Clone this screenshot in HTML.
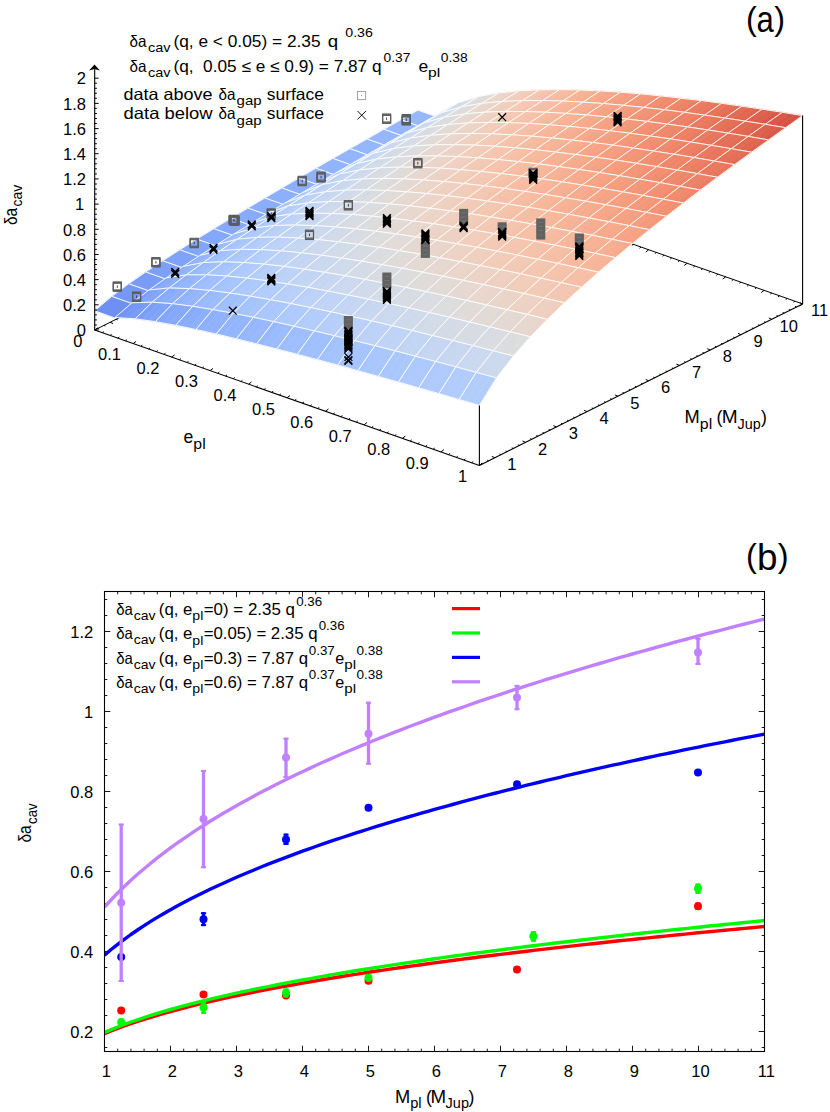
<!DOCTYPE html>
<html><head><meta charset="utf-8"><title>fig</title>
<style>
html,body{margin:0;padding:0;background:#fff;}
body{width:830px;height:1112px;overflow:hidden;font-family:"Liberation Sans",sans-serif;}
svg{display:block;}
text{font-family:"Liberation Sans",sans-serif;fill:#000;}
</style></head><body>
<svg width="830" height="1112" viewBox="0 0 830 1112">
<g stroke="#000" stroke-width="1.0" fill="none"><line x1="94.7" y1="330.0" x2="417.9" y2="168.5"/><line x1="802.6" y1="303.9" x2="417.9" y2="168.5"/><line x1="417.9" y1="168.5" x2="414.9" y2="170.7"/><line x1="425.6" y1="171.2" x2="424.1" y2="172.3"/><line x1="433.3" y1="173.9" x2="431.8" y2="175.1"/><line x1="441.0" y1="176.6" x2="439.5" y2="177.8"/><line x1="448.7" y1="179.3" x2="447.2" y2="180.5"/><line x1="456.4" y1="182.0" x2="453.4" y2="184.3"/><line x1="464.1" y1="184.7" x2="462.5" y2="185.9"/><line x1="471.8" y1="187.5" x2="470.2" y2="188.6"/><line x1="479.5" y1="190.2" x2="477.9" y2="191.3"/><line x1="487.1" y1="192.9" x2="485.6" y2="194.0"/><line x1="494.8" y1="195.6" x2="491.9" y2="197.8"/><line x1="502.5" y1="198.3" x2="501.0" y2="199.4"/><line x1="510.2" y1="201.0" x2="508.7" y2="202.1"/><line x1="517.9" y1="203.7" x2="516.4" y2="204.8"/><line x1="525.6" y1="206.4" x2="524.1" y2="207.6"/><line x1="533.3" y1="209.1" x2="530.3" y2="211.3"/><line x1="541.0" y1="211.8" x2="539.5" y2="213.0"/><line x1="548.7" y1="214.5" x2="547.2" y2="215.7"/><line x1="556.4" y1="217.2" x2="554.9" y2="218.4"/><line x1="564.1" y1="220.0" x2="562.6" y2="221.1"/><line x1="571.8" y1="222.7" x2="568.8" y2="224.9"/><line x1="579.5" y1="225.4" x2="578.0" y2="226.5"/><line x1="587.2" y1="228.1" x2="585.6" y2="229.2"/><line x1="594.9" y1="230.8" x2="593.3" y2="231.9"/><line x1="602.6" y1="233.5" x2="601.0" y2="234.6"/><line x1="610.2" y1="236.2" x2="607.3" y2="238.4"/><line x1="617.9" y1="238.9" x2="616.4" y2="240.0"/><line x1="625.6" y1="241.6" x2="624.1" y2="242.8"/><line x1="633.3" y1="244.3" x2="631.8" y2="245.5"/><line x1="641.0" y1="247.0" x2="639.5" y2="248.2"/><line x1="648.7" y1="249.7" x2="645.8" y2="252.0"/><line x1="656.4" y1="252.4" x2="654.9" y2="253.6"/><line x1="664.1" y1="255.2" x2="662.6" y2="256.3"/><line x1="671.8" y1="257.9" x2="670.3" y2="259.0"/><line x1="679.5" y1="260.6" x2="678.0" y2="261.7"/><line x1="687.2" y1="263.3" x2="684.2" y2="265.5"/><line x1="694.9" y1="266.0" x2="693.4" y2="267.1"/><line x1="702.6" y1="268.7" x2="701.1" y2="269.8"/><line x1="710.3" y1="271.4" x2="708.8" y2="272.5"/><line x1="718.0" y1="274.1" x2="716.4" y2="275.3"/><line x1="725.7" y1="276.8" x2="722.7" y2="279.0"/><line x1="733.4" y1="279.5" x2="731.8" y2="280.7"/><line x1="741.0" y1="282.2" x2="739.5" y2="283.4"/><line x1="748.7" y1="284.9" x2="747.2" y2="286.1"/><line x1="756.4" y1="287.7" x2="754.9" y2="288.8"/><line x1="764.1" y1="290.4" x2="761.2" y2="292.6"/><line x1="771.8" y1="293.1" x2="770.3" y2="294.2"/><line x1="779.5" y1="295.8" x2="778.0" y2="296.9"/><line x1="787.2" y1="298.5" x2="785.7" y2="299.6"/><line x1="794.9" y1="301.2" x2="793.4" y2="302.3"/><line x1="802.6" y1="303.9" x2="799.6" y2="306.1"/><line x1="97.8" y1="328.5" x2="99.2" y2="329.1"/><line x1="103.9" y1="325.4" x2="105.4" y2="326.0"/><line x1="110.1" y1="322.3" x2="113.1" y2="323.6"/><line x1="116.2" y1="319.2" x2="117.7" y2="319.9"/><line x1="122.4" y1="316.2" x2="123.9" y2="316.8"/><line x1="128.6" y1="313.1" x2="130.0" y2="313.7"/><line x1="134.7" y1="310.0" x2="136.2" y2="310.6"/><line x1="140.9" y1="306.9" x2="143.9" y2="308.2"/><line x1="147.0" y1="303.9" x2="148.5" y2="304.5"/><line x1="153.2" y1="300.8" x2="154.7" y2="301.4"/><line x1="159.3" y1="297.7" x2="160.8" y2="298.3"/><line x1="165.5" y1="294.6" x2="167.0" y2="295.3"/><line x1="171.7" y1="291.5" x2="174.7" y2="292.9"/><line x1="177.8" y1="288.5" x2="179.3" y2="289.1"/><line x1="184.0" y1="285.4" x2="185.4" y2="286.0"/><line x1="190.1" y1="282.3" x2="191.6" y2="283.0"/><line x1="196.3" y1="279.2" x2="197.7" y2="279.9"/><line x1="202.4" y1="276.2" x2="205.5" y2="277.5"/><line x1="208.6" y1="273.1" x2="210.1" y2="273.7"/><line x1="214.7" y1="270.0" x2="216.2" y2="270.6"/><line x1="220.9" y1="266.9" x2="222.4" y2="267.6"/><line x1="227.1" y1="263.9" x2="228.5" y2="264.5"/><line x1="233.2" y1="260.8" x2="236.2" y2="262.1"/><line x1="239.4" y1="257.7" x2="240.8" y2="258.3"/><line x1="245.5" y1="254.6" x2="247.0" y2="255.3"/><line x1="251.7" y1="251.6" x2="253.2" y2="252.2"/><line x1="257.8" y1="248.5" x2="259.3" y2="249.1"/><line x1="264.0" y1="245.4" x2="267.0" y2="246.7"/><line x1="270.2" y1="242.3" x2="271.6" y2="243.0"/><line x1="276.3" y1="239.3" x2="277.8" y2="239.9"/><line x1="282.5" y1="236.2" x2="283.9" y2="236.8"/><line x1="288.6" y1="233.1" x2="290.1" y2="233.7"/><line x1="294.8" y1="230.0" x2="297.8" y2="231.3"/><line x1="300.9" y1="226.9" x2="302.4" y2="227.6"/><line x1="307.1" y1="223.9" x2="308.6" y2="224.5"/><line x1="313.2" y1="220.8" x2="314.7" y2="221.4"/><line x1="319.4" y1="217.7" x2="320.9" y2="218.4"/><line x1="325.6" y1="214.6" x2="328.6" y2="216.0"/><line x1="331.7" y1="211.6" x2="333.2" y2="212.2"/><line x1="337.9" y1="208.5" x2="339.3" y2="209.1"/><line x1="344.0" y1="205.4" x2="345.5" y2="206.0"/><line x1="350.2" y1="202.3" x2="351.7" y2="203.0"/><line x1="356.3" y1="199.3" x2="359.4" y2="200.6"/><line x1="362.5" y1="196.2" x2="364.0" y2="196.8"/><line x1="368.7" y1="193.1" x2="370.1" y2="193.7"/><line x1="374.8" y1="190.0" x2="376.3" y2="190.7"/><line x1="381.0" y1="187.0" x2="382.4" y2="187.6"/><line x1="387.1" y1="183.9" x2="390.1" y2="185.2"/><line x1="393.3" y1="180.8" x2="394.7" y2="181.4"/><line x1="399.4" y1="177.7" x2="400.9" y2="178.4"/><line x1="405.6" y1="174.7" x2="407.1" y2="175.3"/><line x1="411.7" y1="171.6" x2="413.2" y2="172.2"/><line x1="417.9" y1="168.5" x2="420.9" y2="169.8"/></g>
<g id="surf" stroke-linejoin="round">
<polygon points="400.9,119.7 421.1,126.9 438.1,117.3 417.9,110.2" fill="#97b8ff" stroke="#97b8ff" stroke-width="0.6"/>
<polygon points="400.9,119.7 421.1,126.9 438.1,117.3 417.9,110.2" fill="none" stroke="#fff" stroke-width="0.9"/>
<polygon points="421.1,123.8 427.9,120.1 444.9,110.3 438.1,114.1" fill="#b3cdfb" stroke="#b3cdfb" stroke-width="0.6"/>
<polygon points="427.9,120.1 434.6,116.4 451.6,106.5 444.9,110.3" fill="#bed2f6" stroke="#bed2f6" stroke-width="0.6"/>
<polygon points="434.6,116.4 441.4,112.7 458.4,102.7 451.6,106.5" fill="#c5d6f2" stroke="#c5d6f2" stroke-width="0.6"/>
<polygon points="421.1,123.8 441.4,112.7 458.4,102.7 438.1,114.1" fill="none" stroke="#fff" stroke-width="0.9"/>
<polygon points="441.4,112.7 448.1,110.8 465.1,100.7 458.4,102.7" fill="#ccd9ed" stroke="#ccd9ed" stroke-width="0.6"/>
<polygon points="448.1,110.8 454.9,108.8 471.9,98.6 465.1,100.7" fill="#d2dbe8" stroke="#d2dbe8" stroke-width="0.6"/>
<polygon points="454.9,108.8 461.6,106.8 478.6,96.5 471.9,98.6" fill="#d7dce3" stroke="#d7dce3" stroke-width="0.6"/>
<polygon points="441.4,112.7 461.6,106.8 478.6,96.5 458.4,102.7" fill="none" stroke="#fff" stroke-width="0.9"/>
<polygon points="461.6,106.8 468.4,105.6 485.4,95.3 478.6,96.5" fill="#dbdcde" stroke="#dbdcde" stroke-width="0.6"/>
<polygon points="468.4,105.6 475.1,104.5 492.1,94.1 485.4,95.3" fill="#dfdbd9" stroke="#dfdbd9" stroke-width="0.6"/>
<polygon points="475.1,104.5 481.9,103.3 498.9,92.9 492.1,94.1" fill="#e3d9d3" stroke="#e3d9d3" stroke-width="0.6"/>
<polygon points="461.6,106.8 481.9,103.3 498.9,92.9 478.6,96.5" fill="none" stroke="#fff" stroke-width="0.9"/>
<polygon points="481.9,103.3 488.6,102.7 505.6,92.2 498.9,92.9" fill="#e7d7ce" stroke="#e7d7ce" stroke-width="0.6"/>
<polygon points="488.6,102.7 495.4,102.1 512.4,91.5 505.6,92.2" fill="#ead5c9" stroke="#ead5c9" stroke-width="0.6"/>
<polygon points="495.4,102.1 502.1,101.4 519.1,90.8 512.4,91.5" fill="#edd2c3" stroke="#edd2c3" stroke-width="0.6"/>
<polygon points="481.9,103.3 502.1,101.4 519.1,90.8 498.9,92.9" fill="none" stroke="#fff" stroke-width="0.9"/>
<polygon points="502.1,101.4 508.9,101.1 525.9,90.4 519.1,90.8" fill="#efcfbf" stroke="#efcfbf" stroke-width="0.6"/>
<polygon points="508.9,101.1 515.6,100.8 532.6,90.1 525.9,90.4" fill="#f1cdba" stroke="#f1cdba" stroke-width="0.6"/>
<polygon points="515.6,100.8 522.4,100.6 539.4,89.8 532.6,90.1" fill="#f2cab5" stroke="#f2cab5" stroke-width="0.6"/>
<polygon points="502.1,101.4 522.4,100.6 539.4,89.8 519.1,90.8" fill="none" stroke="#fff" stroke-width="0.9"/>
<polygon points="522.4,100.6 529.1,100.5 546.1,89.7 539.4,89.8" fill="#f3c7b1" stroke="#f3c7b1" stroke-width="0.6"/>
<polygon points="529.1,100.5 535.9,100.5 552.9,89.6 546.1,89.7" fill="#f5c4ac" stroke="#f5c4ac" stroke-width="0.6"/>
<polygon points="535.9,100.5 542.6,100.5 559.6,89.6 552.9,89.6" fill="#f5c0a7" stroke="#f5c0a7" stroke-width="0.6"/>
<polygon points="522.4,100.6 542.6,100.5 559.6,89.6 539.4,89.8" fill="none" stroke="#fff" stroke-width="0.9"/>
<polygon points="542.6,100.5 549.4,100.7 566.4,89.7 559.6,89.6" fill="#f6bea4" stroke="#f6bea4" stroke-width="0.6"/>
<polygon points="549.4,100.7 556.1,100.9 573.1,89.8 566.4,89.7" fill="#f7ba9f" stroke="#f7ba9f" stroke-width="0.6"/>
<polygon points="556.1,100.9 562.9,101.0 579.9,90.0 573.1,89.8" fill="#f7b89c" stroke="#f7b89c" stroke-width="0.6"/>
<polygon points="542.6,100.5 562.9,101.0 579.9,90.0 559.6,89.6" fill="none" stroke="#fff" stroke-width="0.9"/>
<polygon points="562.9,101.0 569.6,101.4 586.6,90.3 579.9,90.0" fill="#f7b497" stroke="#f7b497" stroke-width="0.6"/>
<polygon points="569.6,101.4 576.4,101.7 593.4,90.6 586.6,90.3" fill="#f7b194" stroke="#f7b194" stroke-width="0.6"/>
<polygon points="576.4,101.7 583.1,102.1 600.1,90.9 593.4,90.6" fill="#f7af91" stroke="#f7af91" stroke-width="0.6"/>
<polygon points="562.9,101.0 583.1,102.1 600.1,90.9 579.9,90.0" fill="none" stroke="#fff" stroke-width="0.9"/>
<polygon points="583.1,102.1 589.9,102.6 606.9,91.4 600.1,90.9" fill="#f7ac8e" stroke="#f7ac8e" stroke-width="0.6"/>
<polygon points="589.9,102.6 596.6,103.0 613.6,91.8 606.9,91.4" fill="#f7a889" stroke="#f7a889" stroke-width="0.6"/>
<polygon points="596.6,103.0 603.4,103.5 620.4,92.2 613.6,91.8" fill="#f6a586" stroke="#f6a586" stroke-width="0.6"/>
<polygon points="583.1,102.1 603.4,103.5 620.4,92.2 600.1,90.9" fill="none" stroke="#fff" stroke-width="0.9"/>
<polygon points="603.4,103.5 610.1,104.1 627.1,92.8 620.4,92.2" fill="#f6a283" stroke="#f6a283" stroke-width="0.6"/>
<polygon points="610.1,104.1 616.9,104.7 633.9,93.4 627.1,92.8" fill="#f59f80" stroke="#f59f80" stroke-width="0.6"/>
<polygon points="616.9,104.7 623.6,105.3 640.6,93.9 633.9,93.4" fill="#f59c7d" stroke="#f59c7d" stroke-width="0.6"/>
<polygon points="603.4,103.5 623.6,105.3 640.6,93.9 620.4,92.2" fill="none" stroke="#fff" stroke-width="0.9"/>
<polygon points="623.6,105.3 630.4,106.0 647.4,94.6 640.6,93.9" fill="#f4987a" stroke="#f4987a" stroke-width="0.6"/>
<polygon points="630.4,106.0 637.1,106.7 654.1,95.3 647.4,94.6" fill="#f39577" stroke="#f39577" stroke-width="0.6"/>
<polygon points="637.1,106.7 643.9,107.4 660.9,95.9 654.1,95.3" fill="#f29274" stroke="#f29274" stroke-width="0.6"/>
<polygon points="623.6,105.3 643.9,107.4 660.9,95.9 640.6,93.9" fill="none" stroke="#fff" stroke-width="0.9"/>
<polygon points="643.9,107.4 650.6,108.2 667.6,96.7 660.9,95.9" fill="#f18f71" stroke="#f18f71" stroke-width="0.6"/>
<polygon points="650.6,108.2 657.4,109.0 674.4,97.4 667.6,96.7" fill="#f08b6e" stroke="#f08b6e" stroke-width="0.6"/>
<polygon points="657.4,109.0 664.1,109.7 681.1,98.2 674.4,97.4" fill="#f08a6c" stroke="#f08a6c" stroke-width="0.6"/>
<polygon points="643.9,107.4 664.1,109.7 681.1,98.2 660.9,95.9" fill="none" stroke="#fff" stroke-width="0.9"/>
<polygon points="664.1,109.7 670.9,110.6 687.9,99.0 681.1,98.2" fill="#ee8669" stroke="#ee8669" stroke-width="0.6"/>
<polygon points="670.9,110.6 677.6,111.4 694.6,99.8 687.9,99.0" fill="#ed8366" stroke="#ed8366" stroke-width="0.6"/>
<polygon points="677.6,111.4 684.4,112.3 701.4,100.6 694.6,99.8" fill="#ec7f63" stroke="#ec7f63" stroke-width="0.6"/>
<polygon points="664.1,109.7 684.4,112.3 701.4,100.6 681.1,98.2" fill="none" stroke="#fff" stroke-width="0.9"/>
<polygon points="684.4,112.3 691.1,113.2 708.1,101.5 701.4,100.6" fill="#eb7d62" stroke="#eb7d62" stroke-width="0.6"/>
<polygon points="691.1,113.2 697.9,114.1 714.9,102.4 708.1,101.5" fill="#e97a5f" stroke="#e97a5f" stroke-width="0.6"/>
<polygon points="697.9,114.1 704.6,115.1 721.6,103.3 714.9,102.4" fill="#e8765c" stroke="#e8765c" stroke-width="0.6"/>
<polygon points="684.4,112.3 704.6,115.1 721.6,103.3 701.4,100.6" fill="none" stroke="#fff" stroke-width="0.9"/>
<polygon points="704.6,115.1 711.3,116.0 728.4,104.3 721.6,103.3" fill="#e7745b" stroke="#e7745b" stroke-width="0.6"/>
<polygon points="711.3,116.0 718.1,117.0 735.1,105.2 728.4,104.3" fill="#e57058" stroke="#e57058" stroke-width="0.6"/>
<polygon points="718.1,117.0 724.8,118.0 741.9,106.2 735.1,105.2" fill="#e36c55" stroke="#e36c55" stroke-width="0.6"/>
<polygon points="704.6,115.1 724.8,118.0 741.9,106.2 721.6,103.3" fill="none" stroke="#fff" stroke-width="0.9"/>
<polygon points="724.8,118.0 731.6,119.0 748.6,107.2 741.9,106.2" fill="#e36b54" stroke="#e36b54" stroke-width="0.6"/>
<polygon points="731.6,119.0 738.3,120.0 755.4,108.2 748.6,107.2" fill="#e16751" stroke="#e16751" stroke-width="0.6"/>
<polygon points="738.3,120.0 745.1,121.1 762.1,109.2 755.4,108.2" fill="#e0654f" stroke="#e0654f" stroke-width="0.6"/>
<polygon points="724.8,118.0 745.1,121.1 762.1,109.2 741.9,106.2" fill="none" stroke="#fff" stroke-width="0.9"/>
<polygon points="745.1,121.1 751.8,122.2 768.9,110.2 762.1,109.2" fill="#de614d" stroke="#de614d" stroke-width="0.6"/>
<polygon points="751.8,122.2 758.6,123.2 775.6,111.3 768.9,110.2" fill="#dd5f4b" stroke="#dd5f4b" stroke-width="0.6"/>
<polygon points="758.6,123.2 765.3,124.3 782.4,112.3 775.6,111.3" fill="#da5a49" stroke="#da5a49" stroke-width="0.6"/>
<polygon points="745.1,121.1 765.3,124.3 782.4,112.3 762.1,109.2" fill="none" stroke="#fff" stroke-width="0.9"/>
<polygon points="765.3,124.3 772.1,125.4 789.1,113.4 782.4,112.3" fill="#d95847" stroke="#d95847" stroke-width="0.6"/>
<polygon points="772.1,125.4 778.8,126.6 795.9,114.5 789.1,113.4" fill="#d75445" stroke="#d75445" stroke-width="0.6"/>
<polygon points="778.8,126.6 785.6,127.7 802.6,115.6 795.9,114.5" fill="#d65244" stroke="#d65244" stroke-width="0.6"/>
<polygon points="765.3,124.3 785.6,127.7 802.6,115.6 782.4,112.3" fill="none" stroke="#fff" stroke-width="0.9"/>
<polygon points="383.9,129.3 404.1,136.5 421.1,126.9 400.9,119.7" fill="#96b7ff" stroke="#96b7ff" stroke-width="0.6"/>
<polygon points="383.9,129.3 404.1,136.5 421.1,126.9 400.9,119.7" fill="none" stroke="#fff" stroke-width="0.9"/>
<polygon points="404.1,133.5 410.9,129.9 427.9,120.1 421.1,123.8" fill="#b2ccfb" stroke="#b2ccfb" stroke-width="0.6"/>
<polygon points="410.9,129.9 417.6,126.4 434.6,116.4 427.9,120.1" fill="#bbd1f8" stroke="#bbd1f8" stroke-width="0.6"/>
<polygon points="417.6,126.4 424.4,122.8 441.4,112.7 434.6,116.4" fill="#c3d5f4" stroke="#c3d5f4" stroke-width="0.6"/>
<polygon points="404.1,133.5 424.4,122.8 441.4,112.7 421.1,123.8" fill="none" stroke="#fff" stroke-width="0.9"/>
<polygon points="424.4,122.8 431.1,120.9 448.1,110.8 441.4,112.7" fill="#cad8ef" stroke="#cad8ef" stroke-width="0.6"/>
<polygon points="431.1,120.9 437.9,119.0 454.9,108.8 448.1,110.8" fill="#cfdaea" stroke="#cfdaea" stroke-width="0.6"/>
<polygon points="437.9,119.0 444.6,117.1 461.6,106.8 454.9,108.8" fill="#d5dbe5" stroke="#d5dbe5" stroke-width="0.6"/>
<polygon points="424.4,122.8 444.6,117.1 461.6,106.8 441.4,112.7" fill="none" stroke="#fff" stroke-width="0.9"/>
<polygon points="444.6,117.1 451.4,116.0 468.4,105.6 461.6,106.8" fill="#d9dce1" stroke="#d9dce1" stroke-width="0.6"/>
<polygon points="451.4,116.0 458.1,114.9 475.1,104.5 468.4,105.6" fill="#dddcdc" stroke="#dddcdc" stroke-width="0.6"/>
<polygon points="458.1,114.9 464.9,113.9 481.9,103.3 475.1,104.5" fill="#e1dad6" stroke="#e1dad6" stroke-width="0.6"/>
<polygon points="444.6,117.1 464.9,113.9 481.9,103.3 461.6,106.8" fill="none" stroke="#fff" stroke-width="0.9"/>
<polygon points="464.9,113.9 471.6,113.3 488.6,102.7 481.9,103.3" fill="#e5d8d1" stroke="#e5d8d1" stroke-width="0.6"/>
<polygon points="471.6,113.3 478.4,112.7 495.4,102.1 488.6,102.7" fill="#e8d6cc" stroke="#e8d6cc" stroke-width="0.6"/>
<polygon points="478.4,112.7 485.1,112.1 502.1,101.4 495.4,102.1" fill="#ead4c8" stroke="#ead4c8" stroke-width="0.6"/>
<polygon points="464.9,113.9 485.1,112.1 502.1,101.4 481.9,103.3" fill="none" stroke="#fff" stroke-width="0.9"/>
<polygon points="485.1,112.1 491.9,111.9 508.9,101.1 502.1,101.4" fill="#edd2c3" stroke="#edd2c3" stroke-width="0.6"/>
<polygon points="491.9,111.9 498.6,111.7 515.6,100.8 508.9,101.1" fill="#efcebd" stroke="#efcebd" stroke-width="0.6"/>
<polygon points="498.6,111.7 505.4,111.4 522.4,100.6 515.6,100.8" fill="#f1cdba" stroke="#f1cdba" stroke-width="0.6"/>
<polygon points="485.1,112.1 505.4,111.4 522.4,100.6 502.1,101.4" fill="none" stroke="#fff" stroke-width="0.9"/>
<polygon points="505.4,111.4 512.1,111.5 529.1,100.5 522.4,100.6" fill="#f2cab5" stroke="#f2cab5" stroke-width="0.6"/>
<polygon points="512.1,111.5 518.9,111.5 535.9,100.5 529.1,100.5" fill="#f3c7b1" stroke="#f3c7b1" stroke-width="0.6"/>
<polygon points="518.9,111.5 525.6,111.5 542.6,100.5 535.9,100.5" fill="#f5c4ac" stroke="#f5c4ac" stroke-width="0.6"/>
<polygon points="505.4,111.4 525.6,111.5 542.6,100.5 522.4,100.6" fill="none" stroke="#fff" stroke-width="0.9"/>
<polygon points="525.6,111.5 532.4,111.7 549.4,100.7 542.6,100.5" fill="#f5c1a9" stroke="#f5c1a9" stroke-width="0.6"/>
<polygon points="532.4,111.7 539.1,112.0 556.1,100.9 549.4,100.7" fill="#f6bea4" stroke="#f6bea4" stroke-width="0.6"/>
<polygon points="539.1,112.0 545.9,112.2 562.9,101.0 556.1,100.9" fill="#f7bca1" stroke="#f7bca1" stroke-width="0.6"/>
<polygon points="525.6,111.5 545.9,112.2 562.9,101.0 542.6,100.5" fill="none" stroke="#fff" stroke-width="0.9"/>
<polygon points="545.9,112.2 552.6,112.6 569.6,101.4 562.9,101.0" fill="#f7b89c" stroke="#f7b89c" stroke-width="0.6"/>
<polygon points="552.6,112.6 559.4,113.0 576.4,101.7 569.6,101.4" fill="#f7b599" stroke="#f7b599" stroke-width="0.6"/>
<polygon points="559.4,113.0 566.1,113.4 583.1,102.1 576.4,101.7" fill="#f7b396" stroke="#f7b396" stroke-width="0.6"/>
<polygon points="545.9,112.2 566.1,113.4 583.1,102.1 562.9,101.0" fill="none" stroke="#fff" stroke-width="0.9"/>
<polygon points="566.1,113.4 572.9,113.9 589.9,102.6 583.1,102.1" fill="#f7b093" stroke="#f7b093" stroke-width="0.6"/>
<polygon points="572.9,113.9 579.6,114.4 596.6,103.0 589.9,102.6" fill="#f7ad90" stroke="#f7ad90" stroke-width="0.6"/>
<polygon points="579.6,114.4 586.4,114.9 603.4,103.5 596.6,103.0" fill="#f7a98b" stroke="#f7a98b" stroke-width="0.6"/>
<polygon points="566.1,113.4 586.4,114.9 603.4,103.5 583.1,102.1" fill="none" stroke="#fff" stroke-width="0.9"/>
<polygon points="586.4,114.9 593.1,115.5 610.1,104.1 603.4,103.5" fill="#f7a688" stroke="#f7a688" stroke-width="0.6"/>
<polygon points="593.1,115.5 599.9,116.2 616.9,104.7 610.1,104.1" fill="#f6a385" stroke="#f6a385" stroke-width="0.6"/>
<polygon points="599.9,116.2 606.6,116.8 623.6,105.3 616.9,104.7" fill="#f5a081" stroke="#f5a081" stroke-width="0.6"/>
<polygon points="586.4,114.9 606.6,116.8 623.6,105.3 603.4,103.5" fill="none" stroke="#fff" stroke-width="0.9"/>
<polygon points="606.6,116.8 613.3,117.5 630.4,106.0 623.6,105.3" fill="#f59d7e" stroke="#f59d7e" stroke-width="0.6"/>
<polygon points="613.3,117.5 620.1,118.3 637.1,106.7 630.4,106.0" fill="#f49a7b" stroke="#f49a7b" stroke-width="0.6"/>
<polygon points="620.1,118.3 626.8,119.0 643.9,107.4 637.1,106.7" fill="#f4987a" stroke="#f4987a" stroke-width="0.6"/>
<polygon points="606.6,116.8 626.8,119.0 643.9,107.4 623.6,105.3" fill="none" stroke="#fff" stroke-width="0.9"/>
<polygon points="626.8,119.0 633.6,119.8 650.6,108.2 643.9,107.4" fill="#f39577" stroke="#f39577" stroke-width="0.6"/>
<polygon points="633.6,119.8 640.3,120.6 657.4,109.0 650.6,108.2" fill="#f29274" stroke="#f29274" stroke-width="0.6"/>
<polygon points="640.3,120.6 647.1,121.4 664.1,109.7 657.4,109.0" fill="#f18f71" stroke="#f18f71" stroke-width="0.6"/>
<polygon points="626.8,119.0 647.1,121.4 664.1,109.7 643.9,107.4" fill="none" stroke="#fff" stroke-width="0.9"/>
<polygon points="647.1,121.4 653.8,122.3 670.9,110.6 664.1,109.7" fill="#f08b6e" stroke="#f08b6e" stroke-width="0.6"/>
<polygon points="653.8,122.3 660.6,123.2 677.6,111.4 670.9,110.6" fill="#f08a6c" stroke="#f08a6c" stroke-width="0.6"/>
<polygon points="660.6,123.2 667.3,124.1 684.4,112.3 677.6,111.4" fill="#ee8669" stroke="#ee8669" stroke-width="0.6"/>
<polygon points="647.1,121.4 667.3,124.1 684.4,112.3 664.1,109.7" fill="none" stroke="#fff" stroke-width="0.9"/>
<polygon points="667.3,124.1 674.1,125.0 691.1,113.2 684.4,112.3" fill="#ed8366" stroke="#ed8366" stroke-width="0.6"/>
<polygon points="674.1,125.0 680.8,126.0 697.9,114.1 691.1,113.2" fill="#ec8165" stroke="#ec8165" stroke-width="0.6"/>
<polygon points="680.8,126.0 687.6,126.9 704.6,115.1 697.9,114.1" fill="#eb7d62" stroke="#eb7d62" stroke-width="0.6"/>
<polygon points="667.3,124.1 687.6,126.9 704.6,115.1 684.4,112.3" fill="none" stroke="#fff" stroke-width="0.9"/>
<polygon points="687.6,126.9 694.3,127.9 711.3,116.0 704.6,115.1" fill="#e97a5f" stroke="#e97a5f" stroke-width="0.6"/>
<polygon points="694.3,127.9 701.1,128.9 718.1,117.0 711.3,116.0" fill="#e9785d" stroke="#e9785d" stroke-width="0.6"/>
<polygon points="701.1,128.9 707.8,129.9 724.8,118.0 718.1,117.0" fill="#e7745b" stroke="#e7745b" stroke-width="0.6"/>
<polygon points="687.6,126.9 707.8,129.9 724.8,118.0 704.6,115.1" fill="none" stroke="#fff" stroke-width="0.9"/>
<polygon points="707.8,129.9 714.6,131.0 731.6,119.0 724.8,118.0" fill="#e67259" stroke="#e67259" stroke-width="0.6"/>
<polygon points="714.6,131.0 721.3,132.0 738.3,120.0 731.6,119.0" fill="#e46e56" stroke="#e46e56" stroke-width="0.6"/>
<polygon points="721.3,132.0 728.1,133.1 745.1,121.1 738.3,120.0" fill="#e36c55" stroke="#e36c55" stroke-width="0.6"/>
<polygon points="707.8,129.9 728.1,133.1 745.1,121.1 724.8,118.0" fill="none" stroke="#fff" stroke-width="0.9"/>
<polygon points="728.1,133.1 734.8,134.2 751.8,122.2 745.1,121.1" fill="#e26952" stroke="#e26952" stroke-width="0.6"/>
<polygon points="734.8,134.2 741.6,135.3 758.6,123.2 751.8,122.2" fill="#e16751" stroke="#e16751" stroke-width="0.6"/>
<polygon points="741.6,135.3 748.3,136.4 765.3,124.3 758.6,123.2" fill="#df634e" stroke="#df634e" stroke-width="0.6"/>
<polygon points="728.1,133.1 748.3,136.4 765.3,124.3 745.1,121.1" fill="none" stroke="#fff" stroke-width="0.9"/>
<polygon points="748.3,136.4 755.1,137.6 772.1,125.4 765.3,124.3" fill="#de614d" stroke="#de614d" stroke-width="0.6"/>
<polygon points="755.1,137.6 761.8,138.7 778.8,126.6 772.1,125.4" fill="#dc5d4a" stroke="#dc5d4a" stroke-width="0.6"/>
<polygon points="761.8,138.7 768.6,139.9 785.6,127.7 778.8,126.6" fill="#da5a49" stroke="#da5a49" stroke-width="0.6"/>
<polygon points="748.3,136.4 768.6,139.9 785.6,127.7 765.3,124.3" fill="none" stroke="#fff" stroke-width="0.9"/>
<polygon points="366.9,139.0 387.1,146.1 404.1,136.5 383.9,129.3" fill="#96b7ff" stroke="#96b7ff" stroke-width="0.6"/>
<polygon points="366.9,139.0 387.1,146.1 404.1,136.5 383.9,129.3" fill="none" stroke="#fff" stroke-width="0.9"/>
<polygon points="387.1,143.2 393.9,139.8 410.9,129.9 404.1,133.5" fill="#afcafc" stroke="#afcafc" stroke-width="0.6"/>
<polygon points="393.9,139.8 400.6,136.4 417.6,126.4 410.9,129.9" fill="#b9d0f9" stroke="#b9d0f9" stroke-width="0.6"/>
<polygon points="400.6,136.4 407.4,132.9 424.4,122.8 417.6,126.4" fill="#c0d4f5" stroke="#c0d4f5" stroke-width="0.6"/>
<polygon points="387.1,143.2 407.4,132.9 424.4,122.8 404.1,133.5" fill="none" stroke="#fff" stroke-width="0.9"/>
<polygon points="407.4,132.9 414.1,131.1 431.1,120.9 424.4,122.8" fill="#c7d7f0" stroke="#c7d7f0" stroke-width="0.6"/>
<polygon points="414.1,131.1 420.9,129.3 437.9,119.0 431.1,120.9" fill="#cdd9ec" stroke="#cdd9ec" stroke-width="0.6"/>
<polygon points="420.9,129.3 427.6,127.5 444.6,117.1 437.9,119.0" fill="#d2dbe8" stroke="#d2dbe8" stroke-width="0.6"/>
<polygon points="407.4,132.9 427.6,127.5 444.6,117.1 424.4,122.8" fill="none" stroke="#fff" stroke-width="0.9"/>
<polygon points="427.6,127.5 434.4,126.5 451.4,116.0 444.6,117.1" fill="#d7dce3" stroke="#d7dce3" stroke-width="0.6"/>
<polygon points="434.4,126.5 441.1,125.5 458.1,114.9 451.4,116.0" fill="#dbdcde" stroke="#dbdcde" stroke-width="0.6"/>
<polygon points="441.1,125.5 447.9,124.5 464.9,113.9 458.1,114.9" fill="#dfdbd9" stroke="#dfdbd9" stroke-width="0.6"/>
<polygon points="427.6,127.5 447.9,124.5 464.9,113.9 444.6,117.1" fill="none" stroke="#fff" stroke-width="0.9"/>
<polygon points="447.9,124.5 454.6,124.0 471.6,113.3 464.9,113.9" fill="#e2dad5" stroke="#e2dad5" stroke-width="0.6"/>
<polygon points="454.6,124.0 461.4,123.4 478.4,112.7 471.6,113.3" fill="#e5d8d1" stroke="#e5d8d1" stroke-width="0.6"/>
<polygon points="461.4,123.4 468.1,122.9 485.1,112.1 478.4,112.7" fill="#e9d5cb" stroke="#e9d5cb" stroke-width="0.6"/>
<polygon points="447.9,124.5 468.1,122.9 485.1,112.1 464.9,113.9" fill="none" stroke="#fff" stroke-width="0.9"/>
<polygon points="468.1,122.9 474.9,122.7 491.9,111.9 485.1,112.1" fill="#ebd3c6" stroke="#ebd3c6" stroke-width="0.6"/>
<polygon points="474.9,122.7 481.6,122.6 498.6,111.7 491.9,111.9" fill="#edd1c2" stroke="#edd1c2" stroke-width="0.6"/>
<polygon points="481.6,122.6 488.4,122.4 505.4,111.4 498.6,111.7" fill="#efcebd" stroke="#efcebd" stroke-width="0.6"/>
<polygon points="468.1,122.9 488.4,122.4 505.4,111.4 485.1,112.1" fill="none" stroke="#fff" stroke-width="0.9"/>
<polygon points="488.4,122.4 495.1,122.5 512.1,111.5 505.4,111.4" fill="#f1cdba" stroke="#f1cdba" stroke-width="0.6"/>
<polygon points="495.1,122.5 501.9,122.5 518.9,111.5 512.1,111.5" fill="#f2cab5" stroke="#f2cab5" stroke-width="0.6"/>
<polygon points="501.9,122.5 508.6,122.6 525.6,111.5 518.9,111.5" fill="#f3c7b1" stroke="#f3c7b1" stroke-width="0.6"/>
<polygon points="488.4,122.4 508.6,122.6 525.6,111.5 505.4,111.4" fill="none" stroke="#fff" stroke-width="0.9"/>
<polygon points="508.6,122.6 515.3,122.9 532.4,111.7 525.6,111.5" fill="#f4c5ad" stroke="#f4c5ad" stroke-width="0.6"/>
<polygon points="515.3,122.9 522.1,123.2 539.1,112.0 532.4,111.7" fill="#f5c1a9" stroke="#f5c1a9" stroke-width="0.6"/>
<polygon points="522.1,123.2 528.8,123.4 545.9,112.2 539.1,112.0" fill="#f6bfa6" stroke="#f6bfa6" stroke-width="0.6"/>
<polygon points="508.6,122.6 528.8,123.4 545.9,112.2 525.6,111.5" fill="none" stroke="#fff" stroke-width="0.9"/>
<polygon points="528.8,123.4 535.6,123.9 552.6,112.6 545.9,112.2" fill="#f6bda2" stroke="#f6bda2" stroke-width="0.6"/>
<polygon points="535.6,123.9 542.3,124.3 559.4,113.0 552.6,112.6" fill="#f7b99e" stroke="#f7b99e" stroke-width="0.6"/>
<polygon points="542.3,124.3 549.1,124.7 566.1,113.4 559.4,113.0" fill="#f7b79b" stroke="#f7b79b" stroke-width="0.6"/>
<polygon points="528.8,123.4 549.1,124.7 566.1,113.4 545.9,112.2" fill="none" stroke="#fff" stroke-width="0.9"/>
<polygon points="549.1,124.7 555.8,125.3 572.9,113.9 566.1,113.4" fill="#f7b497" stroke="#f7b497" stroke-width="0.6"/>
<polygon points="555.8,125.3 562.6,125.8 579.6,114.4 572.9,113.9" fill="#f7b194" stroke="#f7b194" stroke-width="0.6"/>
<polygon points="562.6,125.8 569.3,126.4 586.4,114.9 579.6,114.4" fill="#f7af91" stroke="#f7af91" stroke-width="0.6"/>
<polygon points="549.1,124.7 569.3,126.4 586.4,114.9 566.1,113.4" fill="none" stroke="#fff" stroke-width="0.9"/>
<polygon points="569.3,126.4 576.1,127.1 593.1,115.5 586.4,114.9" fill="#f7ac8e" stroke="#f7ac8e" stroke-width="0.6"/>
<polygon points="576.1,127.1 582.8,127.7 599.9,116.2 593.1,115.5" fill="#f7a98b" stroke="#f7a98b" stroke-width="0.6"/>
<polygon points="582.8,127.7 589.6,128.4 606.6,116.8 599.9,116.2" fill="#f7a688" stroke="#f7a688" stroke-width="0.6"/>
<polygon points="569.3,126.4 589.6,128.4 606.6,116.8 586.4,114.9" fill="none" stroke="#fff" stroke-width="0.9"/>
<polygon points="589.6,128.4 596.3,129.2 613.3,117.5 606.6,116.8" fill="#f6a385" stroke="#f6a385" stroke-width="0.6"/>
<polygon points="596.3,129.2 603.1,129.9 620.1,118.3 613.3,117.5" fill="#f5a081" stroke="#f5a081" stroke-width="0.6"/>
<polygon points="603.1,129.9 609.8,130.7 626.8,119.0 620.1,118.3" fill="#f59d7e" stroke="#f59d7e" stroke-width="0.6"/>
<polygon points="589.6,128.4 609.8,130.7 626.8,119.0 606.6,116.8" fill="none" stroke="#fff" stroke-width="0.9"/>
<polygon points="609.8,130.7 616.6,131.5 633.6,119.8 626.8,119.0" fill="#f49a7b" stroke="#f49a7b" stroke-width="0.6"/>
<polygon points="616.6,131.5 623.3,132.4 640.3,120.6 633.6,119.8" fill="#f4987a" stroke="#f4987a" stroke-width="0.6"/>
<polygon points="623.3,132.4 630.1,133.2 647.1,121.4 640.3,120.6" fill="#f39577" stroke="#f39577" stroke-width="0.6"/>
<polygon points="609.8,130.7 630.1,133.2 647.1,121.4 626.8,119.0" fill="none" stroke="#fff" stroke-width="0.9"/>
<polygon points="630.1,133.2 636.8,134.1 653.8,122.3 647.1,121.4" fill="#f29274" stroke="#f29274" stroke-width="0.6"/>
<polygon points="636.8,134.1 643.6,135.0 660.6,123.2 653.8,122.3" fill="#f18f71" stroke="#f18f71" stroke-width="0.6"/>
<polygon points="643.6,135.0 650.3,136.0 667.3,124.1 660.6,123.2" fill="#f18d6f" stroke="#f18d6f" stroke-width="0.6"/>
<polygon points="630.1,133.2 650.3,136.0 667.3,124.1 647.1,121.4" fill="none" stroke="#fff" stroke-width="0.9"/>
<polygon points="650.3,136.0 657.1,136.9 674.1,125.0 667.3,124.1" fill="#f08a6c" stroke="#f08a6c" stroke-width="0.6"/>
<polygon points="657.1,136.9 663.8,137.9 680.8,126.0 674.1,125.0" fill="#ef886b" stroke="#ef886b" stroke-width="0.6"/>
<polygon points="663.8,137.9 670.6,138.9 687.6,126.9 680.8,126.0" fill="#ee8468" stroke="#ee8468" stroke-width="0.6"/>
<polygon points="650.3,136.0 670.6,138.9 687.6,126.9 667.3,124.1" fill="none" stroke="#fff" stroke-width="0.9"/>
<polygon points="670.6,138.9 677.3,139.9 694.3,127.9 687.6,126.9" fill="#ec8165" stroke="#ec8165" stroke-width="0.6"/>
<polygon points="677.3,139.9 684.1,141.0 701.1,128.9 694.3,127.9" fill="#ec7f63" stroke="#ec7f63" stroke-width="0.6"/>
<polygon points="684.1,141.0 690.8,142.0 707.8,129.9 701.1,128.9" fill="#ea7b60" stroke="#ea7b60" stroke-width="0.6"/>
<polygon points="670.6,138.9 690.8,142.0 707.8,129.9 687.6,126.9" fill="none" stroke="#fff" stroke-width="0.9"/>
<polygon points="690.8,142.0 697.6,143.1 714.6,131.0 707.8,129.9" fill="#e97a5f" stroke="#e97a5f" stroke-width="0.6"/>
<polygon points="697.6,143.1 704.3,144.2 721.3,132.0 714.6,131.0" fill="#e8765c" stroke="#e8765c" stroke-width="0.6"/>
<polygon points="704.3,144.2 711.1,145.3 728.1,133.1 721.3,132.0" fill="#e7745b" stroke="#e7745b" stroke-width="0.6"/>
<polygon points="690.8,142.0 711.1,145.3 728.1,133.1 707.8,129.9" fill="none" stroke="#fff" stroke-width="0.9"/>
<polygon points="711.1,145.3 717.8,146.4 734.8,134.2 728.1,133.1" fill="#e57058" stroke="#e57058" stroke-width="0.6"/>
<polygon points="717.8,146.4 724.6,147.5 741.6,135.3 734.8,134.2" fill="#e46e56" stroke="#e46e56" stroke-width="0.6"/>
<polygon points="724.6,147.5 731.3,148.7 748.3,136.4 741.6,135.3" fill="#e36c55" stroke="#e36c55" stroke-width="0.6"/>
<polygon points="711.1,145.3 731.3,148.7 748.3,136.4 728.1,133.1" fill="none" stroke="#fff" stroke-width="0.9"/>
<polygon points="731.3,148.7 738.1,149.8 755.1,137.6 748.3,136.4" fill="#e26952" stroke="#e26952" stroke-width="0.6"/>
<polygon points="738.1,149.8 744.8,151.0 761.8,138.7 755.1,137.6" fill="#e16751" stroke="#e16751" stroke-width="0.6"/>
<polygon points="744.8,151.0 751.6,152.2 768.6,139.9 761.8,138.7" fill="#df634e" stroke="#df634e" stroke-width="0.6"/>
<polygon points="731.3,148.7 751.6,152.2 768.6,139.9 748.3,136.4" fill="none" stroke="#fff" stroke-width="0.9"/>
<polygon points="349.9,148.7 370.1,155.8 387.1,146.1 366.9,139.0" fill="#94b6ff" stroke="#94b6ff" stroke-width="0.6"/>
<polygon points="349.9,148.7 370.1,155.8 387.1,146.1 366.9,139.0" fill="none" stroke="#fff" stroke-width="0.9"/>
<polygon points="370.1,153.0 376.9,149.7 393.9,139.8 387.1,143.2" fill="#aec9fc" stroke="#aec9fc" stroke-width="0.6"/>
<polygon points="376.9,149.7 383.6,146.4 400.6,136.4 393.9,139.8" fill="#b7cff9" stroke="#b7cff9" stroke-width="0.6"/>
<polygon points="383.6,146.4 390.4,143.1 407.4,132.9 400.6,136.4" fill="#bfd3f6" stroke="#bfd3f6" stroke-width="0.6"/>
<polygon points="370.1,153.0 390.4,143.1 407.4,132.9 387.1,143.2" fill="none" stroke="#fff" stroke-width="0.9"/>
<polygon points="390.4,143.1 397.1,141.4 414.1,131.1 407.4,132.9" fill="#c5d6f2" stroke="#c5d6f2" stroke-width="0.6"/>
<polygon points="397.1,141.4 403.9,139.7 420.9,129.3 414.1,131.1" fill="#cbd8ee" stroke="#cbd8ee" stroke-width="0.6"/>
<polygon points="403.9,139.7 410.6,138.0 427.6,127.5 420.9,129.3" fill="#cfdaea" stroke="#cfdaea" stroke-width="0.6"/>
<polygon points="390.4,143.1 410.6,138.0 427.6,127.5 407.4,132.9" fill="none" stroke="#fff" stroke-width="0.9"/>
<polygon points="410.6,138.0 417.3,137.0 434.4,126.5 427.6,127.5" fill="#d4dbe6" stroke="#d4dbe6" stroke-width="0.6"/>
<polygon points="417.3,137.0 424.1,136.1 441.1,125.5 434.4,126.5" fill="#d8dce2" stroke="#d8dce2" stroke-width="0.6"/>
<polygon points="424.1,136.1 430.8,135.2 447.9,124.5 441.1,125.5" fill="#dcdddd" stroke="#dcdddd" stroke-width="0.6"/>
<polygon points="410.6,138.0 430.8,135.2 447.9,124.5 427.6,127.5" fill="none" stroke="#fff" stroke-width="0.9"/>
<polygon points="430.8,135.2 437.6,134.7 454.6,124.0 447.9,124.5" fill="#e0dbd8" stroke="#e0dbd8" stroke-width="0.6"/>
<polygon points="437.6,134.7 444.3,134.3 461.4,123.4 454.6,124.0" fill="#e3d9d3" stroke="#e3d9d3" stroke-width="0.6"/>
<polygon points="444.3,134.3 451.1,133.8 468.1,122.9 461.4,123.4" fill="#e6d7cf" stroke="#e6d7cf" stroke-width="0.6"/>
<polygon points="430.8,135.2 451.1,133.8 468.1,122.9 447.9,124.5" fill="none" stroke="#fff" stroke-width="0.9"/>
<polygon points="451.1,133.8 457.8,133.7 474.9,122.7 468.1,122.9" fill="#e9d5cb" stroke="#e9d5cb" stroke-width="0.6"/>
<polygon points="457.8,133.7 464.6,133.6 481.6,122.6 474.9,122.7" fill="#ebd3c6" stroke="#ebd3c6" stroke-width="0.6"/>
<polygon points="464.6,133.6 471.3,133.4 488.4,122.4 481.6,122.6" fill="#edd1c2" stroke="#edd1c2" stroke-width="0.6"/>
<polygon points="451.1,133.8 471.3,133.4 488.4,122.4 468.1,122.9" fill="none" stroke="#fff" stroke-width="0.9"/>
<polygon points="471.3,133.4 478.1,133.6 495.1,122.5 488.4,122.4" fill="#efcebd" stroke="#efcebd" stroke-width="0.6"/>
<polygon points="478.1,133.6 484.8,133.7 501.9,122.5 495.1,122.5" fill="#f1cdba" stroke="#f1cdba" stroke-width="0.6"/>
<polygon points="484.8,133.7 491.6,133.8 508.6,122.6 501.9,122.5" fill="#f2cab5" stroke="#f2cab5" stroke-width="0.6"/>
<polygon points="471.3,133.4 491.6,133.8 508.6,122.6 488.4,122.4" fill="none" stroke="#fff" stroke-width="0.9"/>
<polygon points="491.6,133.8 498.3,134.1 515.3,122.9 508.6,122.6" fill="#f3c8b2" stroke="#f3c8b2" stroke-width="0.6"/>
<polygon points="498.3,134.1 505.1,134.5 522.1,123.2 515.3,122.9" fill="#f4c5ad" stroke="#f4c5ad" stroke-width="0.6"/>
<polygon points="505.1,134.5 511.8,134.8 528.8,123.4 522.1,123.2" fill="#f5c2aa" stroke="#f5c2aa" stroke-width="0.6"/>
<polygon points="491.6,133.8 511.8,134.8 528.8,123.4 508.6,122.6" fill="none" stroke="#fff" stroke-width="0.9"/>
<polygon points="511.8,134.8 518.6,135.3 535.6,123.9 528.8,123.4" fill="#f5c0a7" stroke="#f5c0a7" stroke-width="0.6"/>
<polygon points="518.6,135.3 525.3,135.7 542.3,124.3 535.6,123.9" fill="#f6bea4" stroke="#f6bea4" stroke-width="0.6"/>
<polygon points="525.3,135.7 532.1,136.2 549.1,124.7 542.3,124.3" fill="#f7ba9f" stroke="#f7ba9f" stroke-width="0.6"/>
<polygon points="511.8,134.8 532.1,136.2 549.1,124.7 528.8,123.4" fill="none" stroke="#fff" stroke-width="0.9"/>
<polygon points="532.1,136.2 538.8,136.8 555.8,125.3 549.1,124.7" fill="#f7b89c" stroke="#f7b89c" stroke-width="0.6"/>
<polygon points="538.8,136.8 545.6,137.4 562.6,125.8 555.8,125.3" fill="#f7b599" stroke="#f7b599" stroke-width="0.6"/>
<polygon points="545.6,137.4 552.3,138.0 569.3,126.4 562.6,125.8" fill="#f7b396" stroke="#f7b396" stroke-width="0.6"/>
<polygon points="532.1,136.2 552.3,138.0 569.3,126.4 549.1,124.7" fill="none" stroke="#fff" stroke-width="0.9"/>
<polygon points="552.3,138.0 559.1,138.7 576.1,127.1 569.3,126.4" fill="#f7b093" stroke="#f7b093" stroke-width="0.6"/>
<polygon points="559.1,138.7 565.8,139.4 582.8,127.7 576.1,127.1" fill="#f7ad90" stroke="#f7ad90" stroke-width="0.6"/>
<polygon points="565.8,139.4 572.6,140.1 589.6,128.4 582.8,127.7" fill="#f7aa8c" stroke="#f7aa8c" stroke-width="0.6"/>
<polygon points="552.3,138.0 572.6,140.1 589.6,128.4 569.3,126.4" fill="none" stroke="#fff" stroke-width="0.9"/>
<polygon points="572.6,140.1 579.3,140.9 596.3,129.2 589.6,128.4" fill="#f7a98b" stroke="#f7a98b" stroke-width="0.6"/>
<polygon points="579.3,140.9 586.1,141.7 603.1,129.9 596.3,129.2" fill="#f7a688" stroke="#f7a688" stroke-width="0.6"/>
<polygon points="586.1,141.7 592.8,142.5 609.8,130.7 603.1,129.9" fill="#f6a385" stroke="#f6a385" stroke-width="0.6"/>
<polygon points="572.6,140.1 592.8,142.5 609.8,130.7 589.6,128.4" fill="none" stroke="#fff" stroke-width="0.9"/>
<polygon points="592.8,142.5 599.6,143.4 616.6,131.5 609.8,130.7" fill="#f5a081" stroke="#f5a081" stroke-width="0.6"/>
<polygon points="599.6,143.4 606.3,144.3 623.3,132.4 616.6,131.5" fill="#f59d7e" stroke="#f59d7e" stroke-width="0.6"/>
<polygon points="606.3,144.3 613.1,145.1 630.1,133.2 623.3,132.4" fill="#f59c7d" stroke="#f59c7d" stroke-width="0.6"/>
<polygon points="592.8,142.5 613.1,145.1 630.1,133.2 609.8,130.7" fill="none" stroke="#fff" stroke-width="0.9"/>
<polygon points="613.1,145.1 619.8,146.1 636.8,134.1 630.1,133.2" fill="#f4987a" stroke="#f4987a" stroke-width="0.6"/>
<polygon points="619.8,146.1 626.6,147.0 643.6,135.0 636.8,134.1" fill="#f39577" stroke="#f39577" stroke-width="0.6"/>
<polygon points="626.6,147.0 633.3,148.0 650.3,136.0 643.6,135.0" fill="#f39475" stroke="#f39475" stroke-width="0.6"/>
<polygon points="613.1,145.1 633.3,148.0 650.3,136.0 630.1,133.2" fill="none" stroke="#fff" stroke-width="0.9"/>
<polygon points="633.3,148.0 640.1,149.0 657.1,136.9 650.3,136.0" fill="#f29072" stroke="#f29072" stroke-width="0.6"/>
<polygon points="640.1,149.0 646.8,150.0 663.8,137.9 657.1,136.9" fill="#f18f71" stroke="#f18f71" stroke-width="0.6"/>
<polygon points="646.8,150.0 653.6,151.0 670.6,138.9 663.8,137.9" fill="#f08b6e" stroke="#f08b6e" stroke-width="0.6"/>
<polygon points="633.3,148.0 653.6,151.0 670.6,138.9 650.3,136.0" fill="none" stroke="#fff" stroke-width="0.9"/>
<polygon points="653.6,151.0 660.3,152.1 677.3,139.9 670.6,138.9" fill="#f08a6c" stroke="#f08a6c" stroke-width="0.6"/>
<polygon points="660.3,152.1 667.1,153.1 684.1,141.0 677.3,139.9" fill="#ee8669" stroke="#ee8669" stroke-width="0.6"/>
<polygon points="667.1,153.1 673.8,154.2 690.8,142.0 684.1,141.0" fill="#ed8366" stroke="#ed8366" stroke-width="0.6"/>
<polygon points="653.6,151.0 673.8,154.2 690.8,142.0 670.6,138.9" fill="none" stroke="#fff" stroke-width="0.9"/>
<polygon points="673.8,154.2 680.6,155.3 697.6,143.1 690.8,142.0" fill="#ec8165" stroke="#ec8165" stroke-width="0.6"/>
<polygon points="680.6,155.3 687.3,156.4 704.3,144.2 697.6,143.1" fill="#ec7f63" stroke="#ec7f63" stroke-width="0.6"/>
<polygon points="687.3,156.4 694.1,157.5 711.1,145.3 704.3,144.2" fill="#ea7b60" stroke="#ea7b60" stroke-width="0.6"/>
<polygon points="673.8,154.2 694.1,157.5 711.1,145.3 690.8,142.0" fill="none" stroke="#fff" stroke-width="0.9"/>
<polygon points="694.1,157.5 700.8,158.7 717.8,146.4 711.1,145.3" fill="#e97a5f" stroke="#e97a5f" stroke-width="0.6"/>
<polygon points="700.8,158.7 707.6,159.9 724.6,147.5 717.8,146.4" fill="#e8765c" stroke="#e8765c" stroke-width="0.6"/>
<polygon points="707.6,159.9 714.3,161.0 731.3,148.7 724.6,147.5" fill="#e7745b" stroke="#e7745b" stroke-width="0.6"/>
<polygon points="694.1,157.5 714.3,161.0 731.3,148.7 711.1,145.3" fill="none" stroke="#fff" stroke-width="0.9"/>
<polygon points="714.3,161.0 721.1,162.2 738.1,149.8 731.3,148.7" fill="#e67259" stroke="#e67259" stroke-width="0.6"/>
<polygon points="721.1,162.2 727.8,163.4 744.8,151.0 738.1,149.8" fill="#e46e56" stroke="#e46e56" stroke-width="0.6"/>
<polygon points="727.8,163.4 734.6,164.6 751.6,152.2 744.8,151.0" fill="#e36c55" stroke="#e36c55" stroke-width="0.6"/>
<polygon points="714.3,161.0 734.6,164.6 751.6,152.2 731.3,148.7" fill="none" stroke="#fff" stroke-width="0.9"/>
<polygon points="332.8,158.4 353.1,165.6 370.1,155.8 349.9,148.7" fill="#93b5fe" stroke="#93b5fe" stroke-width="0.6"/>
<polygon points="332.8,158.4 353.1,165.6 370.1,155.8 349.9,148.7" fill="none" stroke="#fff" stroke-width="0.9"/>
<polygon points="353.1,162.9 359.8,159.7 376.9,149.7 370.1,153.0" fill="#abc8fd" stroke="#abc8fd" stroke-width="0.6"/>
<polygon points="359.8,159.7 366.6,156.5 383.6,146.4 376.9,149.7" fill="#b5cdfa" stroke="#b5cdfa" stroke-width="0.6"/>
<polygon points="366.6,156.5 373.3,153.3 390.4,143.1 383.6,146.4" fill="#bcd2f7" stroke="#bcd2f7" stroke-width="0.6"/>
<polygon points="353.1,162.9 373.3,153.3 390.4,143.1 370.1,153.0" fill="none" stroke="#fff" stroke-width="0.9"/>
<polygon points="373.3,153.3 380.1,151.7 397.1,141.4 390.4,143.1" fill="#c3d5f4" stroke="#c3d5f4" stroke-width="0.6"/>
<polygon points="380.1,151.7 386.8,150.1 403.9,139.7 397.1,141.4" fill="#c9d7f0" stroke="#c9d7f0" stroke-width="0.6"/>
<polygon points="386.8,150.1 393.6,148.5 410.6,138.0 403.9,139.7" fill="#cdd9ec" stroke="#cdd9ec" stroke-width="0.6"/>
<polygon points="373.3,153.3 393.6,148.5 410.6,138.0 390.4,143.1" fill="none" stroke="#fff" stroke-width="0.9"/>
<polygon points="393.6,148.5 400.3,147.6 417.3,137.0 410.6,138.0" fill="#d2dbe8" stroke="#d2dbe8" stroke-width="0.6"/>
<polygon points="400.3,147.6 407.1,146.8 424.1,136.1 417.3,137.0" fill="#d6dce4" stroke="#d6dce4" stroke-width="0.6"/>
<polygon points="407.1,146.8 413.8,145.9 430.8,135.2 424.1,136.1" fill="#dadce0" stroke="#dadce0" stroke-width="0.6"/>
<polygon points="393.6,148.5 413.8,145.9 430.8,135.2 410.6,138.0" fill="none" stroke="#fff" stroke-width="0.9"/>
<polygon points="413.8,145.9 420.6,145.5 437.6,134.7 430.8,135.2" fill="#dddcdc" stroke="#dddcdc" stroke-width="0.6"/>
<polygon points="420.6,145.5 427.3,145.2 444.3,134.3 437.6,134.7" fill="#e0dbd8" stroke="#e0dbd8" stroke-width="0.6"/>
<polygon points="427.3,145.2 434.1,144.8 451.1,133.8 444.3,134.3" fill="#e3d9d3" stroke="#e3d9d3" stroke-width="0.6"/>
<polygon points="413.8,145.9 434.1,144.8 451.1,133.8 430.8,135.2" fill="none" stroke="#fff" stroke-width="0.9"/>
<polygon points="434.1,144.8 440.8,144.7 457.8,133.7 451.1,133.8" fill="#e6d7cf" stroke="#e6d7cf" stroke-width="0.6"/>
<polygon points="440.8,144.7 447.6,144.7 464.6,133.6 457.8,133.7" fill="#e9d5cb" stroke="#e9d5cb" stroke-width="0.6"/>
<polygon points="447.6,144.7 454.3,144.6 471.3,133.4 464.6,133.6" fill="#ebd3c6" stroke="#ebd3c6" stroke-width="0.6"/>
<polygon points="434.1,144.8 454.3,144.6 471.3,133.4 451.1,133.8" fill="none" stroke="#fff" stroke-width="0.9"/>
<polygon points="454.3,144.6 461.1,144.8 478.1,133.6 471.3,133.4" fill="#edd1c2" stroke="#edd1c2" stroke-width="0.6"/>
<polygon points="461.1,144.8 467.8,145.0 484.8,133.7 478.1,133.6" fill="#efcfbf" stroke="#efcfbf" stroke-width="0.6"/>
<polygon points="467.8,145.0 474.6,145.1 491.6,133.8 484.8,133.7" fill="#f1cdba" stroke="#f1cdba" stroke-width="0.6"/>
<polygon points="454.3,144.6 474.6,145.1 491.6,133.8 471.3,133.4" fill="none" stroke="#fff" stroke-width="0.9"/>
<polygon points="474.6,145.1 481.3,145.5 498.3,134.1 491.6,133.8" fill="#f2cbb7" stroke="#f2cbb7" stroke-width="0.6"/>
<polygon points="481.3,145.5 488.1,145.9 505.1,134.5 498.3,134.1" fill="#f2c9b4" stroke="#f2c9b4" stroke-width="0.6"/>
<polygon points="488.1,145.9 494.8,146.2 511.8,134.8 505.1,134.5" fill="#f4c6af" stroke="#f4c6af" stroke-width="0.6"/>
<polygon points="474.6,145.1 494.8,146.2 511.8,134.8 491.6,133.8" fill="none" stroke="#fff" stroke-width="0.9"/>
<polygon points="494.8,146.2 501.6,146.8 518.6,135.3 511.8,134.8" fill="#f5c4ac" stroke="#f5c4ac" stroke-width="0.6"/>
<polygon points="501.6,146.8 508.3,147.3 525.3,135.7 518.6,135.3" fill="#f5c1a9" stroke="#f5c1a9" stroke-width="0.6"/>
<polygon points="508.3,147.3 515.1,147.8 532.1,136.2 525.3,135.7" fill="#f6bfa6" stroke="#f6bfa6" stroke-width="0.6"/>
<polygon points="494.8,146.2 515.1,147.8 532.1,136.2 511.8,134.8" fill="none" stroke="#fff" stroke-width="0.9"/>
<polygon points="515.1,147.8 521.8,148.4 538.8,136.8 532.1,136.2" fill="#f6bda2" stroke="#f6bda2" stroke-width="0.6"/>
<polygon points="521.8,148.4 528.6,149.1 545.6,137.4 538.8,136.8" fill="#f7ba9f" stroke="#f7ba9f" stroke-width="0.6"/>
<polygon points="528.6,149.1 535.3,149.7 552.3,138.0 545.6,137.4" fill="#f7b89c" stroke="#f7b89c" stroke-width="0.6"/>
<polygon points="515.1,147.8 535.3,149.7 552.3,138.0 532.1,136.2" fill="none" stroke="#fff" stroke-width="0.9"/>
<polygon points="535.3,149.7 542.1,150.5 559.1,138.7 552.3,138.0" fill="#f7b599" stroke="#f7b599" stroke-width="0.6"/>
<polygon points="542.1,150.5 548.8,151.2 565.8,139.4 559.1,138.7" fill="#f7b396" stroke="#f7b396" stroke-width="0.6"/>
<polygon points="548.8,151.2 555.6,152.0 572.6,140.1 565.8,139.4" fill="#f7b093" stroke="#f7b093" stroke-width="0.6"/>
<polygon points="535.3,149.7 555.6,152.0 572.6,140.1 552.3,138.0" fill="none" stroke="#fff" stroke-width="0.9"/>
<polygon points="555.6,152.0 562.3,152.8 579.3,140.9 572.6,140.1" fill="#f7ad90" stroke="#f7ad90" stroke-width="0.6"/>
<polygon points="562.3,152.8 569.1,153.6 586.1,141.7 579.3,140.9" fill="#f7ac8e" stroke="#f7ac8e" stroke-width="0.6"/>
<polygon points="569.1,153.6 575.8,154.5 592.8,142.5 586.1,141.7" fill="#f7a98b" stroke="#f7a98b" stroke-width="0.6"/>
<polygon points="555.6,152.0 575.8,154.5 592.8,142.5 572.6,140.1" fill="none" stroke="#fff" stroke-width="0.9"/>
<polygon points="575.8,154.5 582.6,155.4 599.6,143.4 592.8,142.5" fill="#f7a688" stroke="#f7a688" stroke-width="0.6"/>
<polygon points="582.6,155.4 589.3,156.3 606.3,144.3 599.6,143.4" fill="#f6a385" stroke="#f6a385" stroke-width="0.6"/>
<polygon points="589.3,156.3 596.1,157.2 613.1,145.1 606.3,144.3" fill="#f6a283" stroke="#f6a283" stroke-width="0.6"/>
<polygon points="575.8,154.5 596.1,157.2 613.1,145.1 592.8,142.5" fill="none" stroke="#fff" stroke-width="0.9"/>
<polygon points="596.1,157.2 602.8,158.2 619.8,146.1 613.1,145.1" fill="#f59f80" stroke="#f59f80" stroke-width="0.6"/>
<polygon points="602.8,158.2 609.6,159.2 626.6,147.0 619.8,146.1" fill="#f59d7e" stroke="#f59d7e" stroke-width="0.6"/>
<polygon points="609.6,159.2 616.3,160.1 633.3,148.0 626.6,147.0" fill="#f49a7b" stroke="#f49a7b" stroke-width="0.6"/>
<polygon points="596.1,157.2 616.3,160.1 633.3,148.0 613.1,145.1" fill="none" stroke="#fff" stroke-width="0.9"/>
<polygon points="616.3,160.1 623.1,161.2 640.1,149.0 633.3,148.0" fill="#f39778" stroke="#f39778" stroke-width="0.6"/>
<polygon points="623.1,161.2 629.8,162.2 646.8,150.0 640.1,149.0" fill="#f39577" stroke="#f39577" stroke-width="0.6"/>
<polygon points="629.8,162.2 636.6,163.3 653.6,151.0 646.8,150.0" fill="#f29274" stroke="#f29274" stroke-width="0.6"/>
<polygon points="616.3,160.1 636.6,163.3 653.6,151.0 633.3,148.0" fill="none" stroke="#fff" stroke-width="0.9"/>
<polygon points="636.6,163.3 643.3,164.4 660.3,152.1 653.6,151.0" fill="#f29072" stroke="#f29072" stroke-width="0.6"/>
<polygon points="643.3,164.4 650.1,165.5 667.1,153.1 660.3,152.1" fill="#f18d6f" stroke="#f18d6f" stroke-width="0.6"/>
<polygon points="650.1,165.5 656.8,166.6 673.8,154.2 667.1,153.1" fill="#f08b6e" stroke="#f08b6e" stroke-width="0.6"/>
<polygon points="636.6,163.3 656.8,166.6 673.8,154.2 653.6,151.0" fill="none" stroke="#fff" stroke-width="0.9"/>
<polygon points="656.8,166.6 663.6,167.7 680.6,155.3 673.8,154.2" fill="#ef886b" stroke="#ef886b" stroke-width="0.6"/>
<polygon points="663.6,167.7 670.3,168.8 687.3,156.4 680.6,155.3" fill="#ee8669" stroke="#ee8669" stroke-width="0.6"/>
<polygon points="670.3,168.8 677.1,170.0 694.1,157.5 687.3,156.4" fill="#ee8468" stroke="#ee8468" stroke-width="0.6"/>
<polygon points="656.8,166.6 677.1,170.0 694.1,157.5 673.8,154.2" fill="none" stroke="#fff" stroke-width="0.9"/>
<polygon points="677.1,170.0 683.8,171.2 700.8,158.7 694.1,157.5" fill="#ec8165" stroke="#ec8165" stroke-width="0.6"/>
<polygon points="683.8,171.2 690.6,172.4 707.6,159.9 700.8,158.7" fill="#ec7f63" stroke="#ec7f63" stroke-width="0.6"/>
<polygon points="690.6,172.4 697.3,173.6 714.3,161.0 707.6,159.9" fill="#ea7b60" stroke="#ea7b60" stroke-width="0.6"/>
<polygon points="677.1,170.0 697.3,173.6 714.3,161.0 694.1,157.5" fill="none" stroke="#fff" stroke-width="0.9"/>
<polygon points="697.3,173.6 704.0,174.8 721.1,162.2 714.3,161.0" fill="#e97a5f" stroke="#e97a5f" stroke-width="0.6"/>
<polygon points="704.0,174.8 710.8,176.0 727.8,163.4 721.1,162.2" fill="#e9785d" stroke="#e9785d" stroke-width="0.6"/>
<polygon points="710.8,176.0 717.5,177.2 734.6,164.6 727.8,163.4" fill="#e7745b" stroke="#e7745b" stroke-width="0.6"/>
<polygon points="697.3,173.6 717.5,177.2 734.6,164.6 714.3,161.0" fill="none" stroke="#fff" stroke-width="0.9"/>
<polygon points="315.8,168.2 336.1,175.4 353.1,165.6 332.8,158.4" fill="#92b4fe" stroke="#92b4fe" stroke-width="0.6"/>
<polygon points="315.8,168.2 336.1,175.4 353.1,165.6 332.8,158.4" fill="none" stroke="#fff" stroke-width="0.9"/>
<polygon points="336.1,172.8 342.8,169.7 359.8,159.7 353.1,162.9" fill="#a9c6fd" stroke="#a9c6fd" stroke-width="0.6"/>
<polygon points="342.8,169.7 349.6,166.7 366.6,156.5 359.8,159.7" fill="#b2ccfb" stroke="#b2ccfb" stroke-width="0.6"/>
<polygon points="349.6,166.7 356.3,163.7 373.3,153.3 366.6,156.5" fill="#bad0f8" stroke="#bad0f8" stroke-width="0.6"/>
<polygon points="336.1,172.8 356.3,163.7 373.3,153.3 353.1,162.9" fill="none" stroke="#fff" stroke-width="0.9"/>
<polygon points="356.3,163.7 363.1,162.2 380.1,151.7 373.3,153.3" fill="#c0d4f5" stroke="#c0d4f5" stroke-width="0.6"/>
<polygon points="363.1,162.2 369.8,160.6 386.8,150.1 380.1,151.7" fill="#c5d6f2" stroke="#c5d6f2" stroke-width="0.6"/>
<polygon points="369.8,160.6 376.6,159.1 393.6,148.5 386.8,150.1" fill="#cbd8ee" stroke="#cbd8ee" stroke-width="0.6"/>
<polygon points="356.3,163.7 376.6,159.1 393.6,148.5 373.3,153.3" fill="none" stroke="#fff" stroke-width="0.9"/>
<polygon points="376.6,159.1 383.3,158.4 400.3,147.6 393.6,148.5" fill="#cfdaea" stroke="#cfdaea" stroke-width="0.6"/>
<polygon points="383.3,158.4 390.1,157.6 407.1,146.8 400.3,147.6" fill="#d3dbe7" stroke="#d3dbe7" stroke-width="0.6"/>
<polygon points="390.1,157.6 396.8,156.8 413.8,145.9 407.1,146.8" fill="#d7dce3" stroke="#d7dce3" stroke-width="0.6"/>
<polygon points="376.6,159.1 396.8,156.8 413.8,145.9 393.6,148.5" fill="none" stroke="#fff" stroke-width="0.9"/>
<polygon points="396.8,156.8 403.6,156.5 420.6,145.5 413.8,145.9" fill="#dadce0" stroke="#dadce0" stroke-width="0.6"/>
<polygon points="403.6,156.5 410.3,156.2 427.3,145.2 420.6,145.5" fill="#dddcdc" stroke="#dddcdc" stroke-width="0.6"/>
<polygon points="410.3,156.2 417.1,155.9 434.1,144.8 427.3,145.2" fill="#e0dbd8" stroke="#e0dbd8" stroke-width="0.6"/>
<polygon points="396.8,156.8 417.1,155.9 434.1,144.8 413.8,145.9" fill="none" stroke="#fff" stroke-width="0.9"/>
<polygon points="417.1,155.9 423.8,155.9 440.8,144.7 434.1,144.8" fill="#e3d9d3" stroke="#e3d9d3" stroke-width="0.6"/>
<polygon points="423.8,155.9 430.6,155.9 447.6,144.7 440.8,144.7" fill="#e6d7cf" stroke="#e6d7cf" stroke-width="0.6"/>
<polygon points="430.6,155.9 437.3,155.9 454.3,144.6 447.6,144.7" fill="#e9d5cb" stroke="#e9d5cb" stroke-width="0.6"/>
<polygon points="417.1,155.9 437.3,155.9 454.3,144.6 434.1,144.8" fill="none" stroke="#fff" stroke-width="0.9"/>
<polygon points="437.3,155.9 444.1,156.1 461.1,144.8 454.3,144.6" fill="#ead4c8" stroke="#ead4c8" stroke-width="0.6"/>
<polygon points="444.1,156.1 450.8,156.3 467.8,145.0 461.1,144.8" fill="#edd2c3" stroke="#edd2c3" stroke-width="0.6"/>
<polygon points="450.8,156.3 457.6,156.6 474.6,145.1 467.8,145.0" fill="#eed0c0" stroke="#eed0c0" stroke-width="0.6"/>
<polygon points="437.3,155.9 457.6,156.6 474.6,145.1 454.3,144.6" fill="none" stroke="#fff" stroke-width="0.9"/>
<polygon points="457.6,156.6 464.3,157.0 481.3,145.5 474.6,145.1" fill="#f0cdbb" stroke="#f0cdbb" stroke-width="0.6"/>
<polygon points="464.3,157.0 471.1,157.4 488.1,145.9 481.3,145.5" fill="#f1ccb8" stroke="#f1ccb8" stroke-width="0.6"/>
<polygon points="471.1,157.4 477.8,157.8 494.8,146.2 488.1,145.9" fill="#f2cab5" stroke="#f2cab5" stroke-width="0.6"/>
<polygon points="457.6,156.6 477.8,157.8 494.8,146.2 474.6,145.1" fill="none" stroke="#fff" stroke-width="0.9"/>
<polygon points="477.8,157.8 484.6,158.4 501.6,146.8 494.8,146.2" fill="#f3c8b2" stroke="#f3c8b2" stroke-width="0.6"/>
<polygon points="484.6,158.4 491.3,159.0 508.3,147.3 501.6,146.8" fill="#f4c6af" stroke="#f4c6af" stroke-width="0.6"/>
<polygon points="491.3,159.0 498.1,159.5 515.1,147.8 508.3,147.3" fill="#f5c4ac" stroke="#f5c4ac" stroke-width="0.6"/>
<polygon points="477.8,157.8 498.1,159.5 515.1,147.8 494.8,146.2" fill="none" stroke="#fff" stroke-width="0.9"/>
<polygon points="498.1,159.5 504.8,160.2 521.8,148.4 515.1,147.8" fill="#f5c1a9" stroke="#f5c1a9" stroke-width="0.6"/>
<polygon points="504.8,160.2 511.6,160.9 528.6,149.1 521.8,148.4" fill="#f6bfa6" stroke="#f6bfa6" stroke-width="0.6"/>
<polygon points="511.6,160.9 518.3,161.6 535.3,149.7 528.6,149.1" fill="#f6bda2" stroke="#f6bda2" stroke-width="0.6"/>
<polygon points="498.1,159.5 518.3,161.6 535.3,149.7 515.1,147.8" fill="none" stroke="#fff" stroke-width="0.9"/>
<polygon points="518.3,161.6 525.1,162.4 542.1,150.5 535.3,149.7" fill="#f7ba9f" stroke="#f7ba9f" stroke-width="0.6"/>
<polygon points="525.1,162.4 531.8,163.2 548.8,151.2 542.1,150.5" fill="#f7b89c" stroke="#f7b89c" stroke-width="0.6"/>
<polygon points="531.8,163.2 538.6,163.9 555.6,152.0 548.8,151.2" fill="#f7b599" stroke="#f7b599" stroke-width="0.6"/>
<polygon points="518.3,161.6 538.6,163.9 555.6,152.0 535.3,149.7" fill="none" stroke="#fff" stroke-width="0.9"/>
<polygon points="538.6,163.9 545.3,164.8 562.3,152.8 555.6,152.0" fill="#f7b396" stroke="#f7b396" stroke-width="0.6"/>
<polygon points="545.3,164.8 552.1,165.7 569.1,153.6 562.3,152.8" fill="#f7b194" stroke="#f7b194" stroke-width="0.6"/>
<polygon points="552.1,165.7 558.8,166.6 575.8,154.5 569.1,153.6" fill="#f7af91" stroke="#f7af91" stroke-width="0.6"/>
<polygon points="538.6,163.9 558.8,166.6 575.8,154.5 555.6,152.0" fill="none" stroke="#fff" stroke-width="0.9"/>
<polygon points="558.8,166.6 565.6,167.5 582.6,155.4 575.8,154.5" fill="#f7ac8e" stroke="#f7ac8e" stroke-width="0.6"/>
<polygon points="565.6,167.5 572.3,168.5 589.3,156.3 582.6,155.4" fill="#f7aa8c" stroke="#f7aa8c" stroke-width="0.6"/>
<polygon points="572.3,168.5 579.1,169.4 596.1,157.2 589.3,156.3" fill="#f7a889" stroke="#f7a889" stroke-width="0.6"/>
<polygon points="558.8,166.6 579.1,169.4 596.1,157.2 575.8,154.5" fill="none" stroke="#fff" stroke-width="0.9"/>
<polygon points="579.1,169.4 585.8,170.4 602.8,158.2 596.1,157.2" fill="#f6a586" stroke="#f6a586" stroke-width="0.6"/>
<polygon points="585.8,170.4 592.6,171.4 609.6,159.2 602.8,158.2" fill="#f6a385" stroke="#f6a385" stroke-width="0.6"/>
<polygon points="592.6,171.4 599.3,172.5 616.3,160.1 609.6,159.2" fill="#f5a081" stroke="#f5a081" stroke-width="0.6"/>
<polygon points="579.1,169.4 599.3,172.5 616.3,160.1 596.1,157.2" fill="none" stroke="#fff" stroke-width="0.9"/>
<polygon points="599.3,172.5 606.0,173.5 623.1,161.2 616.3,160.1" fill="#f59f80" stroke="#f59f80" stroke-width="0.6"/>
<polygon points="606.0,173.5 612.8,174.6 629.8,162.2 623.1,161.2" fill="#f59c7d" stroke="#f59c7d" stroke-width="0.6"/>
<polygon points="612.8,174.6 619.5,175.7 636.6,163.3 629.8,162.2" fill="#f49a7b" stroke="#f49a7b" stroke-width="0.6"/>
<polygon points="599.3,172.5 619.5,175.7 636.6,163.3 616.3,160.1" fill="none" stroke="#fff" stroke-width="0.9"/>
<polygon points="619.5,175.7 626.3,176.8 643.3,164.4 636.6,163.3" fill="#f39778" stroke="#f39778" stroke-width="0.6"/>
<polygon points="626.3,176.8 633.0,177.9 650.1,165.5 643.3,164.4" fill="#f39577" stroke="#f39577" stroke-width="0.6"/>
<polygon points="633.0,177.9 639.8,179.1 656.8,166.6 650.1,165.5" fill="#f29274" stroke="#f29274" stroke-width="0.6"/>
<polygon points="619.5,175.7 639.8,179.1 656.8,166.6 636.6,163.3" fill="none" stroke="#fff" stroke-width="0.9"/>
<polygon points="639.8,179.1 646.5,180.3 663.6,167.7 656.8,166.6" fill="#f29072" stroke="#f29072" stroke-width="0.6"/>
<polygon points="646.5,180.3 653.3,181.4 670.3,168.8 663.6,167.7" fill="#f18f71" stroke="#f18f71" stroke-width="0.6"/>
<polygon points="653.3,181.4 660.0,182.6 677.1,170.0 670.3,168.8" fill="#f08b6e" stroke="#f08b6e" stroke-width="0.6"/>
<polygon points="639.8,179.1 660.0,182.6 677.1,170.0 656.8,166.6" fill="none" stroke="#fff" stroke-width="0.9"/>
<polygon points="660.0,182.6 666.8,183.8 683.8,171.2 677.1,170.0" fill="#f08a6c" stroke="#f08a6c" stroke-width="0.6"/>
<polygon points="666.8,183.8 673.5,185.0 690.6,172.4 683.8,171.2" fill="#ef886b" stroke="#ef886b" stroke-width="0.6"/>
<polygon points="673.5,185.0 680.3,186.3 697.3,173.6 690.6,172.4" fill="#ee8468" stroke="#ee8468" stroke-width="0.6"/>
<polygon points="660.0,182.6 680.3,186.3 697.3,173.6 677.1,170.0" fill="none" stroke="#fff" stroke-width="0.9"/>
<polygon points="680.3,186.3 687.0,187.5 704.0,174.8 697.3,173.6" fill="#ed8366" stroke="#ed8366" stroke-width="0.6"/>
<polygon points="687.0,187.5 693.8,188.8 710.8,176.0 704.0,174.8" fill="#ec8165" stroke="#ec8165" stroke-width="0.6"/>
<polygon points="693.8,188.8 700.5,190.0 717.5,177.2 710.8,176.0" fill="#eb7d62" stroke="#eb7d62" stroke-width="0.6"/>
<polygon points="680.3,186.3 700.5,190.0 717.5,177.2 697.3,173.6" fill="none" stroke="#fff" stroke-width="0.9"/>
<polygon points="298.8,178.1 319.1,185.2 336.1,175.4 315.8,168.2" fill="#8fb1fe" stroke="#8fb1fe" stroke-width="0.6"/>
<polygon points="298.8,178.1 319.1,185.2 336.1,175.4 315.8,168.2" fill="none" stroke="#fff" stroke-width="0.9"/>
<polygon points="319.1,182.7 325.8,179.9 342.8,169.7 336.1,172.8" fill="#a7c5fe" stroke="#a7c5fe" stroke-width="0.6"/>
<polygon points="325.8,179.9 332.6,177.0 349.6,166.7 342.8,169.7" fill="#afcafc" stroke="#afcafc" stroke-width="0.6"/>
<polygon points="332.6,177.0 339.3,174.1 356.3,163.7 349.6,166.7" fill="#b7cff9" stroke="#b7cff9" stroke-width="0.6"/>
<polygon points="319.1,182.7 339.3,174.1 356.3,163.7 336.1,172.8" fill="none" stroke="#fff" stroke-width="0.9"/>
<polygon points="339.3,174.1 346.1,172.7 363.1,162.2 356.3,163.7" fill="#bed2f6" stroke="#bed2f6" stroke-width="0.6"/>
<polygon points="346.1,172.7 352.8,171.3 369.8,160.6 363.1,162.2" fill="#c3d5f4" stroke="#c3d5f4" stroke-width="0.6"/>
<polygon points="352.8,171.3 359.6,169.9 376.6,159.1 369.8,160.6" fill="#c7d7f0" stroke="#c7d7f0" stroke-width="0.6"/>
<polygon points="339.3,174.1 359.6,169.9 376.6,159.1 356.3,163.7" fill="none" stroke="#fff" stroke-width="0.9"/>
<polygon points="359.6,169.9 366.3,169.2 383.3,158.4 376.6,159.1" fill="#ccd9ed" stroke="#ccd9ed" stroke-width="0.6"/>
<polygon points="366.3,169.2 373.1,168.5 390.1,157.6 383.3,158.4" fill="#d1dae9" stroke="#d1dae9" stroke-width="0.6"/>
<polygon points="373.1,168.5 379.8,167.8 396.8,156.8 390.1,157.6" fill="#d4dbe6" stroke="#d4dbe6" stroke-width="0.6"/>
<polygon points="359.6,169.9 379.8,167.8 396.8,156.8 376.6,159.1" fill="none" stroke="#fff" stroke-width="0.9"/>
<polygon points="379.8,167.8 386.6,167.5 403.6,156.5 396.8,156.8" fill="#d7dce3" stroke="#d7dce3" stroke-width="0.6"/>
<polygon points="386.6,167.5 393.3,167.3 410.3,156.2 403.6,156.5" fill="#dadce0" stroke="#dadce0" stroke-width="0.6"/>
<polygon points="393.3,167.3 400.1,167.1 417.1,155.9 410.3,156.2" fill="#dddcdc" stroke="#dddcdc" stroke-width="0.6"/>
<polygon points="379.8,167.8 400.1,167.1 417.1,155.9 396.8,156.8" fill="none" stroke="#fff" stroke-width="0.9"/>
<polygon points="400.1,167.1 406.8,167.1 423.8,155.9 417.1,155.9" fill="#e0dbd8" stroke="#e0dbd8" stroke-width="0.6"/>
<polygon points="406.8,167.1 413.6,167.2 430.6,155.9 423.8,155.9" fill="#e3d9d3" stroke="#e3d9d3" stroke-width="0.6"/>
<polygon points="413.6,167.2 420.3,167.3 437.3,155.9 430.6,155.9" fill="#e6d7cf" stroke="#e6d7cf" stroke-width="0.6"/>
<polygon points="400.1,167.1 420.3,167.3 437.3,155.9 417.1,155.9" fill="none" stroke="#fff" stroke-width="0.9"/>
<polygon points="420.3,167.3 427.1,167.6 444.1,156.1 437.3,155.9" fill="#e8d6cc" stroke="#e8d6cc" stroke-width="0.6"/>
<polygon points="427.1,167.6 433.8,167.9 450.8,156.3 444.1,156.1" fill="#ead5c9" stroke="#ead5c9" stroke-width="0.6"/>
<polygon points="433.8,167.9 440.6,168.1 457.6,156.6 450.8,156.3" fill="#ecd3c5" stroke="#ecd3c5" stroke-width="0.6"/>
<polygon points="420.3,167.3 440.6,168.1 457.6,156.6 437.3,155.9" fill="none" stroke="#fff" stroke-width="0.9"/>
<polygon points="440.6,168.1 447.3,168.6 464.3,157.0 457.6,156.6" fill="#edd1c2" stroke="#edd1c2" stroke-width="0.6"/>
<polygon points="447.3,168.6 454.1,169.1 471.1,157.4 464.3,157.0" fill="#efcfbf" stroke="#efcfbf" stroke-width="0.6"/>
<polygon points="454.1,169.1 460.8,169.6 477.8,157.8 471.1,157.4" fill="#f0cdbb" stroke="#f0cdbb" stroke-width="0.6"/>
<polygon points="440.6,168.1 460.8,169.6 477.8,157.8 457.6,156.6" fill="none" stroke="#fff" stroke-width="0.9"/>
<polygon points="460.8,169.6 467.6,170.2 484.6,158.4 477.8,157.8" fill="#f2cbb7" stroke="#f2cbb7" stroke-width="0.6"/>
<polygon points="467.6,170.2 474.3,170.8 491.3,159.0 484.6,158.4" fill="#f2c9b4" stroke="#f2c9b4" stroke-width="0.6"/>
<polygon points="474.3,170.8 481.1,171.4 498.1,159.5 491.3,159.0" fill="#f3c7b1" stroke="#f3c7b1" stroke-width="0.6"/>
<polygon points="460.8,169.6 481.1,171.4 498.1,159.5 477.8,157.8" fill="none" stroke="#fff" stroke-width="0.9"/>
<polygon points="481.1,171.4 487.8,172.1 504.8,160.2 498.1,159.5" fill="#f4c5ad" stroke="#f4c5ad" stroke-width="0.6"/>
<polygon points="487.8,172.1 494.6,172.9 511.6,160.9 504.8,160.2" fill="#f5c2aa" stroke="#f5c2aa" stroke-width="0.6"/>
<polygon points="494.6,172.9 501.3,173.6 518.3,161.6 511.6,160.9" fill="#f5c1a9" stroke="#f5c1a9" stroke-width="0.6"/>
<polygon points="481.1,171.4 501.3,173.6 518.3,161.6 498.1,159.5" fill="none" stroke="#fff" stroke-width="0.9"/>
<polygon points="501.3,173.6 508.0,174.4 525.1,162.4 518.3,161.6" fill="#f6bfa6" stroke="#f6bfa6" stroke-width="0.6"/>
<polygon points="508.0,174.4 514.8,175.3 531.8,163.2 525.1,162.4" fill="#f6bda2" stroke="#f6bda2" stroke-width="0.6"/>
<polygon points="514.8,175.3 521.5,176.1 538.6,163.9 531.8,163.2" fill="#f7ba9f" stroke="#f7ba9f" stroke-width="0.6"/>
<polygon points="501.3,173.6 521.5,176.1 538.6,163.9 518.3,161.6" fill="none" stroke="#fff" stroke-width="0.9"/>
<polygon points="521.5,176.1 528.3,177.0 545.3,164.8 538.6,163.9" fill="#f7b89c" stroke="#f7b89c" stroke-width="0.6"/>
<polygon points="528.3,177.0 535.0,177.9 552.1,165.7 545.3,164.8" fill="#f7b79b" stroke="#f7b79b" stroke-width="0.6"/>
<polygon points="535.0,177.9 541.8,178.8 558.8,166.6 552.1,165.7" fill="#f7b497" stroke="#f7b497" stroke-width="0.6"/>
<polygon points="521.5,176.1 541.8,178.8 558.8,166.6 538.6,163.9" fill="none" stroke="#fff" stroke-width="0.9"/>
<polygon points="541.8,178.8 548.5,179.8 565.6,167.5 558.8,166.6" fill="#f7b396" stroke="#f7b396" stroke-width="0.6"/>
<polygon points="548.5,179.8 555.3,180.8 572.3,168.5 565.6,167.5" fill="#f7b093" stroke="#f7b093" stroke-width="0.6"/>
<polygon points="555.3,180.8 562.0,181.8 579.1,169.4 572.3,168.5" fill="#f7ad90" stroke="#f7ad90" stroke-width="0.6"/>
<polygon points="541.8,178.8 562.0,181.8 579.1,169.4 558.8,166.6" fill="none" stroke="#fff" stroke-width="0.9"/>
<polygon points="562.0,181.8 568.8,182.9 585.8,170.4 579.1,169.4" fill="#f7ac8e" stroke="#f7ac8e" stroke-width="0.6"/>
<polygon points="568.8,182.9 575.5,183.9 592.6,171.4 585.8,170.4" fill="#f7a98b" stroke="#f7a98b" stroke-width="0.6"/>
<polygon points="575.5,183.9 582.3,185.0 599.3,172.5 592.6,171.4" fill="#f7a889" stroke="#f7a889" stroke-width="0.6"/>
<polygon points="562.0,181.8 582.3,185.0 599.3,172.5 579.1,169.4" fill="none" stroke="#fff" stroke-width="0.9"/>
<polygon points="582.3,185.0 589.0,186.1 606.0,173.5 599.3,172.5" fill="#f6a586" stroke="#f6a586" stroke-width="0.6"/>
<polygon points="589.0,186.1 595.8,187.2 612.8,174.6 606.0,173.5" fill="#f6a385" stroke="#f6a385" stroke-width="0.6"/>
<polygon points="595.8,187.2 602.5,188.3 619.5,175.7 612.8,174.6" fill="#f5a081" stroke="#f5a081" stroke-width="0.6"/>
<polygon points="582.3,185.0 602.5,188.3 619.5,175.7 599.3,172.5" fill="none" stroke="#fff" stroke-width="0.9"/>
<polygon points="602.5,188.3 609.3,189.5 626.3,176.8 619.5,175.7" fill="#f59f80" stroke="#f59f80" stroke-width="0.6"/>
<polygon points="609.3,189.5 616.0,190.6 633.0,177.9 626.3,176.8" fill="#f59c7d" stroke="#f59c7d" stroke-width="0.6"/>
<polygon points="616.0,190.6 622.8,191.8 639.8,179.1 633.0,177.9" fill="#f49a7b" stroke="#f49a7b" stroke-width="0.6"/>
<polygon points="602.5,188.3 622.8,191.8 639.8,179.1 619.5,175.7" fill="none" stroke="#fff" stroke-width="0.9"/>
<polygon points="622.8,191.8 629.5,193.0 646.5,180.3 639.8,179.1" fill="#f4987a" stroke="#f4987a" stroke-width="0.6"/>
<polygon points="629.5,193.0 636.3,194.2 653.3,181.4 646.5,180.3" fill="#f39577" stroke="#f39577" stroke-width="0.6"/>
<polygon points="636.3,194.2 643.0,195.4 660.0,182.6 653.3,181.4" fill="#f39475" stroke="#f39475" stroke-width="0.6"/>
<polygon points="622.8,191.8 643.0,195.4 660.0,182.6 639.8,179.1" fill="none" stroke="#fff" stroke-width="0.9"/>
<polygon points="643.0,195.4 649.8,196.7 666.8,183.8 660.0,182.6" fill="#f29274" stroke="#f29274" stroke-width="0.6"/>
<polygon points="649.8,196.7 656.5,197.9 673.5,185.0 666.8,183.8" fill="#f18f71" stroke="#f18f71" stroke-width="0.6"/>
<polygon points="656.5,197.9 663.3,199.2 680.3,186.3 673.5,185.0" fill="#f18d6f" stroke="#f18d6f" stroke-width="0.6"/>
<polygon points="643.0,195.4 663.3,199.2 680.3,186.3 660.0,182.6" fill="none" stroke="#fff" stroke-width="0.9"/>
<polygon points="663.3,199.2 670.0,200.4 687.0,187.5 680.3,186.3" fill="#f08b6e" stroke="#f08b6e" stroke-width="0.6"/>
<polygon points="670.0,200.4 676.8,201.7 693.8,188.8 687.0,187.5" fill="#f08a6c" stroke="#f08a6c" stroke-width="0.6"/>
<polygon points="676.8,201.7 683.5,203.0 700.5,190.0 693.8,188.8" fill="#ee8669" stroke="#ee8669" stroke-width="0.6"/>
<polygon points="663.3,199.2 683.5,203.0 700.5,190.0 680.3,186.3" fill="none" stroke="#fff" stroke-width="0.9"/>
<polygon points="281.8,188.0 302.1,195.1 319.1,185.2 298.8,178.1" fill="#8db0fe" stroke="#8db0fe" stroke-width="0.6"/>
<polygon points="281.8,188.0 302.1,195.1 319.1,185.2 298.8,178.1" fill="none" stroke="#fff" stroke-width="0.9"/>
<polygon points="302.1,192.8 308.8,190.0 325.8,179.9 319.1,182.7" fill="#a5c3fe" stroke="#a5c3fe" stroke-width="0.6"/>
<polygon points="308.8,190.0 315.6,187.3 332.6,177.0 325.8,179.9" fill="#adc9fd" stroke="#adc9fd" stroke-width="0.6"/>
<polygon points="315.6,187.3 322.3,184.6 339.3,174.1 332.6,177.0" fill="#b3cdfb" stroke="#b3cdfb" stroke-width="0.6"/>
<polygon points="302.1,192.8 322.3,184.6 339.3,174.1 319.1,182.7" fill="none" stroke="#fff" stroke-width="0.9"/>
<polygon points="322.3,184.6 329.1,183.3 346.1,172.7 339.3,174.1" fill="#bad0f8" stroke="#bad0f8" stroke-width="0.6"/>
<polygon points="329.1,183.3 335.8,182.0 352.8,171.3 346.1,172.7" fill="#c0d4f5" stroke="#c0d4f5" stroke-width="0.6"/>
<polygon points="335.8,182.0 342.6,180.7 359.6,169.9 352.8,171.3" fill="#c5d6f2" stroke="#c5d6f2" stroke-width="0.6"/>
<polygon points="322.3,184.6 342.6,180.7 359.6,169.9 339.3,174.1" fill="none" stroke="#fff" stroke-width="0.9"/>
<polygon points="342.6,180.7 349.3,180.1 366.3,169.2 359.6,169.9" fill="#c9d7f0" stroke="#c9d7f0" stroke-width="0.6"/>
<polygon points="349.3,180.1 356.1,179.5 373.1,168.5 366.3,169.2" fill="#cdd9ec" stroke="#cdd9ec" stroke-width="0.6"/>
<polygon points="356.1,179.5 362.8,178.9 379.8,167.8 373.1,168.5" fill="#d1dae9" stroke="#d1dae9" stroke-width="0.6"/>
<polygon points="342.6,180.7 362.8,178.9 379.8,167.8 359.6,169.9" fill="none" stroke="#fff" stroke-width="0.9"/>
<polygon points="362.8,178.9 369.6,178.7 386.6,167.5 379.8,167.8" fill="#d4dbe6" stroke="#d4dbe6" stroke-width="0.6"/>
<polygon points="369.6,178.7 376.3,178.6 393.3,167.3 386.6,167.5" fill="#d7dce3" stroke="#d7dce3" stroke-width="0.6"/>
<polygon points="376.3,178.6 383.1,178.4 400.1,167.1 393.3,167.3" fill="#dadce0" stroke="#dadce0" stroke-width="0.6"/>
<polygon points="362.8,178.9 383.1,178.4 400.1,167.1 379.8,167.8" fill="none" stroke="#fff" stroke-width="0.9"/>
<polygon points="383.1,178.4 389.8,178.5 406.8,167.1 400.1,167.1" fill="#dddcdc" stroke="#dddcdc" stroke-width="0.6"/>
<polygon points="389.8,178.5 396.6,178.7 413.6,167.2 406.8,167.1" fill="#e0dbd8" stroke="#e0dbd8" stroke-width="0.6"/>
<polygon points="396.6,178.7 403.3,178.8 420.3,167.3 413.6,167.2" fill="#e2dad5" stroke="#e2dad5" stroke-width="0.6"/>
<polygon points="383.1,178.4 403.3,178.8 420.3,167.3 400.1,167.1" fill="none" stroke="#fff" stroke-width="0.9"/>
<polygon points="403.3,178.8 410.0,179.2 427.1,167.6 420.3,167.3" fill="#e5d8d1" stroke="#e5d8d1" stroke-width="0.6"/>
<polygon points="410.0,179.2 416.8,179.5 433.8,167.9 427.1,167.6" fill="#e7d7ce" stroke="#e7d7ce" stroke-width="0.6"/>
<polygon points="416.8,179.5 423.5,179.9 440.6,168.1 433.8,167.9" fill="#e9d5cb" stroke="#e9d5cb" stroke-width="0.6"/>
<polygon points="403.3,178.8 423.5,179.9 440.6,168.1 420.3,167.3" fill="none" stroke="#fff" stroke-width="0.9"/>
<polygon points="423.5,179.9 430.3,180.4 447.3,168.6 440.6,168.1" fill="#ead4c8" stroke="#ead4c8" stroke-width="0.6"/>
<polygon points="430.3,180.4 437.0,180.9 454.1,169.1 447.3,168.6" fill="#edd2c3" stroke="#edd2c3" stroke-width="0.6"/>
<polygon points="437.0,180.9 443.8,181.5 460.8,169.6 454.1,169.1" fill="#eed0c0" stroke="#eed0c0" stroke-width="0.6"/>
<polygon points="423.5,179.9 443.8,181.5 460.8,169.6 440.6,168.1" fill="none" stroke="#fff" stroke-width="0.9"/>
<polygon points="443.8,181.5 450.5,182.1 467.6,170.2 460.8,169.6" fill="#efcebd" stroke="#efcebd" stroke-width="0.6"/>
<polygon points="450.5,182.1 457.3,182.8 474.3,170.8 467.6,170.2" fill="#f1cdba" stroke="#f1cdba" stroke-width="0.6"/>
<polygon points="457.3,182.8 464.0,183.5 481.1,171.4 474.3,170.8" fill="#f2cbb7" stroke="#f2cbb7" stroke-width="0.6"/>
<polygon points="443.8,181.5 464.0,183.5 481.1,171.4 460.8,169.6" fill="none" stroke="#fff" stroke-width="0.9"/>
<polygon points="464.0,183.5 470.8,184.2 487.8,172.1 481.1,171.4" fill="#f2c9b4" stroke="#f2c9b4" stroke-width="0.6"/>
<polygon points="470.8,184.2 477.5,185.0 494.6,172.9 487.8,172.1" fill="#f3c8b2" stroke="#f3c8b2" stroke-width="0.6"/>
<polygon points="477.5,185.0 484.3,185.8 501.3,173.6 494.6,172.9" fill="#f4c6af" stroke="#f4c6af" stroke-width="0.6"/>
<polygon points="464.0,183.5 484.3,185.8 501.3,173.6 481.1,171.4" fill="none" stroke="#fff" stroke-width="0.9"/>
<polygon points="484.3,185.8 491.0,186.7 508.0,174.4 501.3,173.6" fill="#f5c4ac" stroke="#f5c4ac" stroke-width="0.6"/>
<polygon points="491.0,186.7 497.8,187.5 514.8,175.3 508.0,174.4" fill="#f5c1a9" stroke="#f5c1a9" stroke-width="0.6"/>
<polygon points="497.8,187.5 504.5,188.4 521.5,176.1 514.8,175.3" fill="#f5c0a7" stroke="#f5c0a7" stroke-width="0.6"/>
<polygon points="484.3,185.8 504.5,188.4 521.5,176.1 501.3,173.6" fill="none" stroke="#fff" stroke-width="0.9"/>
<polygon points="504.5,188.4 511.3,189.4 528.3,177.0 521.5,176.1" fill="#f6bea4" stroke="#f6bea4" stroke-width="0.6"/>
<polygon points="511.3,189.4 518.0,190.3 535.0,177.9 528.3,177.0" fill="#f7bca1" stroke="#f7bca1" stroke-width="0.6"/>
<polygon points="518.0,190.3 524.8,191.3 541.8,178.8 535.0,177.9" fill="#f7ba9f" stroke="#f7ba9f" stroke-width="0.6"/>
<polygon points="504.5,188.4 524.8,191.3 541.8,178.8 521.5,176.1" fill="none" stroke="#fff" stroke-width="0.9"/>
<polygon points="524.8,191.3 531.5,192.3 548.5,179.8 541.8,178.8" fill="#f7b89c" stroke="#f7b89c" stroke-width="0.6"/>
<polygon points="531.5,192.3 538.3,193.4 555.3,180.8 548.5,179.8" fill="#f7b599" stroke="#f7b599" stroke-width="0.6"/>
<polygon points="538.3,193.4 545.0,194.4 562.0,181.8 555.3,180.8" fill="#f7b497" stroke="#f7b497" stroke-width="0.6"/>
<polygon points="524.8,191.3 545.0,194.4 562.0,181.8 541.8,178.8" fill="none" stroke="#fff" stroke-width="0.9"/>
<polygon points="545.0,194.4 551.8,195.5 568.8,182.9 562.0,181.8" fill="#f7b194" stroke="#f7b194" stroke-width="0.6"/>
<polygon points="551.8,195.5 558.5,196.6 575.5,183.9 568.8,182.9" fill="#f7b093" stroke="#f7b093" stroke-width="0.6"/>
<polygon points="558.5,196.6 565.3,197.7 582.3,185.0 575.5,183.9" fill="#f7ad90" stroke="#f7ad90" stroke-width="0.6"/>
<polygon points="545.0,194.4 565.3,197.7 582.3,185.0 562.0,181.8" fill="none" stroke="#fff" stroke-width="0.9"/>
<polygon points="565.3,197.7 572.0,198.8 589.0,186.1 582.3,185.0" fill="#f7ac8e" stroke="#f7ac8e" stroke-width="0.6"/>
<polygon points="572.0,198.8 578.8,200.0 595.8,187.2 589.0,186.1" fill="#f7aa8c" stroke="#f7aa8c" stroke-width="0.6"/>
<polygon points="578.8,200.0 585.5,201.1 602.5,188.3 595.8,187.2" fill="#f7a889" stroke="#f7a889" stroke-width="0.6"/>
<polygon points="565.3,197.7 585.5,201.1 602.5,188.3 582.3,185.0" fill="none" stroke="#fff" stroke-width="0.9"/>
<polygon points="585.5,201.1 592.3,202.3 609.3,189.5 602.5,188.3" fill="#f7a688" stroke="#f7a688" stroke-width="0.6"/>
<polygon points="592.3,202.3 599.0,203.5 616.0,190.6 609.3,189.5" fill="#f6a385" stroke="#f6a385" stroke-width="0.6"/>
<polygon points="599.0,203.5 605.8,204.7 622.8,191.8 616.0,190.6" fill="#f6a283" stroke="#f6a283" stroke-width="0.6"/>
<polygon points="585.5,201.1 605.8,204.7 622.8,191.8 602.5,188.3" fill="none" stroke="#fff" stroke-width="0.9"/>
<polygon points="605.8,204.7 612.5,205.9 629.5,193.0 622.8,191.8" fill="#f5a081" stroke="#f5a081" stroke-width="0.6"/>
<polygon points="612.5,205.9 619.3,207.2 636.3,194.2 629.5,193.0" fill="#f59d7e" stroke="#f59d7e" stroke-width="0.6"/>
<polygon points="619.3,207.2 626.0,208.4 643.0,195.4 636.3,194.2" fill="#f59c7d" stroke="#f59c7d" stroke-width="0.6"/>
<polygon points="605.8,204.7 626.0,208.4 643.0,195.4 622.8,191.8" fill="none" stroke="#fff" stroke-width="0.9"/>
<polygon points="626.0,208.4 632.8,209.7 649.8,196.7 643.0,195.4" fill="#f49a7b" stroke="#f49a7b" stroke-width="0.6"/>
<polygon points="632.8,209.7 639.5,211.0 656.5,197.9 649.8,196.7" fill="#f4987a" stroke="#f4987a" stroke-width="0.6"/>
<polygon points="639.5,211.0 646.3,212.3 663.3,199.2 656.5,197.9" fill="#f39577" stroke="#f39577" stroke-width="0.6"/>
<polygon points="626.0,208.4 646.3,212.3 663.3,199.2 643.0,195.4" fill="none" stroke="#fff" stroke-width="0.9"/>
<polygon points="646.3,212.3 653.0,213.6 670.0,200.4 663.3,199.2" fill="#f39475" stroke="#f39475" stroke-width="0.6"/>
<polygon points="653.0,213.6 659.8,214.9 676.8,201.7 670.0,200.4" fill="#f29274" stroke="#f29274" stroke-width="0.6"/>
<polygon points="659.8,214.9 666.5,216.2 683.5,203.0 676.8,201.7" fill="#f29072" stroke="#f29072" stroke-width="0.6"/>
<polygon points="646.3,212.3 666.5,216.2 683.5,203.0 663.3,199.2" fill="none" stroke="#fff" stroke-width="0.9"/>
<polygon points="264.8,198.0 285.1,205.1 302.1,195.1 281.8,188.0" fill="#8caffe" stroke="#8caffe" stroke-width="0.6"/>
<polygon points="264.8,198.0 285.1,205.1 302.1,195.1 281.8,188.0" fill="none" stroke="#fff" stroke-width="0.9"/>
<polygon points="285.1,202.9 291.8,200.3 308.8,190.0 302.1,192.8" fill="#a2c1ff" stroke="#a2c1ff" stroke-width="0.6"/>
<polygon points="291.8,200.3 298.6,197.8 315.6,187.3 308.8,190.0" fill="#aac7fd" stroke="#aac7fd" stroke-width="0.6"/>
<polygon points="298.6,197.8 305.3,195.2 322.3,184.6 315.6,187.3" fill="#b1cbfc" stroke="#b1cbfc" stroke-width="0.6"/>
<polygon points="285.1,202.9 305.3,195.2 322.3,184.6 302.1,192.8" fill="none" stroke="#fff" stroke-width="0.9"/>
<polygon points="305.3,195.2 312.0,194.0 329.1,183.3 322.3,184.6" fill="#b7cff9" stroke="#b7cff9" stroke-width="0.6"/>
<polygon points="312.0,194.0 318.8,192.8 335.8,182.0 329.1,183.3" fill="#bcd2f7" stroke="#bcd2f7" stroke-width="0.6"/>
<polygon points="318.8,192.8 325.5,191.7 342.6,180.7 335.8,182.0" fill="#c1d4f4" stroke="#c1d4f4" stroke-width="0.6"/>
<polygon points="305.3,195.2 325.5,191.7 342.6,180.7 322.3,184.6" fill="none" stroke="#fff" stroke-width="0.9"/>
<polygon points="325.5,191.7 332.3,191.2 349.3,180.1 342.6,180.7" fill="#c6d6f1" stroke="#c6d6f1" stroke-width="0.6"/>
<polygon points="332.3,191.2 339.0,190.7 356.1,179.5 349.3,180.1" fill="#cad8ef" stroke="#cad8ef" stroke-width="0.6"/>
<polygon points="339.0,190.7 345.8,190.1 362.8,178.9 356.1,179.5" fill="#cdd9ec" stroke="#cdd9ec" stroke-width="0.6"/>
<polygon points="325.5,191.7 345.8,190.1 362.8,178.9 342.6,180.7" fill="none" stroke="#fff" stroke-width="0.9"/>
<polygon points="345.8,190.1 352.5,190.1 369.6,178.7 362.8,178.9" fill="#d1dae9" stroke="#d1dae9" stroke-width="0.6"/>
<polygon points="352.5,190.1 359.3,190.0 376.3,178.6 369.6,178.7" fill="#d4dbe6" stroke="#d4dbe6" stroke-width="0.6"/>
<polygon points="359.3,190.0 366.0,189.9 383.1,178.4 376.3,178.6" fill="#d7dce3" stroke="#d7dce3" stroke-width="0.6"/>
<polygon points="345.8,190.1 366.0,189.9 383.1,178.4 362.8,178.9" fill="none" stroke="#fff" stroke-width="0.9"/>
<polygon points="366.0,189.9 372.8,190.1 389.8,178.5 383.1,178.4" fill="#dadce0" stroke="#dadce0" stroke-width="0.6"/>
<polygon points="372.8,190.1 379.5,190.3 396.6,178.7 389.8,178.5" fill="#dcdddd" stroke="#dcdddd" stroke-width="0.6"/>
<polygon points="379.5,190.3 386.3,190.5 403.3,178.8 396.6,178.7" fill="#dfdbd9" stroke="#dfdbd9" stroke-width="0.6"/>
<polygon points="366.0,189.9 386.3,190.5 403.3,178.8 383.1,178.4" fill="none" stroke="#fff" stroke-width="0.9"/>
<polygon points="386.3,190.5 393.0,190.9 410.0,179.2 403.3,178.8" fill="#e1dad6" stroke="#e1dad6" stroke-width="0.6"/>
<polygon points="393.0,190.9 399.8,191.4 416.8,179.5 410.0,179.2" fill="#e3d9d3" stroke="#e3d9d3" stroke-width="0.6"/>
<polygon points="399.8,191.4 406.5,191.8 423.5,179.9 416.8,179.5" fill="#e5d8d1" stroke="#e5d8d1" stroke-width="0.6"/>
<polygon points="386.3,190.5 406.5,191.8 423.5,179.9 403.3,178.8" fill="none" stroke="#fff" stroke-width="0.9"/>
<polygon points="406.5,191.8 413.3,192.4 430.3,180.4 423.5,179.9" fill="#e8d6cc" stroke="#e8d6cc" stroke-width="0.6"/>
<polygon points="413.3,192.4 420.0,192.9 437.0,180.9 430.3,180.4" fill="#ead5c9" stroke="#ead5c9" stroke-width="0.6"/>
<polygon points="420.0,192.9 426.8,193.5 443.8,181.5 437.0,180.9" fill="#ebd3c6" stroke="#ebd3c6" stroke-width="0.6"/>
<polygon points="406.5,191.8 426.8,193.5 443.8,181.5 423.5,179.9" fill="none" stroke="#fff" stroke-width="0.9"/>
<polygon points="426.8,193.5 433.5,194.3 450.5,182.1 443.8,181.5" fill="#edd2c3" stroke="#edd2c3" stroke-width="0.6"/>
<polygon points="433.5,194.3 440.3,195.0 457.3,182.8 450.5,182.1" fill="#eed0c0" stroke="#eed0c0" stroke-width="0.6"/>
<polygon points="440.3,195.0 447.0,195.7 464.0,183.5 457.3,182.8" fill="#efcfbf" stroke="#efcfbf" stroke-width="0.6"/>
<polygon points="426.8,193.5 447.0,195.7 464.0,183.5 443.8,181.5" fill="none" stroke="#fff" stroke-width="0.9"/>
<polygon points="447.0,195.7 453.8,196.5 470.8,184.2 464.0,183.5" fill="#f0cdbb" stroke="#f0cdbb" stroke-width="0.6"/>
<polygon points="453.8,196.5 460.5,197.4 477.5,185.0 470.8,184.2" fill="#f1ccb8" stroke="#f1ccb8" stroke-width="0.6"/>
<polygon points="460.5,197.4 467.3,198.2 484.3,185.8 477.5,185.0" fill="#f2cab5" stroke="#f2cab5" stroke-width="0.6"/>
<polygon points="447.0,195.7 467.3,198.2 484.3,185.8 464.0,183.5" fill="none" stroke="#fff" stroke-width="0.9"/>
<polygon points="467.3,198.2 474.0,199.1 491.0,186.7 484.3,185.8" fill="#f3c8b2" stroke="#f3c8b2" stroke-width="0.6"/>
<polygon points="474.0,199.1 480.8,200.0 497.8,187.5 491.0,186.7" fill="#f3c7b1" stroke="#f3c7b1" stroke-width="0.6"/>
<polygon points="480.8,200.0 487.5,201.0 504.5,188.4 497.8,187.5" fill="#f4c5ad" stroke="#f4c5ad" stroke-width="0.6"/>
<polygon points="467.3,198.2 487.5,201.0 504.5,188.4 484.3,185.8" fill="none" stroke="#fff" stroke-width="0.9"/>
<polygon points="487.5,201.0 494.3,202.0 511.3,189.4 504.5,188.4" fill="#f5c2aa" stroke="#f5c2aa" stroke-width="0.6"/>
<polygon points="494.3,202.0 501.0,203.0 518.0,190.3 511.3,189.4" fill="#f5c1a9" stroke="#f5c1a9" stroke-width="0.6"/>
<polygon points="501.0,203.0 507.8,204.0 524.8,191.3 518.0,190.3" fill="#f6bfa6" stroke="#f6bfa6" stroke-width="0.6"/>
<polygon points="487.5,201.0 507.8,204.0 524.8,191.3 504.5,188.4" fill="none" stroke="#fff" stroke-width="0.9"/>
<polygon points="507.8,204.0 514.5,205.0 531.5,192.3 524.8,191.3" fill="#f6bea4" stroke="#f6bea4" stroke-width="0.6"/>
<polygon points="514.5,205.0 521.3,206.1 538.3,193.4 531.5,192.3" fill="#f7bca1" stroke="#f7bca1" stroke-width="0.6"/>
<polygon points="521.3,206.1 528.0,207.2 545.0,194.4 538.3,193.4" fill="#f7ba9f" stroke="#f7ba9f" stroke-width="0.6"/>
<polygon points="507.8,204.0 528.0,207.2 545.0,194.4 524.8,191.3" fill="none" stroke="#fff" stroke-width="0.9"/>
<polygon points="528.0,207.2 534.8,208.3 551.8,195.5 545.0,194.4" fill="#f7b89c" stroke="#f7b89c" stroke-width="0.6"/>
<polygon points="534.8,208.3 541.5,209.5 558.5,196.6 551.8,195.5" fill="#f7b79b" stroke="#f7b79b" stroke-width="0.6"/>
<polygon points="541.5,209.5 548.3,210.6 565.3,197.7 558.5,196.6" fill="#f7b497" stroke="#f7b497" stroke-width="0.6"/>
<polygon points="528.0,207.2 548.3,210.6 565.3,197.7 545.0,194.4" fill="none" stroke="#fff" stroke-width="0.9"/>
<polygon points="548.3,210.6 555.0,211.8 572.0,198.8 565.3,197.7" fill="#f7b396" stroke="#f7b396" stroke-width="0.6"/>
<polygon points="555.0,211.8 561.8,213.0 578.8,200.0 572.0,198.8" fill="#f7b194" stroke="#f7b194" stroke-width="0.6"/>
<polygon points="561.8,213.0 568.5,214.2 585.5,201.1 578.8,200.0" fill="#f7af91" stroke="#f7af91" stroke-width="0.6"/>
<polygon points="548.3,210.6 568.5,214.2 585.5,201.1 565.3,197.7" fill="none" stroke="#fff" stroke-width="0.9"/>
<polygon points="568.5,214.2 575.3,215.4 592.3,202.3 585.5,201.1" fill="#f7ad90" stroke="#f7ad90" stroke-width="0.6"/>
<polygon points="575.3,215.4 582.0,216.6 599.0,203.5 592.3,202.3" fill="#f7ac8e" stroke="#f7ac8e" stroke-width="0.6"/>
<polygon points="582.0,216.6 588.8,217.9 605.8,204.7 599.0,203.5" fill="#f7a98b" stroke="#f7a98b" stroke-width="0.6"/>
<polygon points="568.5,214.2 588.8,217.9 605.8,204.7 585.5,201.1" fill="none" stroke="#fff" stroke-width="0.9"/>
<polygon points="588.8,217.9 595.5,219.1 612.5,205.9 605.8,204.7" fill="#f7a889" stroke="#f7a889" stroke-width="0.6"/>
<polygon points="595.5,219.1 602.3,220.4 619.3,207.2 612.5,205.9" fill="#f7a688" stroke="#f7a688" stroke-width="0.6"/>
<polygon points="602.3,220.4 609.0,221.7 626.0,208.4 619.3,207.2" fill="#f6a385" stroke="#f6a385" stroke-width="0.6"/>
<polygon points="588.8,217.9 609.0,221.7 626.0,208.4 605.8,204.7" fill="none" stroke="#fff" stroke-width="0.9"/>
<polygon points="609.0,221.7 615.8,223.0 632.8,209.7 626.0,208.4" fill="#f6a283" stroke="#f6a283" stroke-width="0.6"/>
<polygon points="615.8,223.0 622.5,224.3 639.5,211.0 632.8,209.7" fill="#f5a081" stroke="#f5a081" stroke-width="0.6"/>
<polygon points="622.5,224.3 629.3,225.6 646.3,212.3 639.5,211.0" fill="#f59f80" stroke="#f59f80" stroke-width="0.6"/>
<polygon points="609.0,221.7 629.3,225.6 646.3,212.3 626.0,208.4" fill="none" stroke="#fff" stroke-width="0.9"/>
<polygon points="629.3,225.6 636.0,227.0 653.0,213.6 646.3,212.3" fill="#f59d7e" stroke="#f59d7e" stroke-width="0.6"/>
<polygon points="636.0,227.0 642.8,228.4 659.8,214.9 653.0,213.6" fill="#f49a7b" stroke="#f49a7b" stroke-width="0.6"/>
<polygon points="642.8,228.4 649.5,229.7 666.5,216.2 659.8,214.9" fill="#f4987a" stroke="#f4987a" stroke-width="0.6"/>
<polygon points="629.3,225.6 649.5,229.7 666.5,216.2 646.3,212.3" fill="none" stroke="#fff" stroke-width="0.9"/>
<polygon points="247.8,208.1 268.0,215.2 285.1,205.1 264.8,198.0" fill="#8badfd" stroke="#8badfd" stroke-width="0.6"/>
<polygon points="247.8,208.1 268.0,215.2 285.1,205.1 264.8,198.0" fill="none" stroke="#fff" stroke-width="0.9"/>
<polygon points="268.0,213.1 274.8,210.7 291.8,200.3 285.1,202.9" fill="#9fbfff" stroke="#9fbfff" stroke-width="0.6"/>
<polygon points="274.8,210.7 281.5,208.3 298.6,197.8 291.8,200.3" fill="#a7c5fe" stroke="#a7c5fe" stroke-width="0.6"/>
<polygon points="281.5,208.3 288.3,205.9 305.3,195.2 298.6,197.8" fill="#aec9fc" stroke="#aec9fc" stroke-width="0.6"/>
<polygon points="268.0,213.1 288.3,205.9 305.3,195.2 285.1,202.9" fill="none" stroke="#fff" stroke-width="0.9"/>
<polygon points="288.3,205.9 295.0,204.9 312.0,194.0 305.3,195.2" fill="#b3cdfb" stroke="#b3cdfb" stroke-width="0.6"/>
<polygon points="295.0,204.9 301.8,203.8 318.8,192.8 312.0,194.0" fill="#b9d0f9" stroke="#b9d0f9" stroke-width="0.6"/>
<polygon points="301.8,203.8 308.5,202.8 325.5,191.7 318.8,192.8" fill="#bed2f6" stroke="#bed2f6" stroke-width="0.6"/>
<polygon points="288.3,205.9 308.5,202.8 325.5,191.7 305.3,195.2" fill="none" stroke="#fff" stroke-width="0.9"/>
<polygon points="308.5,202.8 315.3,202.4 332.3,191.2 325.5,191.7" fill="#c3d5f4" stroke="#c3d5f4" stroke-width="0.6"/>
<polygon points="315.3,202.4 322.0,202.0 339.0,190.7 332.3,191.2" fill="#c6d6f1" stroke="#c6d6f1" stroke-width="0.6"/>
<polygon points="322.0,202.0 328.8,201.6 345.8,190.1 339.0,190.7" fill="#cad8ef" stroke="#cad8ef" stroke-width="0.6"/>
<polygon points="308.5,202.8 328.8,201.6 345.8,190.1 325.5,191.7" fill="none" stroke="#fff" stroke-width="0.9"/>
<polygon points="328.8,201.6 335.5,201.6 352.5,190.1 345.8,190.1" fill="#cdd9ec" stroke="#cdd9ec" stroke-width="0.6"/>
<polygon points="335.5,201.6 342.3,201.6 359.3,190.0 352.5,190.1" fill="#d1dae9" stroke="#d1dae9" stroke-width="0.6"/>
<polygon points="342.3,201.6 349.0,201.6 366.0,189.9 359.3,190.0" fill="#d3dbe7" stroke="#d3dbe7" stroke-width="0.6"/>
<polygon points="328.8,201.6 349.0,201.6 366.0,189.9 345.8,190.1" fill="none" stroke="#fff" stroke-width="0.9"/>
<polygon points="349.0,201.6 355.8,201.9 372.8,190.1 366.0,189.9" fill="#d6dce4" stroke="#d6dce4" stroke-width="0.6"/>
<polygon points="355.8,201.9 362.5,202.1 379.5,190.3 372.8,190.1" fill="#d8dce2" stroke="#d8dce2" stroke-width="0.6"/>
<polygon points="362.5,202.1 369.3,202.4 386.3,190.5 379.5,190.3" fill="#dbdcde" stroke="#dbdcde" stroke-width="0.6"/>
<polygon points="349.0,201.6 369.3,202.4 386.3,190.5 366.0,189.9" fill="none" stroke="#fff" stroke-width="0.9"/>
<polygon points="369.3,202.4 376.0,202.9 393.0,190.9 386.3,190.5" fill="#dddcdc" stroke="#dddcdc" stroke-width="0.6"/>
<polygon points="376.0,202.9 382.8,203.4 399.8,191.4 393.0,190.9" fill="#dfdbd9" stroke="#dfdbd9" stroke-width="0.6"/>
<polygon points="382.8,203.4 389.5,203.9 406.5,191.8 399.8,191.4" fill="#e1dad6" stroke="#e1dad6" stroke-width="0.6"/>
<polygon points="369.3,202.4 389.5,203.9 406.5,191.8 386.3,190.5" fill="none" stroke="#fff" stroke-width="0.9"/>
<polygon points="389.5,203.9 396.3,204.5 413.3,192.4 406.5,191.8" fill="#e3d9d3" stroke="#e3d9d3" stroke-width="0.6"/>
<polygon points="396.3,204.5 403.0,205.2 420.0,192.9 413.3,192.4" fill="#e5d8d1" stroke="#e5d8d1" stroke-width="0.6"/>
<polygon points="403.0,205.2 409.8,205.8 426.8,193.5 420.0,192.9" fill="#e7d7ce" stroke="#e7d7ce" stroke-width="0.6"/>
<polygon points="389.5,203.9 409.8,205.8 426.8,193.5 406.5,191.8" fill="none" stroke="#fff" stroke-width="0.9"/>
<polygon points="409.8,205.8 416.5,206.6 433.5,194.3 426.8,193.5" fill="#e9d5cb" stroke="#e9d5cb" stroke-width="0.6"/>
<polygon points="416.5,206.6 423.3,207.4 440.3,195.0 433.5,194.3" fill="#ead4c8" stroke="#ead4c8" stroke-width="0.6"/>
<polygon points="423.3,207.4 430.0,208.2 447.0,195.7 440.3,195.0" fill="#ecd3c5" stroke="#ecd3c5" stroke-width="0.6"/>
<polygon points="409.8,205.8 430.0,208.2 447.0,195.7 426.8,193.5" fill="none" stroke="#fff" stroke-width="0.9"/>
<polygon points="430.0,208.2 436.8,209.0 453.8,196.5 447.0,195.7" fill="#edd1c2" stroke="#edd1c2" stroke-width="0.6"/>
<polygon points="436.8,209.0 443.5,209.9 460.5,197.4 453.8,196.5" fill="#efcfbf" stroke="#efcfbf" stroke-width="0.6"/>
<polygon points="443.5,209.9 450.3,210.8 467.3,198.2 460.5,197.4" fill="#efcebd" stroke="#efcebd" stroke-width="0.6"/>
<polygon points="430.0,208.2 450.3,210.8 467.3,198.2 447.0,195.7" fill="none" stroke="#fff" stroke-width="0.9"/>
<polygon points="450.3,210.8 457.0,211.8 474.0,199.1 467.3,198.2" fill="#f1cdba" stroke="#f1cdba" stroke-width="0.6"/>
<polygon points="457.0,211.8 463.8,212.8 480.8,200.0 474.0,199.1" fill="#f2cbb7" stroke="#f2cbb7" stroke-width="0.6"/>
<polygon points="463.8,212.8 470.5,213.7 487.5,201.0 480.8,200.0" fill="#f2cab5" stroke="#f2cab5" stroke-width="0.6"/>
<polygon points="450.3,210.8 470.5,213.7 487.5,201.0 467.3,198.2" fill="none" stroke="#fff" stroke-width="0.9"/>
<polygon points="470.5,213.7 477.3,214.8 494.3,202.0 487.5,201.0" fill="#f3c8b2" stroke="#f3c8b2" stroke-width="0.6"/>
<polygon points="477.3,214.8 484.0,215.8 501.0,203.0 494.3,202.0" fill="#f3c7b1" stroke="#f3c7b1" stroke-width="0.6"/>
<polygon points="484.0,215.8 490.8,216.9 507.8,204.0 501.0,203.0" fill="#f4c5ad" stroke="#f4c5ad" stroke-width="0.6"/>
<polygon points="470.5,213.7 490.8,216.9 507.8,204.0 487.5,201.0" fill="none" stroke="#fff" stroke-width="0.9"/>
<polygon points="490.8,216.9 497.5,218.0 514.5,205.0 507.8,204.0" fill="#f5c4ac" stroke="#f5c4ac" stroke-width="0.6"/>
<polygon points="497.5,218.0 504.3,219.1 521.3,206.1 514.5,205.0" fill="#f5c1a9" stroke="#f5c1a9" stroke-width="0.6"/>
<polygon points="504.3,219.1 511.0,220.3 528.0,207.2 521.3,206.1" fill="#f5c0a7" stroke="#f5c0a7" stroke-width="0.6"/>
<polygon points="490.8,216.9 511.0,220.3 528.0,207.2 507.8,204.0" fill="none" stroke="#fff" stroke-width="0.9"/>
<polygon points="511.0,220.3 517.8,221.4 534.8,208.3 528.0,207.2" fill="#f6bea4" stroke="#f6bea4" stroke-width="0.6"/>
<polygon points="517.8,221.4 524.5,222.6 541.5,209.5 534.8,208.3" fill="#f6bda2" stroke="#f6bda2" stroke-width="0.6"/>
<polygon points="524.5,222.6 531.3,223.8 548.3,210.6 541.5,209.5" fill="#f7bca1" stroke="#f7bca1" stroke-width="0.6"/>
<polygon points="511.0,220.3 531.3,223.8 548.3,210.6 528.0,207.2" fill="none" stroke="#fff" stroke-width="0.9"/>
<polygon points="531.3,223.8 538.0,225.0 555.0,211.8 548.3,210.6" fill="#f7b99e" stroke="#f7b99e" stroke-width="0.6"/>
<polygon points="538.0,225.0 544.8,226.2 561.8,213.0 555.0,211.8" fill="#f7b89c" stroke="#f7b89c" stroke-width="0.6"/>
<polygon points="544.8,226.2 551.5,227.5 568.5,214.2 561.8,213.0" fill="#f7b79b" stroke="#f7b79b" stroke-width="0.6"/>
<polygon points="531.3,223.8 551.5,227.5 568.5,214.2 548.3,210.6" fill="none" stroke="#fff" stroke-width="0.9"/>
<polygon points="551.5,227.5 558.3,228.7 575.3,215.4 568.5,214.2" fill="#f7b497" stroke="#f7b497" stroke-width="0.6"/>
<polygon points="558.3,228.7 565.0,230.0 582.0,216.6 575.3,215.4" fill="#f7b396" stroke="#f7b396" stroke-width="0.6"/>
<polygon points="565.0,230.0 571.8,231.3 588.8,217.9 582.0,216.6" fill="#f7b194" stroke="#f7b194" stroke-width="0.6"/>
<polygon points="551.5,227.5 571.8,231.3 588.8,217.9 568.5,214.2" fill="none" stroke="#fff" stroke-width="0.9"/>
<polygon points="571.8,231.3 578.5,232.6 595.5,219.1 588.8,217.9" fill="#f7b093" stroke="#f7b093" stroke-width="0.6"/>
<polygon points="578.5,232.6 585.3,233.9 602.3,220.4 595.5,219.1" fill="#f7ad90" stroke="#f7ad90" stroke-width="0.6"/>
<polygon points="585.3,233.9 592.0,235.2 609.0,221.7 602.3,220.4" fill="#f7ac8e" stroke="#f7ac8e" stroke-width="0.6"/>
<polygon points="571.8,231.3 592.0,235.2 609.0,221.7 588.8,217.9" fill="none" stroke="#fff" stroke-width="0.9"/>
<polygon points="592.0,235.2 598.7,236.6 615.8,223.0 609.0,221.7" fill="#f7aa8c" stroke="#f7aa8c" stroke-width="0.6"/>
<polygon points="598.7,236.6 605.5,238.0 622.5,224.3 615.8,223.0" fill="#f7a98b" stroke="#f7a98b" stroke-width="0.6"/>
<polygon points="605.5,238.0 612.2,239.3 629.3,225.6 622.5,224.3" fill="#f7a889" stroke="#f7a889" stroke-width="0.6"/>
<polygon points="592.0,235.2 612.2,239.3 629.3,225.6 609.0,221.7" fill="none" stroke="#fff" stroke-width="0.9"/>
<polygon points="612.2,239.3 619.0,240.7 636.0,227.0 629.3,225.6" fill="#f6a586" stroke="#f6a586" stroke-width="0.6"/>
<polygon points="619.0,240.7 625.7,242.1 642.8,228.4 636.0,227.0" fill="#f6a385" stroke="#f6a385" stroke-width="0.6"/>
<polygon points="625.7,242.1 632.5,243.5 649.5,229.7 642.8,228.4" fill="#f6a283" stroke="#f6a283" stroke-width="0.6"/>
<polygon points="612.2,239.3 632.5,243.5 649.5,229.7 629.3,225.6" fill="none" stroke="#fff" stroke-width="0.9"/>
<polygon points="230.8,218.3 251.0,225.5 268.0,215.2 247.8,208.1" fill="#88abfd" stroke="#88abfd" stroke-width="0.6"/>
<polygon points="230.8,218.3 251.0,225.5 268.0,215.2 247.8,208.1" fill="none" stroke="#fff" stroke-width="0.9"/>
<polygon points="251.0,223.5 257.8,221.2 274.8,210.7 268.0,213.1" fill="#9dbdff" stroke="#9dbdff" stroke-width="0.6"/>
<polygon points="257.8,221.2 264.5,219.0 281.5,208.3 274.8,210.7" fill="#a3c2fe" stroke="#a3c2fe" stroke-width="0.6"/>
<polygon points="264.5,219.0 271.3,216.8 288.3,205.9 281.5,208.3" fill="#aac7fd" stroke="#aac7fd" stroke-width="0.6"/>
<polygon points="251.0,223.5 271.3,216.8 288.3,205.9 268.0,213.1" fill="none" stroke="#fff" stroke-width="0.9"/>
<polygon points="271.3,216.8 278.0,215.9 295.0,204.9 288.3,205.9" fill="#afcafc" stroke="#afcafc" stroke-width="0.6"/>
<polygon points="278.0,215.9 284.8,215.0 301.8,203.8 295.0,204.9" fill="#b5cdfa" stroke="#b5cdfa" stroke-width="0.6"/>
<polygon points="284.8,215.0 291.5,214.1 308.5,202.8 301.8,203.8" fill="#bad0f8" stroke="#bad0f8" stroke-width="0.6"/>
<polygon points="271.3,216.8 291.5,214.1 308.5,202.8 288.3,205.9" fill="none" stroke="#fff" stroke-width="0.9"/>
<polygon points="291.5,214.1 298.3,213.8 315.3,202.4 308.5,202.8" fill="#bed2f6" stroke="#bed2f6" stroke-width="0.6"/>
<polygon points="298.3,213.8 305.0,213.5 322.0,202.0 315.3,202.4" fill="#c3d5f4" stroke="#c3d5f4" stroke-width="0.6"/>
<polygon points="305.0,213.5 311.8,213.2 328.8,201.6 322.0,202.0" fill="#c6d6f1" stroke="#c6d6f1" stroke-width="0.6"/>
<polygon points="291.5,214.1 311.8,213.2 328.8,201.6 308.5,202.8" fill="none" stroke="#fff" stroke-width="0.9"/>
<polygon points="311.8,213.2 318.5,213.3 335.5,201.6 328.8,201.6" fill="#c9d7f0" stroke="#c9d7f0" stroke-width="0.6"/>
<polygon points="318.5,213.3 325.3,213.4 342.3,201.6 335.5,201.6" fill="#ccd9ed" stroke="#ccd9ed" stroke-width="0.6"/>
<polygon points="325.3,213.4 332.0,213.5 349.0,201.6 342.3,201.6" fill="#cfdaea" stroke="#cfdaea" stroke-width="0.6"/>
<polygon points="311.8,213.2 332.0,213.5 349.0,201.6 328.8,201.6" fill="none" stroke="#fff" stroke-width="0.9"/>
<polygon points="332.0,213.5 338.8,213.8 355.8,201.9 349.0,201.6" fill="#d2dbe8" stroke="#d2dbe8" stroke-width="0.6"/>
<polygon points="338.8,213.8 345.5,214.2 362.5,202.1 355.8,201.9" fill="#d4dbe6" stroke="#d4dbe6" stroke-width="0.6"/>
<polygon points="345.5,214.2 352.3,214.5 369.3,202.4 362.5,202.1" fill="#d7dce3" stroke="#d7dce3" stroke-width="0.6"/>
<polygon points="332.0,213.5 352.3,214.5 369.3,202.4 349.0,201.6" fill="none" stroke="#fff" stroke-width="0.9"/>
<polygon points="352.3,214.5 359.0,215.1 376.0,202.9 369.3,202.4" fill="#d9dce1" stroke="#d9dce1" stroke-width="0.6"/>
<polygon points="359.0,215.1 365.8,215.7 382.8,203.4 376.0,202.9" fill="#dbdcde" stroke="#dbdcde" stroke-width="0.6"/>
<polygon points="365.8,215.7 372.5,216.2 389.5,203.9 382.8,203.4" fill="#dddcdc" stroke="#dddcdc" stroke-width="0.6"/>
<polygon points="352.3,214.5 372.5,216.2 389.5,203.9 369.3,202.4" fill="none" stroke="#fff" stroke-width="0.9"/>
<polygon points="372.5,216.2 379.3,216.9 396.3,204.5 389.5,203.9" fill="#dfdbd9" stroke="#dfdbd9" stroke-width="0.6"/>
<polygon points="379.3,216.9 386.0,217.7 403.0,205.2 396.3,204.5" fill="#e1dad6" stroke="#e1dad6" stroke-width="0.6"/>
<polygon points="386.0,217.7 392.8,218.4 409.8,205.8 403.0,205.2" fill="#e3d9d3" stroke="#e3d9d3" stroke-width="0.6"/>
<polygon points="372.5,216.2 392.8,218.4 409.8,205.8 389.5,203.9" fill="none" stroke="#fff" stroke-width="0.9"/>
<polygon points="392.8,218.4 399.5,219.2 416.5,206.6 409.8,205.8" fill="#e5d8d1" stroke="#e5d8d1" stroke-width="0.6"/>
<polygon points="399.5,219.2 406.3,220.1 423.3,207.4 416.5,206.6" fill="#e7d7ce" stroke="#e7d7ce" stroke-width="0.6"/>
<polygon points="406.3,220.1 413.0,220.9 430.0,208.2 423.3,207.4" fill="#e8d6cc" stroke="#e8d6cc" stroke-width="0.6"/>
<polygon points="392.8,218.4 413.0,220.9 430.0,208.2 409.8,205.8" fill="none" stroke="#fff" stroke-width="0.9"/>
<polygon points="413.0,220.9 419.8,221.8 436.8,209.0 430.0,208.2" fill="#ead5c9" stroke="#ead5c9" stroke-width="0.6"/>
<polygon points="419.8,221.8 426.5,222.8 443.5,209.9 436.8,209.0" fill="#ebd3c6" stroke="#ebd3c6" stroke-width="0.6"/>
<polygon points="426.5,222.8 433.3,223.7 450.3,210.8 443.5,209.9" fill="#ecd3c5" stroke="#ecd3c5" stroke-width="0.6"/>
<polygon points="413.0,220.9 433.3,223.7 450.3,210.8 430.0,208.2" fill="none" stroke="#fff" stroke-width="0.9"/>
<polygon points="433.3,223.7 440.0,224.7 457.0,211.8 450.3,210.8" fill="#edd1c2" stroke="#edd1c2" stroke-width="0.6"/>
<polygon points="440.0,224.7 446.8,225.8 463.8,212.8 457.0,211.8" fill="#efcfbf" stroke="#efcfbf" stroke-width="0.6"/>
<polygon points="446.8,225.8 453.5,226.8 470.5,213.7 463.8,212.8" fill="#efcebd" stroke="#efcebd" stroke-width="0.6"/>
<polygon points="433.3,223.7 453.5,226.8 470.5,213.7 450.3,210.8" fill="none" stroke="#fff" stroke-width="0.9"/>
<polygon points="453.5,226.8 460.3,227.9 477.3,214.8 470.5,213.7" fill="#f1cdba" stroke="#f1cdba" stroke-width="0.6"/>
<polygon points="460.3,227.9 467.0,229.0 484.0,215.8 477.3,214.8" fill="#f1ccb8" stroke="#f1ccb8" stroke-width="0.6"/>
<polygon points="467.0,229.0 473.8,230.1 490.8,216.9 484.0,215.8" fill="#f2cbb7" stroke="#f2cbb7" stroke-width="0.6"/>
<polygon points="453.5,226.8 473.8,230.1 490.8,216.9 470.5,213.7" fill="none" stroke="#fff" stroke-width="0.9"/>
<polygon points="473.8,230.1 480.5,231.3 497.5,218.0 490.8,216.9" fill="#f2c9b4" stroke="#f2c9b4" stroke-width="0.6"/>
<polygon points="480.5,231.3 487.3,232.4 504.3,219.1 497.5,218.0" fill="#f3c8b2" stroke="#f3c8b2" stroke-width="0.6"/>
<polygon points="487.3,232.4 494.0,233.6 511.0,220.3 504.3,219.1" fill="#f4c6af" stroke="#f4c6af" stroke-width="0.6"/>
<polygon points="473.8,230.1 494.0,233.6 511.0,220.3 490.8,216.9" fill="none" stroke="#fff" stroke-width="0.9"/>
<polygon points="494.0,233.6 500.7,234.8 517.8,221.4 511.0,220.3" fill="#f4c5ad" stroke="#f4c5ad" stroke-width="0.6"/>
<polygon points="500.7,234.8 507.5,236.1 524.5,222.6 517.8,221.4" fill="#f5c4ac" stroke="#f5c4ac" stroke-width="0.6"/>
<polygon points="507.5,236.1 514.2,237.3 531.3,223.8 524.5,222.6" fill="#f5c1a9" stroke="#f5c1a9" stroke-width="0.6"/>
<polygon points="494.0,233.6 514.2,237.3 531.3,223.8 511.0,220.3" fill="none" stroke="#fff" stroke-width="0.9"/>
<polygon points="514.2,237.3 521.0,238.6 538.0,225.0 531.3,223.8" fill="#f5c0a7" stroke="#f5c0a7" stroke-width="0.6"/>
<polygon points="521.0,238.6 527.7,239.8 544.8,226.2 538.0,225.0" fill="#f6bfa6" stroke="#f6bfa6" stroke-width="0.6"/>
<polygon points="527.7,239.8 534.5,241.1 551.5,227.5 544.8,226.2" fill="#f6bda2" stroke="#f6bda2" stroke-width="0.6"/>
<polygon points="514.2,237.3 534.5,241.1 551.5,227.5 531.3,223.8" fill="none" stroke="#fff" stroke-width="0.9"/>
<polygon points="534.5,241.1 541.2,242.4 558.3,228.7 551.5,227.5" fill="#f7bca1" stroke="#f7bca1" stroke-width="0.6"/>
<polygon points="541.2,242.4 548.0,243.7 565.0,230.0 558.3,228.7" fill="#f7ba9f" stroke="#f7ba9f" stroke-width="0.6"/>
<polygon points="548.0,243.7 554.7,245.1 571.8,231.3 565.0,230.0" fill="#f7b99e" stroke="#f7b99e" stroke-width="0.6"/>
<polygon points="534.5,241.1 554.7,245.1 571.8,231.3 551.5,227.5" fill="none" stroke="#fff" stroke-width="0.9"/>
<polygon points="554.7,245.1 561.5,246.4 578.5,232.6 571.8,231.3" fill="#f7b89c" stroke="#f7b89c" stroke-width="0.6"/>
<polygon points="561.5,246.4 568.2,247.8 585.3,233.9 578.5,232.6" fill="#f7b599" stroke="#f7b599" stroke-width="0.6"/>
<polygon points="568.2,247.8 575.0,249.1 592.0,235.2 585.3,233.9" fill="#f7b497" stroke="#f7b497" stroke-width="0.6"/>
<polygon points="554.7,245.1 575.0,249.1 592.0,235.2 571.8,231.3" fill="none" stroke="#fff" stroke-width="0.9"/>
<polygon points="575.0,249.1 581.7,250.5 598.7,236.6 592.0,235.2" fill="#f7b396" stroke="#f7b396" stroke-width="0.6"/>
<polygon points="581.7,250.5 588.5,251.9 605.5,238.0 598.7,236.6" fill="#f7b194" stroke="#f7b194" stroke-width="0.6"/>
<polygon points="588.5,251.9 595.2,253.3 612.2,239.3 605.5,238.0" fill="#f7b093" stroke="#f7b093" stroke-width="0.6"/>
<polygon points="575.0,249.1 595.2,253.3 612.2,239.3 592.0,235.2" fill="none" stroke="#fff" stroke-width="0.9"/>
<polygon points="595.2,253.3 602.0,254.7 619.0,240.7 612.2,239.3" fill="#f7af91" stroke="#f7af91" stroke-width="0.6"/>
<polygon points="602.0,254.7 608.7,256.2 625.7,242.1 619.0,240.7" fill="#f7ad90" stroke="#f7ad90" stroke-width="0.6"/>
<polygon points="608.7,256.2 615.5,257.6 632.5,243.5 625.7,242.1" fill="#f7aa8c" stroke="#f7aa8c" stroke-width="0.6"/>
<polygon points="595.2,253.3 615.5,257.6 632.5,243.5 612.2,239.3" fill="none" stroke="#fff" stroke-width="0.9"/>
<polygon points="213.8,228.7 234.0,235.8 251.0,225.5 230.8,218.3" fill="#86a9fc" stroke="#86a9fc" stroke-width="0.6"/>
<polygon points="213.8,228.7 234.0,235.8 251.0,225.5 230.8,218.3" fill="none" stroke="#fff" stroke-width="0.9"/>
<polygon points="234.0,233.9 240.8,231.9 257.8,221.2 251.0,223.5" fill="#98b9ff" stroke="#98b9ff" stroke-width="0.6"/>
<polygon points="240.8,231.9 247.5,229.9 264.5,219.0 257.8,221.2" fill="#a1c0ff" stroke="#a1c0ff" stroke-width="0.6"/>
<polygon points="247.5,229.9 254.3,227.9 271.3,216.8 264.5,219.0" fill="#a6c4fe" stroke="#a6c4fe" stroke-width="0.6"/>
<polygon points="234.0,233.9 254.3,227.9 271.3,216.8 251.0,223.5" fill="none" stroke="#fff" stroke-width="0.9"/>
<polygon points="254.3,227.9 261.0,227.1 278.0,215.9 271.3,216.8" fill="#abc8fd" stroke="#abc8fd" stroke-width="0.6"/>
<polygon points="261.0,227.1 267.8,226.3 284.8,215.0 278.0,215.9" fill="#b1cbfc" stroke="#b1cbfc" stroke-width="0.6"/>
<polygon points="267.8,226.3 274.5,225.5 291.5,214.1 284.8,215.0" fill="#b6cefa" stroke="#b6cefa" stroke-width="0.6"/>
<polygon points="254.3,227.9 274.5,225.5 291.5,214.1 271.3,216.8" fill="none" stroke="#fff" stroke-width="0.9"/>
<polygon points="274.5,225.5 281.3,225.4 298.3,213.8 291.5,214.1" fill="#bad0f8" stroke="#bad0f8" stroke-width="0.6"/>
<polygon points="281.3,225.4 288.0,225.2 305.0,213.5 298.3,213.8" fill="#bed2f6" stroke="#bed2f6" stroke-width="0.6"/>
<polygon points="288.0,225.2 294.8,225.0 311.8,213.2 305.0,213.5" fill="#c1d4f4" stroke="#c1d4f4" stroke-width="0.6"/>
<polygon points="274.5,225.5 294.8,225.0 311.8,213.2 291.5,214.1" fill="none" stroke="#fff" stroke-width="0.9"/>
<polygon points="294.8,225.0 301.5,225.2 318.5,213.3 311.8,213.2" fill="#c5d6f2" stroke="#c5d6f2" stroke-width="0.6"/>
<polygon points="301.5,225.2 308.3,225.4 325.3,213.4 318.5,213.3" fill="#c7d7f0" stroke="#c7d7f0" stroke-width="0.6"/>
<polygon points="308.3,225.4 315.0,225.6 332.0,213.5 325.3,213.4" fill="#cbd8ee" stroke="#cbd8ee" stroke-width="0.6"/>
<polygon points="294.8,225.0 315.0,225.6 332.0,213.5 311.8,213.2" fill="none" stroke="#fff" stroke-width="0.9"/>
<polygon points="315.0,225.6 321.8,226.0 338.8,213.8 332.0,213.5" fill="#cdd9ec" stroke="#cdd9ec" stroke-width="0.6"/>
<polygon points="321.8,226.0 328.5,226.5 345.5,214.2 338.8,213.8" fill="#cfdaea" stroke="#cfdaea" stroke-width="0.6"/>
<polygon points="328.5,226.5 335.3,226.9 352.3,214.5 345.5,214.2" fill="#d2dbe8" stroke="#d2dbe8" stroke-width="0.6"/>
<polygon points="315.0,225.6 335.3,226.9 352.3,214.5 332.0,213.5" fill="none" stroke="#fff" stroke-width="0.9"/>
<polygon points="335.3,226.9 342.0,227.6 359.0,215.1 352.3,214.5" fill="#d5dbe5" stroke="#d5dbe5" stroke-width="0.6"/>
<polygon points="342.0,227.6 348.8,228.2 365.8,215.7 359.0,215.1" fill="#d7dce3" stroke="#d7dce3" stroke-width="0.6"/>
<polygon points="348.8,228.2 355.5,228.8 372.5,216.2 365.8,215.7" fill="#d9dce1" stroke="#d9dce1" stroke-width="0.6"/>
<polygon points="335.3,226.9 355.5,228.8 372.5,216.2 352.3,214.5" fill="none" stroke="#fff" stroke-width="0.9"/>
<polygon points="355.5,228.8 362.3,229.6 379.3,216.9 372.5,216.2" fill="#dadce0" stroke="#dadce0" stroke-width="0.6"/>
<polygon points="362.3,229.6 369.0,230.4 386.0,217.7 379.3,216.9" fill="#dcdddd" stroke="#dcdddd" stroke-width="0.6"/>
<polygon points="369.0,230.4 375.8,231.2 392.8,218.4 386.0,217.7" fill="#dedcdb" stroke="#dedcdb" stroke-width="0.6"/>
<polygon points="355.5,228.8 375.8,231.2 392.8,218.4 372.5,216.2" fill="none" stroke="#fff" stroke-width="0.9"/>
<polygon points="375.8,231.2 382.5,232.1 399.5,219.2 392.8,218.4" fill="#e0dbd8" stroke="#e0dbd8" stroke-width="0.6"/>
<polygon points="382.5,232.1 389.3,233.0 406.3,220.1 399.5,219.2" fill="#e2dad5" stroke="#e2dad5" stroke-width="0.6"/>
<polygon points="389.3,233.0 396.0,233.9 413.0,220.9 406.3,220.1" fill="#e3d9d3" stroke="#e3d9d3" stroke-width="0.6"/>
<polygon points="375.8,231.2 396.0,233.9 413.0,220.9 392.8,218.4" fill="none" stroke="#fff" stroke-width="0.9"/>
<polygon points="396.0,233.9 402.7,234.9 419.8,221.8 413.0,220.9" fill="#e5d8d1" stroke="#e5d8d1" stroke-width="0.6"/>
<polygon points="402.7,234.9 409.5,235.9 426.5,222.8 419.8,221.8" fill="#e6d7cf" stroke="#e6d7cf" stroke-width="0.6"/>
<polygon points="409.5,235.9 416.2,236.9 433.3,223.7 426.5,222.8" fill="#e8d6cc" stroke="#e8d6cc" stroke-width="0.6"/>
<polygon points="396.0,233.9 416.2,236.9 433.3,223.7 413.0,220.9" fill="none" stroke="#fff" stroke-width="0.9"/>
<polygon points="416.2,236.9 423.0,238.0 440.0,224.7 433.3,223.7" fill="#ead5c9" stroke="#ead5c9" stroke-width="0.6"/>
<polygon points="423.0,238.0 429.7,239.1 446.8,225.8 440.0,224.7" fill="#ead4c8" stroke="#ead4c8" stroke-width="0.6"/>
<polygon points="429.7,239.1 436.5,240.2 453.5,226.8 446.8,225.8" fill="#ecd3c5" stroke="#ecd3c5" stroke-width="0.6"/>
<polygon points="416.2,236.9 436.5,240.2 453.5,226.8 433.3,223.7" fill="none" stroke="#fff" stroke-width="0.9"/>
<polygon points="436.5,240.2 443.2,241.4 460.3,227.9 453.5,226.8" fill="#edd2c3" stroke="#edd2c3" stroke-width="0.6"/>
<polygon points="443.2,241.4 450.0,242.5 467.0,229.0 460.3,227.9" fill="#edd1c2" stroke="#edd1c2" stroke-width="0.6"/>
<polygon points="450.0,242.5 456.7,243.7 473.8,230.1 467.0,229.0" fill="#efcfbf" stroke="#efcfbf" stroke-width="0.6"/>
<polygon points="436.5,240.2 456.7,243.7 473.8,230.1 453.5,226.8" fill="none" stroke="#fff" stroke-width="0.9"/>
<polygon points="456.7,243.7 463.5,244.9 480.5,231.3 473.8,230.1" fill="#efcebd" stroke="#efcebd" stroke-width="0.6"/>
<polygon points="463.5,244.9 470.2,246.1 487.3,232.4 480.5,231.3" fill="#f1cdba" stroke="#f1cdba" stroke-width="0.6"/>
<polygon points="470.2,246.1 477.0,247.3 494.0,233.6 487.3,232.4" fill="#f1ccb8" stroke="#f1ccb8" stroke-width="0.6"/>
<polygon points="456.7,243.7 477.0,247.3 494.0,233.6 473.8,230.1" fill="none" stroke="#fff" stroke-width="0.9"/>
<polygon points="477.0,247.3 483.7,248.6 500.7,234.8 494.0,233.6" fill="#f2cbb7" stroke="#f2cbb7" stroke-width="0.6"/>
<polygon points="483.7,248.6 490.5,249.9 507.5,236.1 500.7,234.8" fill="#f2cab5" stroke="#f2cab5" stroke-width="0.6"/>
<polygon points="490.5,249.9 497.2,251.1 514.2,237.3 507.5,236.1" fill="#f3c8b2" stroke="#f3c8b2" stroke-width="0.6"/>
<polygon points="477.0,247.3 497.2,251.1 514.2,237.3 494.0,233.6" fill="none" stroke="#fff" stroke-width="0.9"/>
<polygon points="497.2,251.1 504.0,252.5 521.0,238.6 514.2,237.3" fill="#f3c7b1" stroke="#f3c7b1" stroke-width="0.6"/>
<polygon points="504.0,252.5 510.7,253.8 527.7,239.8 521.0,238.6" fill="#f4c6af" stroke="#f4c6af" stroke-width="0.6"/>
<polygon points="510.7,253.8 517.5,255.1 534.5,241.1 527.7,239.8" fill="#f4c5ad" stroke="#f4c5ad" stroke-width="0.6"/>
<polygon points="497.2,251.1 517.5,255.1 534.5,241.1 514.2,237.3" fill="none" stroke="#fff" stroke-width="0.9"/>
<polygon points="517.5,255.1 524.2,256.5 541.2,242.4 534.5,241.1" fill="#f5c2aa" stroke="#f5c2aa" stroke-width="0.6"/>
<polygon points="524.2,256.5 531.0,257.8 548.0,243.7 541.2,242.4" fill="#f5c1a9" stroke="#f5c1a9" stroke-width="0.6"/>
<polygon points="531.0,257.8 537.7,259.2 554.7,245.1 548.0,243.7" fill="#f5c0a7" stroke="#f5c0a7" stroke-width="0.6"/>
<polygon points="517.5,255.1 537.7,259.2 554.7,245.1 534.5,241.1" fill="none" stroke="#fff" stroke-width="0.9"/>
<polygon points="537.7,259.2 544.5,260.6 561.5,246.4 554.7,245.1" fill="#f6bfa6" stroke="#f6bfa6" stroke-width="0.6"/>
<polygon points="544.5,260.6 551.2,262.0 568.2,247.8 561.5,246.4" fill="#f6bea4" stroke="#f6bea4" stroke-width="0.6"/>
<polygon points="551.2,262.0 558.0,263.4 575.0,249.1 568.2,247.8" fill="#f6bda2" stroke="#f6bda2" stroke-width="0.6"/>
<polygon points="537.7,259.2 558.0,263.4 575.0,249.1 554.7,245.1" fill="none" stroke="#fff" stroke-width="0.9"/>
<polygon points="558.0,263.4 564.7,264.8 581.7,250.5 575.0,249.1" fill="#f7bca1" stroke="#f7bca1" stroke-width="0.6"/>
<polygon points="564.7,264.8 571.5,266.3 588.5,251.9 581.7,250.5" fill="#f7b99e" stroke="#f7b99e" stroke-width="0.6"/>
<polygon points="571.5,266.3 578.2,267.7 595.2,253.3 588.5,251.9" fill="#f7b89c" stroke="#f7b89c" stroke-width="0.6"/>
<polygon points="558.0,263.4 578.2,267.7 595.2,253.3 575.0,249.1" fill="none" stroke="#fff" stroke-width="0.9"/>
<polygon points="578.2,267.7 585.0,269.2 602.0,254.7 595.2,253.3" fill="#f7b79b" stroke="#f7b79b" stroke-width="0.6"/>
<polygon points="585.0,269.2 591.7,270.7 608.7,256.2 602.0,254.7" fill="#f7b599" stroke="#f7b599" stroke-width="0.6"/>
<polygon points="591.7,270.7 598.5,272.1 615.5,257.6 608.7,256.2" fill="#f7b497" stroke="#f7b497" stroke-width="0.6"/>
<polygon points="578.2,267.7 598.5,272.1 615.5,257.6 595.2,253.3" fill="none" stroke="#fff" stroke-width="0.9"/>
<polygon points="196.8,239.1 217.0,246.3 234.0,235.8 213.8,228.7" fill="#84a7fc" stroke="#84a7fc" stroke-width="0.6"/>
<polygon points="196.8,239.1 217.0,246.3 234.0,235.8 213.8,228.7" fill="none" stroke="#fff" stroke-width="0.9"/>
<polygon points="217.0,244.6 223.8,242.8 240.8,231.9 234.0,233.9" fill="#96b7ff" stroke="#96b7ff" stroke-width="0.6"/>
<polygon points="223.8,242.8 230.5,241.0 247.5,229.9 240.8,231.9" fill="#9dbdff" stroke="#9dbdff" stroke-width="0.6"/>
<polygon points="230.5,241.0 237.3,239.2 254.3,227.9 247.5,229.9" fill="#a2c1ff" stroke="#a2c1ff" stroke-width="0.6"/>
<polygon points="217.0,244.6 237.3,239.2 254.3,227.9 234.0,233.9" fill="none" stroke="#fff" stroke-width="0.9"/>
<polygon points="237.3,239.2 244.0,238.5 261.0,227.1 254.3,227.9" fill="#a7c5fe" stroke="#a7c5fe" stroke-width="0.6"/>
<polygon points="244.0,238.5 250.8,237.9 267.8,226.3 261.0,227.1" fill="#adc9fd" stroke="#adc9fd" stroke-width="0.6"/>
<polygon points="250.8,237.9 257.5,237.3 274.5,225.5 267.8,226.3" fill="#b1cbfc" stroke="#b1cbfc" stroke-width="0.6"/>
<polygon points="237.3,239.2 257.5,237.3 274.5,225.5 254.3,227.9" fill="none" stroke="#fff" stroke-width="0.9"/>
<polygon points="257.5,237.3 264.3,237.2 281.3,225.4 274.5,225.5" fill="#b5cdfa" stroke="#b5cdfa" stroke-width="0.6"/>
<polygon points="264.3,237.2 271.0,237.2 288.0,225.2 281.3,225.4" fill="#b9d0f9" stroke="#b9d0f9" stroke-width="0.6"/>
<polygon points="271.0,237.2 277.8,237.1 294.8,225.0 288.0,225.2" fill="#bcd2f7" stroke="#bcd2f7" stroke-width="0.6"/>
<polygon points="257.5,237.3 277.8,237.1 294.8,225.0 274.5,225.5" fill="none" stroke="#fff" stroke-width="0.9"/>
<polygon points="277.8,237.1 284.5,237.4 301.5,225.2 294.8,225.0" fill="#bfd3f6" stroke="#bfd3f6" stroke-width="0.6"/>
<polygon points="284.5,237.4 291.3,237.7 308.3,225.4 301.5,225.2" fill="#c3d5f4" stroke="#c3d5f4" stroke-width="0.6"/>
<polygon points="291.3,237.7 298.0,238.0 315.0,225.6 308.3,225.4" fill="#c5d6f2" stroke="#c5d6f2" stroke-width="0.6"/>
<polygon points="277.8,237.1 298.0,238.0 315.0,225.6 294.8,225.0" fill="none" stroke="#fff" stroke-width="0.9"/>
<polygon points="298.0,238.0 304.7,238.6 321.8,226.0 315.0,225.6" fill="#c7d7f0" stroke="#c7d7f0" stroke-width="0.6"/>
<polygon points="304.7,238.6 311.5,239.1 328.5,226.5 321.8,226.0" fill="#cbd8ee" stroke="#cbd8ee" stroke-width="0.6"/>
<polygon points="311.5,239.1 318.2,239.6 335.3,226.9 328.5,226.5" fill="#cdd9ec" stroke="#cdd9ec" stroke-width="0.6"/>
<polygon points="298.0,238.0 318.2,239.6 335.3,226.9 315.0,225.6" fill="none" stroke="#fff" stroke-width="0.9"/>
<polygon points="318.2,239.6 325.0,240.4 342.0,227.6 335.3,226.9" fill="#cfdaea" stroke="#cfdaea" stroke-width="0.6"/>
<polygon points="325.0,240.4 331.7,241.1 348.8,228.2 342.0,227.6" fill="#d2dbe8" stroke="#d2dbe8" stroke-width="0.6"/>
<polygon points="331.7,241.1 338.5,241.8 355.5,228.8 348.8,228.2" fill="#d4dbe6" stroke="#d4dbe6" stroke-width="0.6"/>
<polygon points="318.2,239.6 338.5,241.8 355.5,228.8 335.3,226.9" fill="none" stroke="#fff" stroke-width="0.9"/>
<polygon points="338.5,241.8 345.2,242.7 362.3,229.6 355.5,228.8" fill="#d5dbe5" stroke="#d5dbe5" stroke-width="0.6"/>
<polygon points="345.2,242.7 352.0,243.5 369.0,230.4 362.3,229.6" fill="#d7dce3" stroke="#d7dce3" stroke-width="0.6"/>
<polygon points="352.0,243.5 358.7,244.4 375.8,231.2 369.0,230.4" fill="#d9dce1" stroke="#d9dce1" stroke-width="0.6"/>
<polygon points="338.5,241.8 358.7,244.4 375.8,231.2 355.5,228.8" fill="none" stroke="#fff" stroke-width="0.9"/>
<polygon points="358.7,244.4 365.5,245.4 382.5,232.1 375.8,231.2" fill="#dbdcde" stroke="#dbdcde" stroke-width="0.6"/>
<polygon points="365.5,245.4 372.2,246.4 389.3,233.0 382.5,232.1" fill="#dcdddd" stroke="#dcdddd" stroke-width="0.6"/>
<polygon points="372.2,246.4 379.0,247.3 396.0,233.9 389.3,233.0" fill="#dedcdb" stroke="#dedcdb" stroke-width="0.6"/>
<polygon points="358.7,244.4 379.0,247.3 396.0,233.9 375.8,231.2" fill="none" stroke="#fff" stroke-width="0.9"/>
<polygon points="379.0,247.3 385.7,248.4 402.7,234.9 396.0,233.9" fill="#dfdbd9" stroke="#dfdbd9" stroke-width="0.6"/>
<polygon points="385.7,248.4 392.5,249.5 409.5,235.9 402.7,234.9" fill="#e1dad6" stroke="#e1dad6" stroke-width="0.6"/>
<polygon points="392.5,249.5 399.2,250.6 416.2,236.9 409.5,235.9" fill="#e2dad5" stroke="#e2dad5" stroke-width="0.6"/>
<polygon points="379.0,247.3 399.2,250.6 416.2,236.9 396.0,233.9" fill="none" stroke="#fff" stroke-width="0.9"/>
<polygon points="399.2,250.6 406.0,251.7 423.0,238.0 416.2,236.9" fill="#e4d9d2" stroke="#e4d9d2" stroke-width="0.6"/>
<polygon points="406.0,251.7 412.7,252.9 429.7,239.1 423.0,238.0" fill="#e5d8d1" stroke="#e5d8d1" stroke-width="0.6"/>
<polygon points="412.7,252.9 419.5,254.0 436.5,240.2 429.7,239.1" fill="#e7d7ce" stroke="#e7d7ce" stroke-width="0.6"/>
<polygon points="399.2,250.6 419.5,254.0 436.5,240.2 416.2,236.9" fill="none" stroke="#fff" stroke-width="0.9"/>
<polygon points="419.5,254.0 426.2,255.2 443.2,241.4 436.5,240.2" fill="#e8d6cc" stroke="#e8d6cc" stroke-width="0.6"/>
<polygon points="426.2,255.2 433.0,256.4 450.0,242.5 443.2,241.4" fill="#e9d5cb" stroke="#e9d5cb" stroke-width="0.6"/>
<polygon points="433.0,256.4 439.7,257.7 456.7,243.7 450.0,242.5" fill="#ead4c8" stroke="#ead4c8" stroke-width="0.6"/>
<polygon points="419.5,254.0 439.7,257.7 456.7,243.7 436.5,240.2" fill="none" stroke="#fff" stroke-width="0.9"/>
<polygon points="439.7,257.7 446.5,258.9 463.5,244.9 456.7,243.7" fill="#ebd3c6" stroke="#ebd3c6" stroke-width="0.6"/>
<polygon points="446.5,258.9 453.2,260.2 470.2,246.1 463.5,244.9" fill="#ecd3c5" stroke="#ecd3c5" stroke-width="0.6"/>
<polygon points="453.2,260.2 460.0,261.5 477.0,247.3 470.2,246.1" fill="#edd1c2" stroke="#edd1c2" stroke-width="0.6"/>
<polygon points="439.7,257.7 460.0,261.5 477.0,247.3 456.7,243.7" fill="none" stroke="#fff" stroke-width="0.9"/>
<polygon points="460.0,261.5 466.7,262.8 483.7,248.6 477.0,247.3" fill="#eed0c0" stroke="#eed0c0" stroke-width="0.6"/>
<polygon points="466.7,262.8 473.5,264.1 490.5,249.9 483.7,248.6" fill="#efcfbf" stroke="#efcfbf" stroke-width="0.6"/>
<polygon points="473.5,264.1 480.2,265.5 497.2,251.1 490.5,249.9" fill="#efcebd" stroke="#efcebd" stroke-width="0.6"/>
<polygon points="460.0,261.5 480.2,265.5 497.2,251.1 477.0,247.3" fill="none" stroke="#fff" stroke-width="0.9"/>
<polygon points="480.2,265.5 487.0,266.8 504.0,252.5 497.2,251.1" fill="#f0cdbb" stroke="#f0cdbb" stroke-width="0.6"/>
<polygon points="487.0,266.8 493.7,268.2 510.7,253.8 504.0,252.5" fill="#f1ccb8" stroke="#f1ccb8" stroke-width="0.6"/>
<polygon points="493.7,268.2 500.5,269.6 517.5,255.1 510.7,253.8" fill="#f2cbb7" stroke="#f2cbb7" stroke-width="0.6"/>
<polygon points="480.2,265.5 500.5,269.6 517.5,255.1 497.2,251.1" fill="none" stroke="#fff" stroke-width="0.9"/>
<polygon points="500.5,269.6 507.2,271.0 524.2,256.5 517.5,255.1" fill="#f2cab5" stroke="#f2cab5" stroke-width="0.6"/>
<polygon points="507.2,271.0 514.0,272.4 531.0,257.8 524.2,256.5" fill="#f2c9b4" stroke="#f2c9b4" stroke-width="0.6"/>
<polygon points="514.0,272.4 520.7,273.8 537.7,259.2 531.0,257.8" fill="#f3c8b2" stroke="#f3c8b2" stroke-width="0.6"/>
<polygon points="500.5,269.6 520.7,273.8 537.7,259.2 517.5,255.1" fill="none" stroke="#fff" stroke-width="0.9"/>
<polygon points="520.7,273.8 527.5,275.3 544.5,260.6 537.7,259.2" fill="#f3c7b1" stroke="#f3c7b1" stroke-width="0.6"/>
<polygon points="527.5,275.3 534.2,276.7 551.2,262.0 544.5,260.6" fill="#f4c6af" stroke="#f4c6af" stroke-width="0.6"/>
<polygon points="534.2,276.7 541.0,278.2 558.0,263.4 551.2,262.0" fill="#f4c5ad" stroke="#f4c5ad" stroke-width="0.6"/>
<polygon points="520.7,273.8 541.0,278.2 558.0,263.4 537.7,259.2" fill="none" stroke="#fff" stroke-width="0.9"/>
<polygon points="541.0,278.2 547.7,279.6 564.7,264.8 558.0,263.4" fill="#f5c4ac" stroke="#f5c4ac" stroke-width="0.6"/>
<polygon points="547.7,279.6 554.5,281.1 571.5,266.3 564.7,264.8" fill="#f5c2aa" stroke="#f5c2aa" stroke-width="0.6"/>
<polygon points="554.5,281.1 561.2,282.6 578.2,267.7 571.5,266.3" fill="#f5c1a9" stroke="#f5c1a9" stroke-width="0.6"/>
<polygon points="541.0,278.2 561.2,282.6 578.2,267.7 558.0,263.4" fill="none" stroke="#fff" stroke-width="0.9"/>
<polygon points="561.2,282.6 568.0,284.1 585.0,269.2 578.2,267.7" fill="#f5c0a7" stroke="#f5c0a7" stroke-width="0.6"/>
<polygon points="568.0,284.1 574.7,285.6 591.7,270.7 585.0,269.2" fill="#f6bfa6" stroke="#f6bfa6" stroke-width="0.6"/>
<polygon points="574.7,285.6 581.5,287.2 598.5,272.1 591.7,270.7" fill="#f6bea4" stroke="#f6bea4" stroke-width="0.6"/>
<polygon points="561.2,282.6 581.5,287.2 598.5,272.1 578.2,267.7" fill="none" stroke="#fff" stroke-width="0.9"/>
<polygon points="179.8,249.8 200.0,257.0 217.0,246.3 196.8,239.1" fill="#82a6fb" stroke="#82a6fb" stroke-width="0.6"/>
<polygon points="179.8,249.8 200.0,257.0 217.0,246.3 196.8,239.1" fill="none" stroke="#fff" stroke-width="0.9"/>
<polygon points="200.0,255.4 206.7,253.8 223.8,242.8 217.0,244.6" fill="#92b4fe" stroke="#92b4fe" stroke-width="0.6"/>
<polygon points="206.7,253.8 213.5,252.3 230.5,241.0 223.8,242.8" fill="#98b9ff" stroke="#98b9ff" stroke-width="0.6"/>
<polygon points="213.5,252.3 220.2,250.7 237.3,239.2 230.5,241.0" fill="#9ebeff" stroke="#9ebeff" stroke-width="0.6"/>
<polygon points="200.0,255.4 220.2,250.7 237.3,239.2 217.0,244.6" fill="none" stroke="#fff" stroke-width="0.9"/>
<polygon points="220.2,250.7 227.0,250.2 244.0,238.5 237.3,239.2" fill="#a3c2fe" stroke="#a3c2fe" stroke-width="0.6"/>
<polygon points="227.0,250.2 233.7,249.8 250.8,237.9 244.0,238.5" fill="#a7c5fe" stroke="#a7c5fe" stroke-width="0.6"/>
<polygon points="233.7,249.8 240.5,249.3 257.5,237.3 250.8,237.9" fill="#abc8fd" stroke="#abc8fd" stroke-width="0.6"/>
<polygon points="220.2,250.7 240.5,249.3 257.5,237.3 237.3,239.2" fill="none" stroke="#fff" stroke-width="0.9"/>
<polygon points="240.5,249.3 247.2,249.4 264.3,237.2 257.5,237.3" fill="#afcafc" stroke="#afcafc" stroke-width="0.6"/>
<polygon points="247.2,249.4 254.0,249.5 271.0,237.2 264.3,237.2" fill="#b3cdfb" stroke="#b3cdfb" stroke-width="0.6"/>
<polygon points="254.0,249.5 260.7,249.6 277.8,237.1 271.0,237.2" fill="#b7cff9" stroke="#b7cff9" stroke-width="0.6"/>
<polygon points="240.5,249.3 260.7,249.6 277.8,237.1 257.5,237.3" fill="none" stroke="#fff" stroke-width="0.9"/>
<polygon points="260.7,249.6 267.5,250.0 284.5,237.4 277.8,237.1" fill="#bad0f8" stroke="#bad0f8" stroke-width="0.6"/>
<polygon points="267.5,250.0 274.2,250.4 291.3,237.7 284.5,237.4" fill="#bcd2f7" stroke="#bcd2f7" stroke-width="0.6"/>
<polygon points="274.2,250.4 281.0,250.8 298.0,238.0 291.3,237.7" fill="#bfd3f6" stroke="#bfd3f6" stroke-width="0.6"/>
<polygon points="260.7,249.6 281.0,250.8 298.0,238.0 277.8,237.1" fill="none" stroke="#fff" stroke-width="0.9"/>
<polygon points="281.0,250.8 287.7,251.5 304.7,238.6 298.0,238.0" fill="#c3d5f4" stroke="#c3d5f4" stroke-width="0.6"/>
<polygon points="287.7,251.5 294.5,252.1 311.5,239.1 304.7,238.6" fill="#c5d6f2" stroke="#c5d6f2" stroke-width="0.6"/>
<polygon points="294.5,252.1 301.2,252.8 318.2,239.6 311.5,239.1" fill="#c7d7f0" stroke="#c7d7f0" stroke-width="0.6"/>
<polygon points="281.0,250.8 301.2,252.8 318.2,239.6 298.0,238.0" fill="none" stroke="#fff" stroke-width="0.9"/>
<polygon points="301.2,252.8 308.0,253.6 325.0,240.4 318.2,239.6" fill="#cad8ef" stroke="#cad8ef" stroke-width="0.6"/>
<polygon points="308.0,253.6 314.7,254.4 331.7,241.1 325.0,240.4" fill="#cbd8ee" stroke="#cbd8ee" stroke-width="0.6"/>
<polygon points="314.7,254.4 321.5,255.2 338.5,241.8 331.7,241.1" fill="#cdd9ec" stroke="#cdd9ec" stroke-width="0.6"/>
<polygon points="301.2,252.8 321.5,255.2 338.5,241.8 318.2,239.6" fill="none" stroke="#fff" stroke-width="0.9"/>
<polygon points="321.5,255.2 328.2,256.2 345.2,242.7 338.5,241.8" fill="#cfdaea" stroke="#cfdaea" stroke-width="0.6"/>
<polygon points="328.2,256.2 335.0,257.1 352.0,243.5 345.2,242.7" fill="#d2dbe8" stroke="#d2dbe8" stroke-width="0.6"/>
<polygon points="335.0,257.1 341.7,258.1 358.7,244.4 352.0,243.5" fill="#d3dbe7" stroke="#d3dbe7" stroke-width="0.6"/>
<polygon points="321.5,255.2 341.7,258.1 358.7,244.4 338.5,241.8" fill="none" stroke="#fff" stroke-width="0.9"/>
<polygon points="341.7,258.1 348.5,259.1 365.5,245.4 358.7,244.4" fill="#d5dbe5" stroke="#d5dbe5" stroke-width="0.6"/>
<polygon points="348.5,259.1 355.2,260.2 372.2,246.4 365.5,245.4" fill="#d6dce4" stroke="#d6dce4" stroke-width="0.6"/>
<polygon points="355.2,260.2 362.0,261.2 379.0,247.3 372.2,246.4" fill="#d8dce2" stroke="#d8dce2" stroke-width="0.6"/>
<polygon points="341.7,258.1 362.0,261.2 379.0,247.3 358.7,244.4" fill="none" stroke="#fff" stroke-width="0.9"/>
<polygon points="362.0,261.2 368.7,262.4 385.7,248.4 379.0,247.3" fill="#d9dce1" stroke="#d9dce1" stroke-width="0.6"/>
<polygon points="368.7,262.4 375.5,263.5 392.5,249.5 385.7,248.4" fill="#dbdcde" stroke="#dbdcde" stroke-width="0.6"/>
<polygon points="375.5,263.5 382.2,264.7 399.2,250.6 392.5,249.5" fill="#dcdddd" stroke="#dcdddd" stroke-width="0.6"/>
<polygon points="362.0,261.2 382.2,264.7 399.2,250.6 379.0,247.3" fill="none" stroke="#fff" stroke-width="0.9"/>
<polygon points="382.2,264.7 389.0,265.9 406.0,251.7 399.2,250.6" fill="#dedcdb" stroke="#dedcdb" stroke-width="0.6"/>
<polygon points="389.0,265.9 395.7,267.1 412.7,252.9 406.0,251.7" fill="#dfdbd9" stroke="#dfdbd9" stroke-width="0.6"/>
<polygon points="395.7,267.1 402.5,268.3 419.5,254.0 412.7,252.9" fill="#e0dbd8" stroke="#e0dbd8" stroke-width="0.6"/>
<polygon points="382.2,264.7 402.5,268.3 419.5,254.0 399.2,250.6" fill="none" stroke="#fff" stroke-width="0.9"/>
<polygon points="402.5,268.3 409.2,269.6 426.2,255.2 419.5,254.0" fill="#e2dad5" stroke="#e2dad5" stroke-width="0.6"/>
<polygon points="409.2,269.6 416.0,270.9 433.0,256.4 426.2,255.2" fill="#e3d9d3" stroke="#e3d9d3" stroke-width="0.6"/>
<polygon points="416.0,270.9 422.7,272.2 439.7,257.7 433.0,256.4" fill="#e4d9d2" stroke="#e4d9d2" stroke-width="0.6"/>
<polygon points="402.5,268.3 422.7,272.2 439.7,257.7 419.5,254.0" fill="none" stroke="#fff" stroke-width="0.9"/>
<polygon points="422.7,272.2 429.5,273.5 446.5,258.9 439.7,257.7" fill="#e5d8d1" stroke="#e5d8d1" stroke-width="0.6"/>
<polygon points="429.5,273.5 436.2,274.8 453.2,260.2 446.5,258.9" fill="#e6d7cf" stroke="#e6d7cf" stroke-width="0.6"/>
<polygon points="436.2,274.8 443.0,276.2 460.0,261.5 453.2,260.2" fill="#e8d6cc" stroke="#e8d6cc" stroke-width="0.6"/>
<polygon points="422.7,272.2 443.0,276.2 460.0,261.5 439.7,257.7" fill="none" stroke="#fff" stroke-width="0.9"/>
<polygon points="443.0,276.2 449.7,277.6 466.7,262.8 460.0,261.5" fill="#e9d5cb" stroke="#e9d5cb" stroke-width="0.6"/>
<polygon points="449.7,277.6 456.5,279.0 473.5,264.1 466.7,262.8" fill="#ead5c9" stroke="#ead5c9" stroke-width="0.6"/>
<polygon points="456.5,279.0 463.2,280.3 480.2,265.5 473.5,264.1" fill="#ead4c8" stroke="#ead4c8" stroke-width="0.6"/>
<polygon points="443.0,276.2 463.2,280.3 480.2,265.5 460.0,261.5" fill="none" stroke="#fff" stroke-width="0.9"/>
<polygon points="463.2,280.3 470.0,281.8 487.0,266.8 480.2,265.5" fill="#ebd3c6" stroke="#ebd3c6" stroke-width="0.6"/>
<polygon points="470.0,281.8 476.7,283.2 493.7,268.2 487.0,266.8" fill="#ecd3c5" stroke="#ecd3c5" stroke-width="0.6"/>
<polygon points="476.7,283.2 483.5,284.6 500.5,269.6 493.7,268.2" fill="#edd2c3" stroke="#edd2c3" stroke-width="0.6"/>
<polygon points="463.2,280.3 483.5,284.6 500.5,269.6 480.2,265.5" fill="none" stroke="#fff" stroke-width="0.9"/>
<polygon points="483.5,284.6 490.2,286.1 507.2,271.0 500.5,269.6" fill="#eed0c0" stroke="#eed0c0" stroke-width="0.6"/>
<polygon points="490.2,286.1 497.0,287.6 514.0,272.4 507.2,271.0" fill="#efcfbf" stroke="#efcfbf" stroke-width="0.6"/>
<polygon points="497.0,287.6 503.7,289.0 520.7,273.8 514.0,272.4" fill="#efcebd" stroke="#efcebd" stroke-width="0.6"/>
<polygon points="483.5,284.6 503.7,289.0 520.7,273.8 500.5,269.6" fill="none" stroke="#fff" stroke-width="0.9"/>
<polygon points="503.7,289.0 510.5,290.5 527.5,275.3 520.7,273.8" fill="#f0cdbb" stroke="#f0cdbb" stroke-width="0.6"/>
<polygon points="510.5,290.5 517.2,292.0 534.2,276.7 527.5,275.3" fill="#f1cdba" stroke="#f1cdba" stroke-width="0.6"/>
<polygon points="517.2,292.0 524.0,293.5 541.0,278.2 534.2,276.7" fill="#f1ccb8" stroke="#f1ccb8" stroke-width="0.6"/>
<polygon points="503.7,289.0 524.0,293.5 541.0,278.2 520.7,273.8" fill="none" stroke="#fff" stroke-width="0.9"/>
<polygon points="524.0,293.5 530.7,295.1 547.7,279.6 541.0,278.2" fill="#f2cbb7" stroke="#f2cbb7" stroke-width="0.6"/>
<polygon points="530.7,295.1 537.5,296.6 554.5,281.1 547.7,279.6" fill="#f2cab5" stroke="#f2cab5" stroke-width="0.6"/>
<polygon points="537.5,296.6 544.2,298.1 561.2,282.6 554.5,281.1" fill="#f2c9b4" stroke="#f2c9b4" stroke-width="0.6"/>
<polygon points="524.0,293.5 544.2,298.1 561.2,282.6 541.0,278.2" fill="none" stroke="#fff" stroke-width="0.9"/>
<polygon points="544.2,298.1 551.0,299.7 568.0,284.1 561.2,282.6" fill="#f3c8b2" stroke="#f3c8b2" stroke-width="0.6"/>
<polygon points="551.0,299.7 557.7,301.2 574.7,285.6 568.0,284.1" fill="#f3c7b1" stroke="#f3c7b1" stroke-width="0.6"/>
<polygon points="557.7,301.2 564.5,302.8 581.5,287.2 574.7,285.6" fill="#f4c6af" stroke="#f4c6af" stroke-width="0.6"/>
<polygon points="544.2,298.1 564.5,302.8 581.5,287.2 561.2,282.6" fill="none" stroke="#fff" stroke-width="0.9"/>
<polygon points="162.7,260.8 183.0,267.9 200.0,257.0 179.8,249.8" fill="#80a3fa" stroke="#80a3fa" stroke-width="0.6"/>
<polygon points="162.7,260.8 183.0,267.9 200.0,257.0 179.8,249.8" fill="none" stroke="#fff" stroke-width="0.9"/>
<polygon points="183.0,266.5 189.7,265.2 206.7,253.8 200.0,255.4" fill="#8db0fe" stroke="#8db0fe" stroke-width="0.6"/>
<polygon points="189.7,265.2 196.5,263.9 213.5,252.3 206.7,253.8" fill="#93b5fe" stroke="#93b5fe" stroke-width="0.6"/>
<polygon points="196.5,263.9 203.2,262.6 220.2,250.7 213.5,252.3" fill="#98b9ff" stroke="#98b9ff" stroke-width="0.6"/>
<polygon points="183.0,266.5 203.2,262.6 220.2,250.7 200.0,255.4" fill="none" stroke="#fff" stroke-width="0.9"/>
<polygon points="203.2,262.6 210.0,262.3 227.0,250.2 220.2,250.7" fill="#9ebeff" stroke="#9ebeff" stroke-width="0.6"/>
<polygon points="210.0,262.3 216.7,262.1 233.7,249.8 227.0,250.2" fill="#a2c1ff" stroke="#a2c1ff" stroke-width="0.6"/>
<polygon points="216.7,262.1 223.5,261.8 240.5,249.3 233.7,249.8" fill="#a6c4fe" stroke="#a6c4fe" stroke-width="0.6"/>
<polygon points="203.2,262.6 223.5,261.8 240.5,249.3 220.2,250.7" fill="none" stroke="#fff" stroke-width="0.9"/>
<polygon points="223.5,261.8 230.2,262.0 247.2,249.4 240.5,249.3" fill="#aac7fd" stroke="#aac7fd" stroke-width="0.6"/>
<polygon points="230.2,262.0 237.0,262.2 254.0,249.5 247.2,249.4" fill="#adc9fd" stroke="#adc9fd" stroke-width="0.6"/>
<polygon points="237.0,262.2 243.7,262.5 260.7,249.6 254.0,249.5" fill="#b1cbfc" stroke="#b1cbfc" stroke-width="0.6"/>
<polygon points="223.5,261.8 243.7,262.5 260.7,249.6 240.5,249.3" fill="none" stroke="#fff" stroke-width="0.9"/>
<polygon points="243.7,262.5 250.5,263.0 267.5,250.0 260.7,249.6" fill="#b3cdfb" stroke="#b3cdfb" stroke-width="0.6"/>
<polygon points="250.5,263.0 257.2,263.6 274.2,250.4 267.5,250.0" fill="#b6cefa" stroke="#b6cefa" stroke-width="0.6"/>
<polygon points="257.2,263.6 264.0,264.1 281.0,250.8 274.2,250.4" fill="#b9d0f9" stroke="#b9d0f9" stroke-width="0.6"/>
<polygon points="243.7,262.5 264.0,264.1 281.0,250.8 260.7,249.6" fill="none" stroke="#fff" stroke-width="0.9"/>
<polygon points="264.0,264.1 270.7,264.9 287.7,251.5 281.0,250.8" fill="#bbd1f8" stroke="#bbd1f8" stroke-width="0.6"/>
<polygon points="270.7,264.9 277.5,265.6 294.5,252.1 287.7,251.5" fill="#bed2f6" stroke="#bed2f6" stroke-width="0.6"/>
<polygon points="277.5,265.6 284.2,266.4 301.2,252.8 294.5,252.1" fill="#c0d4f5" stroke="#c0d4f5" stroke-width="0.6"/>
<polygon points="264.0,264.1 284.2,266.4 301.2,252.8 281.0,250.8" fill="none" stroke="#fff" stroke-width="0.9"/>
<polygon points="284.2,266.4 291.0,267.3 308.0,253.6 301.2,252.8" fill="#c3d5f4" stroke="#c3d5f4" stroke-width="0.6"/>
<polygon points="291.0,267.3 297.7,268.2 314.7,254.4 308.0,253.6" fill="#c4d5f3" stroke="#c4d5f3" stroke-width="0.6"/>
<polygon points="297.7,268.2 304.5,269.2 321.5,255.2 314.7,254.4" fill="#c6d6f1" stroke="#c6d6f1" stroke-width="0.6"/>
<polygon points="284.2,266.4 304.5,269.2 321.5,255.2 301.2,252.8" fill="none" stroke="#fff" stroke-width="0.9"/>
<polygon points="304.5,269.2 311.2,270.2 328.2,256.2 321.5,255.2" fill="#c9d7f0" stroke="#c9d7f0" stroke-width="0.6"/>
<polygon points="311.2,270.2 318.0,271.3 335.0,257.1 328.2,256.2" fill="#cad8ef" stroke="#cad8ef" stroke-width="0.6"/>
<polygon points="318.0,271.3 324.7,272.3 341.7,258.1 335.0,257.1" fill="#ccd9ed" stroke="#ccd9ed" stroke-width="0.6"/>
<polygon points="304.5,269.2 324.7,272.3 341.7,258.1 321.5,255.2" fill="none" stroke="#fff" stroke-width="0.9"/>
<polygon points="324.7,272.3 331.5,273.4 348.5,259.1 341.7,258.1" fill="#cdd9ec" stroke="#cdd9ec" stroke-width="0.6"/>
<polygon points="331.5,273.4 338.2,274.6 355.2,260.2 348.5,259.1" fill="#cfdaea" stroke="#cfdaea" stroke-width="0.6"/>
<polygon points="338.2,274.6 345.0,275.7 362.0,261.2 355.2,260.2" fill="#d1dae9" stroke="#d1dae9" stroke-width="0.6"/>
<polygon points="324.7,272.3 345.0,275.7 362.0,261.2 341.7,258.1" fill="none" stroke="#fff" stroke-width="0.9"/>
<polygon points="345.0,275.7 351.7,277.0 368.7,262.4 362.0,261.2" fill="#d3dbe7" stroke="#d3dbe7" stroke-width="0.6"/>
<polygon points="351.7,277.0 358.5,278.2 375.5,263.5 368.7,262.4" fill="#d4dbe6" stroke="#d4dbe6" stroke-width="0.6"/>
<polygon points="358.5,278.2 365.2,279.4 382.2,264.7 375.5,263.5" fill="#d5dbe5" stroke="#d5dbe5" stroke-width="0.6"/>
<polygon points="345.0,275.7 365.2,279.4 382.2,264.7 362.0,261.2" fill="none" stroke="#fff" stroke-width="0.9"/>
<polygon points="365.2,279.4 372.0,280.7 389.0,265.9 382.2,264.7" fill="#d7dce3" stroke="#d7dce3" stroke-width="0.6"/>
<polygon points="372.0,280.7 378.7,282.0 395.7,267.1 389.0,265.9" fill="#d8dce2" stroke="#d8dce2" stroke-width="0.6"/>
<polygon points="378.7,282.0 385.5,283.3 402.5,268.3 395.7,267.1" fill="#d9dce1" stroke="#d9dce1" stroke-width="0.6"/>
<polygon points="365.2,279.4 385.5,283.3 402.5,268.3 382.2,264.7" fill="none" stroke="#fff" stroke-width="0.9"/>
<polygon points="385.5,283.3 392.2,284.6 409.2,269.6 402.5,268.3" fill="#dadce0" stroke="#dadce0" stroke-width="0.6"/>
<polygon points="392.2,284.6 399.0,286.0 416.0,270.9 409.2,269.6" fill="#dbdcde" stroke="#dbdcde" stroke-width="0.6"/>
<polygon points="399.0,286.0 405.7,287.4 422.7,272.2 416.0,270.9" fill="#dddcdc" stroke="#dddcdc" stroke-width="0.6"/>
<polygon points="385.5,283.3 405.7,287.4 422.7,272.2 402.5,268.3" fill="none" stroke="#fff" stroke-width="0.9"/>
<polygon points="405.7,287.4 412.5,288.8 429.5,273.5 422.7,272.2" fill="#dedcdb" stroke="#dedcdb" stroke-width="0.6"/>
<polygon points="412.5,288.8 419.2,290.2 436.2,274.8 429.5,273.5" fill="#dfdbd9" stroke="#dfdbd9" stroke-width="0.6"/>
<polygon points="419.2,290.2 426.0,291.6 443.0,276.2 436.2,274.8" fill="#e0dbd8" stroke="#e0dbd8" stroke-width="0.6"/>
<polygon points="405.7,287.4 426.0,291.6 443.0,276.2 422.7,272.2" fill="none" stroke="#fff" stroke-width="0.9"/>
<polygon points="426.0,291.6 432.7,293.0 449.7,277.6 443.0,276.2" fill="#e1dad6" stroke="#e1dad6" stroke-width="0.6"/>
<polygon points="432.7,293.0 439.5,294.5 456.5,279.0 449.7,277.6" fill="#e2dad5" stroke="#e2dad5" stroke-width="0.6"/>
<polygon points="439.5,294.5 446.2,295.9 463.2,280.3 456.5,279.0" fill="#e3d9d3" stroke="#e3d9d3" stroke-width="0.6"/>
<polygon points="426.0,291.6 446.2,295.9 463.2,280.3 443.0,276.2" fill="none" stroke="#fff" stroke-width="0.9"/>
<polygon points="446.2,295.9 453.0,297.4 470.0,281.8 463.2,280.3" fill="#e4d9d2" stroke="#e4d9d2" stroke-width="0.6"/>
<polygon points="453.0,297.4 459.7,298.9 476.7,283.2 470.0,281.8" fill="#e5d8d1" stroke="#e5d8d1" stroke-width="0.6"/>
<polygon points="459.7,298.9 466.5,300.4 483.5,284.6 476.7,283.2" fill="#e6d7cf" stroke="#e6d7cf" stroke-width="0.6"/>
<polygon points="446.2,295.9 466.5,300.4 483.5,284.6 463.2,280.3" fill="none" stroke="#fff" stroke-width="0.9"/>
<polygon points="466.5,300.4 473.2,301.9 490.2,286.1 483.5,284.6" fill="#e7d7ce" stroke="#e7d7ce" stroke-width="0.6"/>
<polygon points="473.2,301.9 480.0,303.5 497.0,287.6 490.2,286.1" fill="#e8d6cc" stroke="#e8d6cc" stroke-width="0.6"/>
<polygon points="480.0,303.5 486.7,305.0 503.7,289.0 497.0,287.6" fill="#e9d5cb" stroke="#e9d5cb" stroke-width="0.6"/>
<polygon points="466.5,300.4 486.7,305.0 503.7,289.0 483.5,284.6" fill="none" stroke="#fff" stroke-width="0.9"/>
<polygon points="486.7,305.0 493.4,306.5 510.5,290.5 503.7,289.0" fill="#ead5c9" stroke="#ead5c9" stroke-width="0.6"/>
<polygon points="493.4,306.5 500.2,308.1 517.2,292.0 510.5,290.5" fill="#ead4c8" stroke="#ead4c8" stroke-width="0.6"/>
<polygon points="500.2,308.1 506.9,309.7 524.0,293.5 517.2,292.0" fill="#ebd3c6" stroke="#ebd3c6" stroke-width="0.6"/>
<polygon points="486.7,305.0 506.9,309.7 524.0,293.5 503.7,289.0" fill="none" stroke="#fff" stroke-width="0.9"/>
<polygon points="506.9,309.7 513.7,311.3 530.7,295.1 524.0,293.5" fill="#ecd3c5" stroke="#ecd3c5" stroke-width="0.6"/>
<polygon points="513.7,311.3 520.4,312.8 537.5,296.6 530.7,295.1" fill="#edd2c3" stroke="#edd2c3" stroke-width="0.6"/>
<polygon points="520.4,312.8 527.2,314.4 544.2,298.1 537.5,296.6" fill="#edd1c2" stroke="#edd1c2" stroke-width="0.6"/>
<polygon points="506.9,309.7 527.2,314.4 544.2,298.1 524.0,293.5" fill="none" stroke="#fff" stroke-width="0.9"/>
<polygon points="527.2,314.4 533.9,316.0 551.0,299.7 544.2,298.1" fill="#eed0c0" stroke="#eed0c0" stroke-width="0.6"/>
<polygon points="533.9,316.0 540.7,317.7 557.7,301.2 551.0,299.7" fill="#efcfbf" stroke="#efcfbf" stroke-width="0.6"/>
<polygon points="540.7,317.7 547.4,319.3 564.5,302.8 557.7,301.2" fill="#efcebd" stroke="#efcebd" stroke-width="0.6"/>
<polygon points="527.2,314.4 547.4,319.3 564.5,302.8 544.2,298.1" fill="none" stroke="#fff" stroke-width="0.9"/>
<polygon points="145.7,272.0 166.0,279.2 183.0,267.9 162.7,260.8" fill="#7da0f9" stroke="#7da0f9" stroke-width="0.6"/>
<polygon points="145.7,272.0 166.0,279.2 183.0,267.9 162.7,260.8" fill="none" stroke="#fff" stroke-width="0.9"/>
<polygon points="166.0,278.0 172.7,277.0 189.7,265.2 183.0,266.5" fill="#88abfd" stroke="#88abfd" stroke-width="0.6"/>
<polygon points="172.7,277.0 179.5,276.0 196.5,263.9 189.7,265.2" fill="#8fb1fe" stroke="#8fb1fe" stroke-width="0.6"/>
<polygon points="179.5,276.0 186.2,274.9 203.2,262.6 196.5,263.9" fill="#93b5fe" stroke="#93b5fe" stroke-width="0.6"/>
<polygon points="166.0,278.0 186.2,274.9 203.2,262.6 183.0,266.5" fill="none" stroke="#fff" stroke-width="0.9"/>
<polygon points="186.2,274.9 193.0,274.9 210.0,262.3 203.2,262.6" fill="#97b8ff" stroke="#97b8ff" stroke-width="0.6"/>
<polygon points="193.0,274.9 199.7,274.8 216.7,262.1 210.0,262.3" fill="#9bbcff" stroke="#9bbcff" stroke-width="0.6"/>
<polygon points="199.7,274.8 206.5,274.8 223.5,261.8 216.7,262.1" fill="#9fbfff" stroke="#9fbfff" stroke-width="0.6"/>
<polygon points="186.2,274.9 206.5,274.8 223.5,261.8 203.2,262.6" fill="none" stroke="#fff" stroke-width="0.9"/>
<polygon points="206.5,274.8 213.2,275.2 230.2,262.0 223.5,261.8" fill="#a3c2fe" stroke="#a3c2fe" stroke-width="0.6"/>
<polygon points="213.2,275.2 220.0,275.6 237.0,262.2 230.2,262.0" fill="#a6c4fe" stroke="#a6c4fe" stroke-width="0.6"/>
<polygon points="220.0,275.6 226.7,276.0 243.7,262.5 237.0,262.2" fill="#a9c6fd" stroke="#a9c6fd" stroke-width="0.6"/>
<polygon points="206.5,274.8 226.7,276.0 243.7,262.5 223.5,261.8" fill="none" stroke="#fff" stroke-width="0.9"/>
<polygon points="226.7,276.0 233.5,276.7 250.5,263.0 243.7,262.5" fill="#abc8fd" stroke="#abc8fd" stroke-width="0.6"/>
<polygon points="233.5,276.7 240.2,277.4 257.2,263.6 250.5,263.0" fill="#aec9fc" stroke="#aec9fc" stroke-width="0.6"/>
<polygon points="240.2,277.4 247.0,278.1 264.0,264.1 257.2,263.6" fill="#b1cbfc" stroke="#b1cbfc" stroke-width="0.6"/>
<polygon points="226.7,276.0 247.0,278.1 264.0,264.1 243.7,262.5" fill="none" stroke="#fff" stroke-width="0.9"/>
<polygon points="247.0,278.1 253.7,279.0 270.7,264.9 264.0,264.1" fill="#b3cdfb" stroke="#b3cdfb" stroke-width="0.6"/>
<polygon points="253.7,279.0 260.5,279.9 277.5,265.6 270.7,264.9" fill="#b6cefa" stroke="#b6cefa" stroke-width="0.6"/>
<polygon points="260.5,279.9 267.2,280.8 284.2,266.4 277.5,265.6" fill="#b9d0f9" stroke="#b9d0f9" stroke-width="0.6"/>
<polygon points="247.0,278.1 267.2,280.8 284.2,266.4 264.0,264.1" fill="none" stroke="#fff" stroke-width="0.9"/>
<polygon points="267.2,280.8 274.0,281.8 291.0,267.3 284.2,266.4" fill="#bad0f8" stroke="#bad0f8" stroke-width="0.6"/>
<polygon points="274.0,281.8 280.7,282.8 297.7,268.2 291.0,267.3" fill="#bcd2f7" stroke="#bcd2f7" stroke-width="0.6"/>
<polygon points="280.7,282.8 287.5,283.9 304.5,269.2 297.7,268.2" fill="#bed2f6" stroke="#bed2f6" stroke-width="0.6"/>
<polygon points="267.2,280.8 287.5,283.9 304.5,269.2 284.2,266.4" fill="none" stroke="#fff" stroke-width="0.9"/>
<polygon points="287.5,283.9 294.2,285.0 311.2,270.2 304.5,269.2" fill="#c0d4f5" stroke="#c0d4f5" stroke-width="0.6"/>
<polygon points="294.2,285.0 301.0,286.2 318.0,271.3 311.2,270.2" fill="#c1d4f4" stroke="#c1d4f4" stroke-width="0.6"/>
<polygon points="301.0,286.2 307.7,287.3 324.7,272.3 318.0,271.3" fill="#c4d5f3" stroke="#c4d5f3" stroke-width="0.6"/>
<polygon points="287.5,283.9 307.7,287.3 324.7,272.3 304.5,269.2" fill="none" stroke="#fff" stroke-width="0.9"/>
<polygon points="307.7,287.3 314.5,288.6 331.5,273.4 324.7,272.3" fill="#c5d6f2" stroke="#c5d6f2" stroke-width="0.6"/>
<polygon points="314.5,288.6 321.2,289.8 338.2,274.6 331.5,273.4" fill="#c6d6f1" stroke="#c6d6f1" stroke-width="0.6"/>
<polygon points="321.2,289.8 328.0,291.1 345.0,275.7 338.2,274.6" fill="#c9d7f0" stroke="#c9d7f0" stroke-width="0.6"/>
<polygon points="307.7,287.3 328.0,291.1 345.0,275.7 324.7,272.3" fill="none" stroke="#fff" stroke-width="0.9"/>
<polygon points="328.0,291.1 334.7,292.4 351.7,277.0 345.0,275.7" fill="#cad8ef" stroke="#cad8ef" stroke-width="0.6"/>
<polygon points="334.7,292.4 341.5,293.7 358.5,278.2 351.7,277.0" fill="#cbd8ee" stroke="#cbd8ee" stroke-width="0.6"/>
<polygon points="341.5,293.7 348.2,295.0 365.2,279.4 358.5,278.2" fill="#ccd9ed" stroke="#ccd9ed" stroke-width="0.6"/>
<polygon points="328.0,291.1 348.2,295.0 365.2,279.4 345.0,275.7" fill="none" stroke="#fff" stroke-width="0.9"/>
<polygon points="348.2,295.0 355.0,296.4 372.0,280.7 365.2,279.4" fill="#cedaeb" stroke="#cedaeb" stroke-width="0.6"/>
<polygon points="355.0,296.4 361.7,297.8 378.7,282.0 372.0,280.7" fill="#cfdaea" stroke="#cfdaea" stroke-width="0.6"/>
<polygon points="361.7,297.8 368.5,299.2 385.5,283.3 378.7,282.0" fill="#d1dae9" stroke="#d1dae9" stroke-width="0.6"/>
<polygon points="348.2,295.0 368.5,299.2 385.5,283.3 365.2,279.4" fill="none" stroke="#fff" stroke-width="0.9"/>
<polygon points="368.5,299.2 375.2,300.6 392.2,284.6 385.5,283.3" fill="#d2dbe8" stroke="#d2dbe8" stroke-width="0.6"/>
<polygon points="375.2,300.6 382.0,302.0 399.0,286.0 392.2,284.6" fill="#d3dbe7" stroke="#d3dbe7" stroke-width="0.6"/>
<polygon points="382.0,302.0 388.7,303.5 405.7,287.4 399.0,286.0" fill="#d4dbe6" stroke="#d4dbe6" stroke-width="0.6"/>
<polygon points="368.5,299.2 388.7,303.5 405.7,287.4 385.5,283.3" fill="none" stroke="#fff" stroke-width="0.9"/>
<polygon points="388.7,303.5 395.4,305.0 412.5,288.8 405.7,287.4" fill="#d5dbe5" stroke="#d5dbe5" stroke-width="0.6"/>
<polygon points="395.4,305.0 402.2,306.4 419.2,290.2 412.5,288.8" fill="#d6dce4" stroke="#d6dce4" stroke-width="0.6"/>
<polygon points="402.2,306.4 408.9,307.9 426.0,291.6 419.2,290.2" fill="#d7dce3" stroke="#d7dce3" stroke-width="0.6"/>
<polygon points="388.7,303.5 408.9,307.9 426.0,291.6 405.7,287.4" fill="none" stroke="#fff" stroke-width="0.9"/>
<polygon points="408.9,307.9 415.7,309.5 432.7,293.0 426.0,291.6" fill="#d8dce2" stroke="#d8dce2" stroke-width="0.6"/>
<polygon points="415.7,309.5 422.4,311.0 439.5,294.5 432.7,293.0" fill="#d9dce1" stroke="#d9dce1" stroke-width="0.6"/>
<polygon points="422.4,311.0 429.2,312.5 446.2,295.9 439.5,294.5" fill="#dadce0" stroke="#dadce0" stroke-width="0.6"/>
<polygon points="408.9,307.9 429.2,312.5 446.2,295.9 426.0,291.6" fill="none" stroke="#fff" stroke-width="0.9"/>
<polygon points="429.2,312.5 435.9,314.1 453.0,297.4 446.2,295.9" fill="#dbdcde" stroke="#dbdcde" stroke-width="0.6"/>
<polygon points="435.9,314.1 442.7,315.6 459.7,298.9 453.0,297.4" fill="#dcdddd" stroke="#dcdddd" stroke-width="0.6"/>
<polygon points="442.7,315.6 449.4,317.2 466.5,300.4 459.7,298.9" fill="#dddcdc" stroke="#dddcdc" stroke-width="0.6"/>
<polygon points="429.2,312.5 449.4,317.2 466.5,300.4 446.2,295.9" fill="none" stroke="#fff" stroke-width="0.9"/>
<polygon points="449.4,317.2 456.2,318.8 473.2,301.9 466.5,300.4" fill="#dedcdb" stroke="#dedcdb" stroke-width="0.6"/>
<polygon points="456.2,318.8 462.9,320.4 480.0,303.5 473.2,301.9" fill="#dfdbd9" stroke="#dfdbd9" stroke-width="0.6"/>
<polygon points="462.9,320.4 469.7,322.0 486.7,305.0 480.0,303.5" fill="#e0dbd8" stroke="#e0dbd8" stroke-width="0.6"/>
<polygon points="449.4,317.2 469.7,322.0 486.7,305.0 466.5,300.4" fill="none" stroke="#fff" stroke-width="0.9"/>
<polygon points="469.7,322.0 476.4,323.6 493.4,306.5 486.7,305.0" fill="#e1dad6" stroke="#e1dad6" stroke-width="0.6"/>
<polygon points="476.4,323.6 483.2,325.2 500.2,308.1 493.4,306.5" fill="#e2dad5" stroke="#e2dad5" stroke-width="0.6"/>
<polygon points="483.2,325.2 489.9,326.9 506.9,309.7 500.2,308.1" fill="#e3d9d3" stroke="#e3d9d3" stroke-width="0.6"/>
<polygon points="469.7,322.0 489.9,326.9 506.9,309.7 486.7,305.0" fill="none" stroke="#fff" stroke-width="0.9"/>
<polygon points="489.9,326.9 496.7,328.5 513.7,311.3 506.9,309.7" fill="#e4d9d2" stroke="#e4d9d2" stroke-width="0.6"/>
<polygon points="496.7,328.5 503.4,330.2 520.4,312.8 513.7,311.3" fill="#e4d9d2" stroke="#e4d9d2" stroke-width="0.6"/>
<polygon points="503.4,330.2 510.2,331.8 527.2,314.4 520.4,312.8" fill="#e5d8d1" stroke="#e5d8d1" stroke-width="0.6"/>
<polygon points="489.9,326.9 510.2,331.8 527.2,314.4 506.9,309.7" fill="none" stroke="#fff" stroke-width="0.9"/>
<polygon points="510.2,331.8 516.9,333.5 533.9,316.0 527.2,314.4" fill="#e6d7cf" stroke="#e6d7cf" stroke-width="0.6"/>
<polygon points="516.9,333.5 523.7,335.2 540.7,317.7 533.9,316.0" fill="#e7d7ce" stroke="#e7d7ce" stroke-width="0.6"/>
<polygon points="523.7,335.2 530.4,336.8 547.4,319.3 540.7,317.7" fill="#e8d6cc" stroke="#e8d6cc" stroke-width="0.6"/>
<polygon points="510.2,331.8 530.4,336.8 547.4,319.3 527.2,314.4" fill="none" stroke="#fff" stroke-width="0.9"/>
<polygon points="128.7,283.8 149.0,290.9 166.0,279.2 145.7,272.0" fill="#799cf8" stroke="#799cf8" stroke-width="0.6"/>
<polygon points="128.7,283.8 149.0,290.9 166.0,279.2 145.7,272.0" fill="none" stroke="#fff" stroke-width="0.9"/>
<polygon points="149.0,290.0 155.7,289.3 172.7,277.0 166.0,278.0" fill="#82a6fb" stroke="#82a6fb" stroke-width="0.6"/>
<polygon points="155.7,289.3 162.5,288.6 179.5,276.0 172.7,277.0" fill="#88abfd" stroke="#88abfd" stroke-width="0.6"/>
<polygon points="162.5,288.6 169.2,288.0 186.2,274.9 179.5,276.0" fill="#8caffe" stroke="#8caffe" stroke-width="0.6"/>
<polygon points="149.0,290.0 169.2,288.0 186.2,274.9 166.0,278.0" fill="none" stroke="#fff" stroke-width="0.9"/>
<polygon points="169.2,288.0 176.0,288.2 193.0,274.9 186.2,274.9" fill="#90b2fe" stroke="#90b2fe" stroke-width="0.6"/>
<polygon points="176.0,288.2 182.7,288.4 199.7,274.8 193.0,274.9" fill="#94b6ff" stroke="#94b6ff" stroke-width="0.6"/>
<polygon points="182.7,288.4 189.5,288.6 206.5,274.8 199.7,274.8" fill="#97b8ff" stroke="#97b8ff" stroke-width="0.6"/>
<polygon points="169.2,288.0 189.5,288.6 206.5,274.8 186.2,274.9" fill="none" stroke="#fff" stroke-width="0.9"/>
<polygon points="189.5,288.6 196.2,289.2 213.2,275.2 206.5,274.8" fill="#9bbcff" stroke="#9bbcff" stroke-width="0.6"/>
<polygon points="196.2,289.2 203.0,289.8 220.0,275.6 213.2,275.2" fill="#9ebeff" stroke="#9ebeff" stroke-width="0.6"/>
<polygon points="203.0,289.8 209.7,290.4 226.7,276.0 220.0,275.6" fill="#a1c0ff" stroke="#a1c0ff" stroke-width="0.6"/>
<polygon points="189.5,288.6 209.7,290.4 226.7,276.0 206.5,274.8" fill="none" stroke="#fff" stroke-width="0.9"/>
<polygon points="209.7,290.4 216.5,291.3 233.5,276.7 226.7,276.0" fill="#a3c2fe" stroke="#a3c2fe" stroke-width="0.6"/>
<polygon points="216.5,291.3 223.2,292.1 240.2,277.4 233.5,276.7" fill="#a6c4fe" stroke="#a6c4fe" stroke-width="0.6"/>
<polygon points="223.2,292.1 230.0,293.0 247.0,278.1 240.2,277.4" fill="#a7c5fe" stroke="#a7c5fe" stroke-width="0.6"/>
<polygon points="209.7,290.4 230.0,293.0 247.0,278.1 226.7,276.0" fill="none" stroke="#fff" stroke-width="0.9"/>
<polygon points="230.0,293.0 236.7,294.1 253.7,279.0 247.0,278.1" fill="#aac7fd" stroke="#aac7fd" stroke-width="0.6"/>
<polygon points="236.7,294.1 243.5,295.1 260.5,279.9 253.7,279.0" fill="#adc9fd" stroke="#adc9fd" stroke-width="0.6"/>
<polygon points="243.5,295.1 250.2,296.2 267.2,280.8 260.5,279.9" fill="#aec9fc" stroke="#aec9fc" stroke-width="0.6"/>
<polygon points="230.0,293.0 250.2,296.2 267.2,280.8 247.0,278.1" fill="none" stroke="#fff" stroke-width="0.9"/>
<polygon points="250.2,296.2 257.0,297.3 274.0,281.8 267.2,280.8" fill="#b1cbfc" stroke="#b1cbfc" stroke-width="0.6"/>
<polygon points="257.0,297.3 263.7,298.5 280.7,282.8 274.0,281.8" fill="#b2ccfb" stroke="#b2ccfb" stroke-width="0.6"/>
<polygon points="263.7,298.5 270.5,299.7 287.5,283.9 280.7,282.8" fill="#b3cdfb" stroke="#b3cdfb" stroke-width="0.6"/>
<polygon points="250.2,296.2 270.5,299.7 287.5,283.9 267.2,280.8" fill="none" stroke="#fff" stroke-width="0.9"/>
<polygon points="270.5,299.7 277.2,301.0 294.2,285.0 287.5,283.9" fill="#b6cefa" stroke="#b6cefa" stroke-width="0.6"/>
<polygon points="277.2,301.0 284.0,302.2 301.0,286.2 294.2,285.0" fill="#b7cff9" stroke="#b7cff9" stroke-width="0.6"/>
<polygon points="284.0,302.2 290.7,303.5 307.7,287.3 301.0,286.2" fill="#b9d0f9" stroke="#b9d0f9" stroke-width="0.6"/>
<polygon points="270.5,299.7 290.7,303.5 307.7,287.3 287.5,283.9" fill="none" stroke="#fff" stroke-width="0.9"/>
<polygon points="290.7,303.5 297.4,304.9 314.5,288.6 307.7,287.3" fill="#bad0f8" stroke="#bad0f8" stroke-width="0.6"/>
<polygon points="297.4,304.9 304.2,306.2 321.2,289.8 314.5,288.6" fill="#bcd2f7" stroke="#bcd2f7" stroke-width="0.6"/>
<polygon points="304.2,306.2 310.9,307.6 328.0,291.1 321.2,289.8" fill="#bed2f6" stroke="#bed2f6" stroke-width="0.6"/>
<polygon points="290.7,303.5 310.9,307.6 328.0,291.1 307.7,287.3" fill="none" stroke="#fff" stroke-width="0.9"/>
<polygon points="310.9,307.6 317.7,309.0 334.7,292.4 328.0,291.1" fill="#bfd3f6" stroke="#bfd3f6" stroke-width="0.6"/>
<polygon points="317.7,309.0 324.4,310.5 341.5,293.7 334.7,292.4" fill="#c0d4f5" stroke="#c0d4f5" stroke-width="0.6"/>
<polygon points="324.4,310.5 331.2,311.9 348.2,295.0 341.5,293.7" fill="#c1d4f4" stroke="#c1d4f4" stroke-width="0.6"/>
<polygon points="310.9,307.6 331.2,311.9 348.2,295.0 328.0,291.1" fill="none" stroke="#fff" stroke-width="0.9"/>
<polygon points="331.2,311.9 337.9,313.4 355.0,296.4 348.2,295.0" fill="#c3d5f4" stroke="#c3d5f4" stroke-width="0.6"/>
<polygon points="337.9,313.4 344.7,314.9 361.7,297.8 355.0,296.4" fill="#c4d5f3" stroke="#c4d5f3" stroke-width="0.6"/>
<polygon points="344.7,314.9 351.4,316.3 368.5,299.2 361.7,297.8" fill="#c5d6f2" stroke="#c5d6f2" stroke-width="0.6"/>
<polygon points="331.2,311.9 351.4,316.3 368.5,299.2 348.2,295.0" fill="none" stroke="#fff" stroke-width="0.9"/>
<polygon points="351.4,316.3 358.2,317.9 375.2,300.6 368.5,299.2" fill="#c6d6f1" stroke="#c6d6f1" stroke-width="0.6"/>
<polygon points="358.2,317.9 364.9,319.4 382.0,302.0 375.2,300.6" fill="#c7d7f0" stroke="#c7d7f0" stroke-width="0.6"/>
<polygon points="364.9,319.4 371.7,320.9 388.7,303.5 382.0,302.0" fill="#c9d7f0" stroke="#c9d7f0" stroke-width="0.6"/>
<polygon points="351.4,316.3 371.7,320.9 388.7,303.5 368.5,299.2" fill="none" stroke="#fff" stroke-width="0.9"/>
<polygon points="371.7,320.9 378.4,322.5 395.4,305.0 388.7,303.5" fill="#cad8ef" stroke="#cad8ef" stroke-width="0.6"/>
<polygon points="378.4,322.5 385.2,324.1 402.2,306.4 395.4,305.0" fill="#cbd8ee" stroke="#cbd8ee" stroke-width="0.6"/>
<polygon points="385.2,324.1 391.9,325.7 408.9,307.9 402.2,306.4" fill="#ccd9ed" stroke="#ccd9ed" stroke-width="0.6"/>
<polygon points="371.7,320.9 391.9,325.7 408.9,307.9 388.7,303.5" fill="none" stroke="#fff" stroke-width="0.9"/>
<polygon points="391.9,325.7 398.7,327.3 415.7,309.5 408.9,307.9" fill="#cdd9ec" stroke="#cdd9ec" stroke-width="0.6"/>
<polygon points="398.7,327.3 405.4,328.9 422.4,311.0 415.7,309.5" fill="#cedaeb" stroke="#cedaeb" stroke-width="0.6"/>
<polygon points="405.4,328.9 412.2,330.5 429.2,312.5 422.4,311.0" fill="#cfdaea" stroke="#cfdaea" stroke-width="0.6"/>
<polygon points="391.9,325.7 412.2,330.5 429.2,312.5 408.9,307.9" fill="none" stroke="#fff" stroke-width="0.9"/>
<polygon points="412.2,330.5 418.9,332.2 435.9,314.1 429.2,312.5" fill="#d1dae9" stroke="#d1dae9" stroke-width="0.6"/>
<polygon points="418.9,332.2 425.7,333.8 442.7,315.6 435.9,314.1" fill="#d2dbe8" stroke="#d2dbe8" stroke-width="0.6"/>
<polygon points="425.7,333.8 432.4,335.5 449.4,317.2 442.7,315.6" fill="#d3dbe7" stroke="#d3dbe7" stroke-width="0.6"/>
<polygon points="412.2,330.5 432.4,335.5 449.4,317.2 429.2,312.5" fill="none" stroke="#fff" stroke-width="0.9"/>
<polygon points="432.4,335.5 439.2,337.1 456.2,318.8 449.4,317.2" fill="#d3dbe7" stroke="#d3dbe7" stroke-width="0.6"/>
<polygon points="439.2,337.1 445.9,338.8 462.9,320.4 456.2,318.8" fill="#d4dbe6" stroke="#d4dbe6" stroke-width="0.6"/>
<polygon points="445.9,338.8 452.7,340.5 469.7,322.0 462.9,320.4" fill="#d5dbe5" stroke="#d5dbe5" stroke-width="0.6"/>
<polygon points="432.4,335.5 452.7,340.5 469.7,322.0 449.4,317.2" fill="none" stroke="#fff" stroke-width="0.9"/>
<polygon points="452.7,340.5 459.4,342.2 476.4,323.6 469.7,322.0" fill="#d6dce4" stroke="#d6dce4" stroke-width="0.6"/>
<polygon points="459.4,342.2 466.2,343.9 483.2,325.2 476.4,323.6" fill="#d7dce3" stroke="#d7dce3" stroke-width="0.6"/>
<polygon points="466.2,343.9 472.9,345.6 489.9,326.9 483.2,325.2" fill="#d7dce3" stroke="#d7dce3" stroke-width="0.6"/>
<polygon points="452.7,340.5 472.9,345.6 489.9,326.9 469.7,322.0" fill="none" stroke="#fff" stroke-width="0.9"/>
<polygon points="472.9,345.6 479.7,347.3 496.7,328.5 489.9,326.9" fill="#d8dce2" stroke="#d8dce2" stroke-width="0.6"/>
<polygon points="479.7,347.3 486.4,349.1 503.4,330.2 496.7,328.5" fill="#d9dce1" stroke="#d9dce1" stroke-width="0.6"/>
<polygon points="486.4,349.1 493.2,350.8 510.2,331.8 503.4,330.2" fill="#dadce0" stroke="#dadce0" stroke-width="0.6"/>
<polygon points="472.9,345.6 493.2,350.8 510.2,331.8 489.9,326.9" fill="none" stroke="#fff" stroke-width="0.9"/>
<polygon points="493.2,350.8 499.9,352.5 516.9,333.5 510.2,331.8" fill="#dadce0" stroke="#dadce0" stroke-width="0.6"/>
<polygon points="499.9,352.5 506.7,354.3 523.7,335.2 516.9,333.5" fill="#dbdcde" stroke="#dbdcde" stroke-width="0.6"/>
<polygon points="506.7,354.3 513.4,356.0 530.4,336.8 523.7,335.2" fill="#dcdddd" stroke="#dcdddd" stroke-width="0.6"/>
<polygon points="493.2,350.8 513.4,356.0 530.4,336.8 510.2,331.8" fill="none" stroke="#fff" stroke-width="0.9"/>
<polygon points="111.7,296.4 132.0,303.6 149.0,290.9 128.7,283.8" fill="#7597f6" stroke="#7597f6" stroke-width="0.6"/>
<polygon points="111.7,296.4 132.0,303.6 149.0,290.9 128.7,283.8" fill="none" stroke="#fff" stroke-width="0.9"/>
<polygon points="132.0,302.8 138.7,302.6 155.7,289.3 149.0,290.0" fill="#7b9ff9" stroke="#7b9ff9" stroke-width="0.6"/>
<polygon points="138.7,302.6 145.5,302.4 162.5,288.6 155.7,289.3" fill="#81a4fb" stroke="#81a4fb" stroke-width="0.6"/>
<polygon points="145.5,302.4 152.2,302.2 169.2,288.0 162.5,288.6" fill="#84a7fc" stroke="#84a7fc" stroke-width="0.6"/>
<polygon points="132.0,302.8 152.2,302.2 169.2,288.0 149.0,290.0" fill="none" stroke="#fff" stroke-width="0.9"/>
<polygon points="152.2,302.2 159.0,302.7 176.0,288.2 169.2,288.0" fill="#88abfd" stroke="#88abfd" stroke-width="0.6"/>
<polygon points="159.0,302.7 165.7,303.2 182.7,288.4 176.0,288.2" fill="#8badfd" stroke="#8badfd" stroke-width="0.6"/>
<polygon points="165.7,303.2 172.5,303.7 189.5,288.6 182.7,288.4" fill="#8db0fe" stroke="#8db0fe" stroke-width="0.6"/>
<polygon points="152.2,302.2 172.5,303.7 189.5,288.6 169.2,288.0" fill="none" stroke="#fff" stroke-width="0.9"/>
<polygon points="172.5,303.7 179.2,304.6 196.2,289.2 189.5,288.6" fill="#90b2fe" stroke="#90b2fe" stroke-width="0.6"/>
<polygon points="179.2,304.6 186.0,305.4 203.0,289.8 196.2,289.2" fill="#93b5fe" stroke="#93b5fe" stroke-width="0.6"/>
<polygon points="186.0,305.4 192.7,306.3 209.7,290.4 203.0,289.8" fill="#96b7ff" stroke="#96b7ff" stroke-width="0.6"/>
<polygon points="172.5,303.7 192.7,306.3 209.7,290.4 189.5,288.6" fill="none" stroke="#fff" stroke-width="0.9"/>
<polygon points="192.7,306.3 199.4,307.4 216.5,291.3 209.7,290.4" fill="#98b9ff" stroke="#98b9ff" stroke-width="0.6"/>
<polygon points="199.4,307.4 206.2,308.5 223.2,292.1 216.5,291.3" fill="#9abbff" stroke="#9abbff" stroke-width="0.6"/>
<polygon points="206.2,308.5 212.9,309.6 230.0,293.0 223.2,292.1" fill="#9dbdff" stroke="#9dbdff" stroke-width="0.6"/>
<polygon points="192.7,306.3 212.9,309.6 230.0,293.0 209.7,290.4" fill="none" stroke="#fff" stroke-width="0.9"/>
<polygon points="212.9,309.6 219.7,310.8 236.7,294.1 230.0,293.0" fill="#9ebeff" stroke="#9ebeff" stroke-width="0.6"/>
<polygon points="219.7,310.8 226.4,312.0 243.5,295.1 236.7,294.1" fill="#9fbfff" stroke="#9fbfff" stroke-width="0.6"/>
<polygon points="226.4,312.0 233.2,313.3 250.2,296.2 243.5,295.1" fill="#a2c1ff" stroke="#a2c1ff" stroke-width="0.6"/>
<polygon points="212.9,309.6 233.2,313.3 250.2,296.2 230.0,293.0" fill="none" stroke="#fff" stroke-width="0.9"/>
<polygon points="233.2,313.3 239.9,314.6 257.0,297.3 250.2,296.2" fill="#a3c2fe" stroke="#a3c2fe" stroke-width="0.6"/>
<polygon points="239.9,314.6 246.7,316.0 263.7,298.5 257.0,297.3" fill="#a5c3fe" stroke="#a5c3fe" stroke-width="0.6"/>
<polygon points="246.7,316.0 253.4,317.3 270.5,299.7 263.7,298.5" fill="#a7c5fe" stroke="#a7c5fe" stroke-width="0.6"/>
<polygon points="233.2,313.3 253.4,317.3 270.5,299.7 250.2,296.2" fill="none" stroke="#fff" stroke-width="0.9"/>
<polygon points="253.4,317.3 260.2,318.8 277.2,301.0 270.5,299.7" fill="#a9c6fd" stroke="#a9c6fd" stroke-width="0.6"/>
<polygon points="260.2,318.8 266.9,320.2 284.0,302.2 277.2,301.0" fill="#aac7fd" stroke="#aac7fd" stroke-width="0.6"/>
<polygon points="266.9,320.2 273.7,321.6 290.7,303.5 284.0,302.2" fill="#abc8fd" stroke="#abc8fd" stroke-width="0.6"/>
<polygon points="253.4,317.3 273.7,321.6 290.7,303.5 270.5,299.7" fill="none" stroke="#fff" stroke-width="0.9"/>
<polygon points="273.7,321.6 280.4,323.1 297.4,304.9 290.7,303.5" fill="#adc9fd" stroke="#adc9fd" stroke-width="0.6"/>
<polygon points="280.4,323.1 287.2,324.6 304.2,306.2 297.4,304.9" fill="#aec9fc" stroke="#aec9fc" stroke-width="0.6"/>
<polygon points="287.2,324.6 293.9,326.2 310.9,307.6 304.2,306.2" fill="#afcafc" stroke="#afcafc" stroke-width="0.6"/>
<polygon points="273.7,321.6 293.9,326.2 310.9,307.6 290.7,303.5" fill="none" stroke="#fff" stroke-width="0.9"/>
<polygon points="293.9,326.2 300.7,327.7 317.7,309.0 310.9,307.6" fill="#b1cbfc" stroke="#b1cbfc" stroke-width="0.6"/>
<polygon points="300.7,327.7 307.4,329.3 324.4,310.5 317.7,309.0" fill="#b2ccfb" stroke="#b2ccfb" stroke-width="0.6"/>
<polygon points="307.4,329.3 314.2,330.9 331.2,311.9 324.4,310.5" fill="#b3cdfb" stroke="#b3cdfb" stroke-width="0.6"/>
<polygon points="293.9,326.2 314.2,330.9 331.2,311.9 310.9,307.6" fill="none" stroke="#fff" stroke-width="0.9"/>
<polygon points="314.2,330.9 320.9,332.5 337.9,313.4 331.2,311.9" fill="#b5cdfa" stroke="#b5cdfa" stroke-width="0.6"/>
<polygon points="320.9,332.5 327.7,334.1 344.7,314.9 337.9,313.4" fill="#b6cefa" stroke="#b6cefa" stroke-width="0.6"/>
<polygon points="327.7,334.1 334.4,335.7 351.4,316.3 344.7,314.9" fill="#b7cff9" stroke="#b7cff9" stroke-width="0.6"/>
<polygon points="314.2,330.9 334.4,335.7 351.4,316.3 331.2,311.9" fill="none" stroke="#fff" stroke-width="0.9"/>
<polygon points="334.4,335.7 341.2,337.3 358.2,317.9 351.4,316.3" fill="#b9d0f9" stroke="#b9d0f9" stroke-width="0.6"/>
<polygon points="341.2,337.3 347.9,339.0 364.9,319.4 358.2,317.9" fill="#b9d0f9" stroke="#b9d0f9" stroke-width="0.6"/>
<polygon points="347.9,339.0 354.7,340.7 371.7,320.9 364.9,319.4" fill="#bad0f8" stroke="#bad0f8" stroke-width="0.6"/>
<polygon points="334.4,335.7 354.7,340.7 371.7,320.9 351.4,316.3" fill="none" stroke="#fff" stroke-width="0.9"/>
<polygon points="354.7,340.7 361.4,342.4 378.4,322.5 371.7,320.9" fill="#bbd1f8" stroke="#bbd1f8" stroke-width="0.6"/>
<polygon points="361.4,342.4 368.2,344.0 385.2,324.1 378.4,322.5" fill="#bcd2f7" stroke="#bcd2f7" stroke-width="0.6"/>
<polygon points="368.2,344.0 374.9,345.7 391.9,325.7 385.2,324.1" fill="#bed2f6" stroke="#bed2f6" stroke-width="0.6"/>
<polygon points="354.7,340.7 374.9,345.7 391.9,325.7 371.7,320.9" fill="none" stroke="#fff" stroke-width="0.9"/>
<polygon points="374.9,345.7 381.7,347.5 398.7,327.3 391.9,325.7" fill="#bfd3f6" stroke="#bfd3f6" stroke-width="0.6"/>
<polygon points="381.7,347.5 388.4,349.2 405.4,328.9 398.7,327.3" fill="#bfd3f6" stroke="#bfd3f6" stroke-width="0.6"/>
<polygon points="388.4,349.2 395.2,350.9 412.2,330.5 405.4,328.9" fill="#c0d4f5" stroke="#c0d4f5" stroke-width="0.6"/>
<polygon points="374.9,345.7 395.2,350.9 412.2,330.5 391.9,325.7" fill="none" stroke="#fff" stroke-width="0.9"/>
<polygon points="395.2,350.9 401.9,352.7 418.9,332.2 412.2,330.5" fill="#c1d4f4" stroke="#c1d4f4" stroke-width="0.6"/>
<polygon points="401.9,352.7 408.7,354.4 425.7,333.8 418.9,332.2" fill="#c3d5f4" stroke="#c3d5f4" stroke-width="0.6"/>
<polygon points="408.7,354.4 415.4,356.2 432.4,335.5 425.7,333.8" fill="#c3d5f4" stroke="#c3d5f4" stroke-width="0.6"/>
<polygon points="395.2,350.9 415.4,356.2 432.4,335.5 412.2,330.5" fill="none" stroke="#fff" stroke-width="0.9"/>
<polygon points="415.4,356.2 422.2,357.9 439.2,337.1 432.4,335.5" fill="#c4d5f3" stroke="#c4d5f3" stroke-width="0.6"/>
<polygon points="422.2,357.9 428.9,359.7 445.9,338.8 439.2,337.1" fill="#c5d6f2" stroke="#c5d6f2" stroke-width="0.6"/>
<polygon points="428.9,359.7 435.7,361.5 452.7,340.5 445.9,338.8" fill="#c6d6f1" stroke="#c6d6f1" stroke-width="0.6"/>
<polygon points="415.4,356.2 435.7,361.5 452.7,340.5 432.4,335.5" fill="none" stroke="#fff" stroke-width="0.9"/>
<polygon points="435.7,361.5 442.4,363.3 459.4,342.2 452.7,340.5" fill="#c6d6f1" stroke="#c6d6f1" stroke-width="0.6"/>
<polygon points="442.4,363.3 449.2,365.1 466.2,343.9 459.4,342.2" fill="#c7d7f0" stroke="#c7d7f0" stroke-width="0.6"/>
<polygon points="449.2,365.1 455.9,366.9 472.9,345.6 466.2,343.9" fill="#c9d7f0" stroke="#c9d7f0" stroke-width="0.6"/>
<polygon points="435.7,361.5 455.9,366.9 472.9,345.6 452.7,340.5" fill="none" stroke="#fff" stroke-width="0.9"/>
<polygon points="455.9,366.9 462.7,368.7 479.7,347.3 472.9,345.6" fill="#c9d7f0" stroke="#c9d7f0" stroke-width="0.6"/>
<polygon points="462.7,368.7 469.4,370.5 486.4,349.1 479.7,347.3" fill="#cad8ef" stroke="#cad8ef" stroke-width="0.6"/>
<polygon points="469.4,370.5 476.2,372.4 493.2,350.8 486.4,349.1" fill="#cbd8ee" stroke="#cbd8ee" stroke-width="0.6"/>
<polygon points="455.9,366.9 476.2,372.4 493.2,350.8 472.9,345.6" fill="none" stroke="#fff" stroke-width="0.9"/>
<polygon points="476.2,372.4 482.9,374.2 499.9,352.5 493.2,350.8" fill="#cbd8ee" stroke="#cbd8ee" stroke-width="0.6"/>
<polygon points="482.9,374.2 489.7,376.0 506.7,354.3 499.9,352.5" fill="#ccd9ed" stroke="#ccd9ed" stroke-width="0.6"/>
<polygon points="489.7,376.0 496.4,377.9 513.4,356.0 506.7,354.3" fill="#ccd9ed" stroke="#ccd9ed" stroke-width="0.6"/>
<polygon points="476.2,372.4 496.4,377.9 513.4,356.0 493.2,350.8" fill="none" stroke="#fff" stroke-width="0.9"/>
<polygon points="94.7,310.8 114.9,318.0 132.0,303.6 111.7,296.4" fill="#6e90f2" stroke="#6e90f2" stroke-width="0.6"/>
<polygon points="94.7,310.8 114.9,318.0 132.0,303.6 111.7,296.4" fill="none" stroke="#fff" stroke-width="0.9"/>
<polygon points="114.9,317.5 121.7,317.9 138.7,302.6 132.0,302.8" fill="#7295f4" stroke="#7295f4" stroke-width="0.6"/>
<polygon points="121.7,317.9 128.4,318.3 145.5,302.4 138.7,302.6" fill="#7699f6" stroke="#7699f6" stroke-width="0.6"/>
<polygon points="128.4,318.3 135.2,318.8 152.2,302.2 145.5,302.4" fill="#799cf8" stroke="#799cf8" stroke-width="0.6"/>
<polygon points="114.9,317.5 135.2,318.8 152.2,302.2 132.0,302.8" fill="none" stroke="#fff" stroke-width="0.9"/>
<polygon points="135.2,318.8 141.9,319.7 159.0,302.7 152.2,302.2" fill="#7b9ff9" stroke="#7b9ff9" stroke-width="0.6"/>
<polygon points="141.9,319.7 148.7,320.7 165.7,303.2 159.0,302.7" fill="#7ea1fa" stroke="#7ea1fa" stroke-width="0.6"/>
<polygon points="148.7,320.7 155.4,321.6 172.5,303.7 165.7,303.2" fill="#81a4fb" stroke="#81a4fb" stroke-width="0.6"/>
<polygon points="135.2,318.8 155.4,321.6 172.5,303.7 152.2,302.2" fill="none" stroke="#fff" stroke-width="0.9"/>
<polygon points="155.4,321.6 162.2,322.9 179.2,304.6 172.5,303.7" fill="#82a6fb" stroke="#82a6fb" stroke-width="0.6"/>
<polygon points="162.2,322.9 168.9,324.1 186.0,305.4 179.2,304.6" fill="#85a8fc" stroke="#85a8fc" stroke-width="0.6"/>
<polygon points="168.9,324.1 175.7,325.3 192.7,306.3 186.0,305.4" fill="#86a9fc" stroke="#86a9fc" stroke-width="0.6"/>
<polygon points="155.4,321.6 175.7,325.3 192.7,306.3 172.5,303.7" fill="none" stroke="#fff" stroke-width="0.9"/>
<polygon points="175.7,325.3 182.4,326.7 199.4,307.4 192.7,306.3" fill="#88abfd" stroke="#88abfd" stroke-width="0.6"/>
<polygon points="182.4,326.7 189.2,328.1 206.2,308.5 199.4,307.4" fill="#8badfd" stroke="#8badfd" stroke-width="0.6"/>
<polygon points="189.2,328.1 195.9,329.5 212.9,309.6 206.2,308.5" fill="#8caffe" stroke="#8caffe" stroke-width="0.6"/>
<polygon points="175.7,325.3 195.9,329.5 212.9,309.6 192.7,306.3" fill="none" stroke="#fff" stroke-width="0.9"/>
<polygon points="195.9,329.5 202.7,331.0 219.7,310.8 212.9,309.6" fill="#8db0fe" stroke="#8db0fe" stroke-width="0.6"/>
<polygon points="202.7,331.0 209.4,332.5 226.4,312.0 219.7,310.8" fill="#8fb1fe" stroke="#8fb1fe" stroke-width="0.6"/>
<polygon points="209.4,332.5 216.2,334.0 233.2,313.3 226.4,312.0" fill="#90b2fe" stroke="#90b2fe" stroke-width="0.6"/>
<polygon points="195.9,329.5 216.2,334.0 233.2,313.3 212.9,309.6" fill="none" stroke="#fff" stroke-width="0.9"/>
<polygon points="216.2,334.0 222.9,335.6 239.9,314.6 233.2,313.3" fill="#92b4fe" stroke="#92b4fe" stroke-width="0.6"/>
<polygon points="222.9,335.6 229.7,337.2 246.7,316.0 239.9,314.6" fill="#93b5fe" stroke="#93b5fe" stroke-width="0.6"/>
<polygon points="229.7,337.2 236.4,338.8 253.4,317.3 246.7,316.0" fill="#94b6ff" stroke="#94b6ff" stroke-width="0.6"/>
<polygon points="216.2,334.0 236.4,338.8 253.4,317.3 233.2,313.3" fill="none" stroke="#fff" stroke-width="0.9"/>
<polygon points="236.4,338.8 243.2,340.5 260.2,318.8 253.4,317.3" fill="#96b7ff" stroke="#96b7ff" stroke-width="0.6"/>
<polygon points="243.2,340.5 249.9,342.2 266.9,320.2 260.2,318.8" fill="#97b8ff" stroke="#97b8ff" stroke-width="0.6"/>
<polygon points="249.9,342.2 256.7,343.8 273.7,321.6 266.9,320.2" fill="#98b9ff" stroke="#98b9ff" stroke-width="0.6"/>
<polygon points="236.4,338.8 256.7,343.8 273.7,321.6 253.4,317.3" fill="none" stroke="#fff" stroke-width="0.9"/>
<polygon points="256.7,343.8 263.4,345.5 280.4,323.1 273.7,321.6" fill="#98b9ff" stroke="#98b9ff" stroke-width="0.6"/>
<polygon points="263.4,345.5 270.2,347.3 287.2,324.6 280.4,323.1" fill="#9abbff" stroke="#9abbff" stroke-width="0.6"/>
<polygon points="270.2,347.3 276.9,349.0 293.9,326.2 287.2,324.6" fill="#9bbcff" stroke="#9bbcff" stroke-width="0.6"/>
<polygon points="256.7,343.8 276.9,349.0 293.9,326.2 273.7,321.6" fill="none" stroke="#fff" stroke-width="0.9"/>
<polygon points="276.9,349.0 283.7,350.7 300.7,327.7 293.9,326.2" fill="#9dbdff" stroke="#9dbdff" stroke-width="0.6"/>
<polygon points="283.7,350.7 290.4,352.5 307.4,329.3 300.7,327.7" fill="#9ebeff" stroke="#9ebeff" stroke-width="0.6"/>
<polygon points="290.4,352.5 297.2,354.3 314.2,330.9 307.4,329.3" fill="#9ebeff" stroke="#9ebeff" stroke-width="0.6"/>
<polygon points="276.9,349.0 297.2,354.3 314.2,330.9 293.9,326.2" fill="none" stroke="#fff" stroke-width="0.9"/>
<polygon points="297.2,354.3 303.9,356.1 320.9,332.5 314.2,330.9" fill="#9fbfff" stroke="#9fbfff" stroke-width="0.6"/>
<polygon points="303.9,356.1 310.7,357.9 327.7,334.1 320.9,332.5" fill="#a1c0ff" stroke="#a1c0ff" stroke-width="0.6"/>
<polygon points="310.7,357.9 317.4,359.6 334.4,335.7 327.7,334.1" fill="#a1c0ff" stroke="#a1c0ff" stroke-width="0.6"/>
<polygon points="297.2,354.3 317.4,359.6 334.4,335.7 314.2,330.9" fill="none" stroke="#fff" stroke-width="0.9"/>
<polygon points="317.4,359.6 324.2,361.5 341.2,337.3 334.4,335.7" fill="#a2c1ff" stroke="#a2c1ff" stroke-width="0.6"/>
<polygon points="324.2,361.5 330.9,363.3 347.9,339.0 341.2,337.3" fill="#a3c2fe" stroke="#a3c2fe" stroke-width="0.6"/>
<polygon points="330.9,363.3 337.7,365.1 354.7,340.7 347.9,339.0" fill="#a5c3fe" stroke="#a5c3fe" stroke-width="0.6"/>
<polygon points="317.4,359.6 337.7,365.1 354.7,340.7 334.4,335.7" fill="none" stroke="#fff" stroke-width="0.9"/>
<polygon points="337.7,365.1 344.4,367.0 361.4,342.4 354.7,340.7" fill="#a5c3fe" stroke="#a5c3fe" stroke-width="0.6"/>
<polygon points="344.4,367.0 351.2,368.9 368.2,344.0 361.4,342.4" fill="#a6c4fe" stroke="#a6c4fe" stroke-width="0.6"/>
<polygon points="351.2,368.9 357.9,370.7 374.9,345.7 368.2,344.0" fill="#a6c4fe" stroke="#a6c4fe" stroke-width="0.6"/>
<polygon points="337.7,365.1 357.9,370.7 374.9,345.7 354.7,340.7" fill="none" stroke="#fff" stroke-width="0.9"/>
<polygon points="357.9,370.7 364.7,372.6 381.7,347.5 374.9,345.7" fill="#a7c5fe" stroke="#a7c5fe" stroke-width="0.6"/>
<polygon points="364.7,372.6 371.4,374.5 388.4,349.2 381.7,347.5" fill="#a9c6fd" stroke="#a9c6fd" stroke-width="0.6"/>
<polygon points="371.4,374.5 378.2,376.4 395.2,350.9 388.4,349.2" fill="#a9c6fd" stroke="#a9c6fd" stroke-width="0.6"/>
<polygon points="357.9,370.7 378.2,376.4 395.2,350.9 374.9,345.7" fill="none" stroke="#fff" stroke-width="0.9"/>
<polygon points="378.2,376.4 384.9,378.3 401.9,352.7 395.2,350.9" fill="#aac7fd" stroke="#aac7fd" stroke-width="0.6"/>
<polygon points="384.9,378.3 391.7,380.2 408.7,354.4 401.9,352.7" fill="#aac7fd" stroke="#aac7fd" stroke-width="0.6"/>
<polygon points="391.7,380.2 398.4,382.1 415.4,356.2 408.7,354.4" fill="#abc8fd" stroke="#abc8fd" stroke-width="0.6"/>
<polygon points="378.2,376.4 398.4,382.1 415.4,356.2 395.2,350.9" fill="none" stroke="#fff" stroke-width="0.9"/>
<polygon points="398.4,382.1 405.2,384.0 422.2,357.9 415.4,356.2" fill="#adc9fd" stroke="#adc9fd" stroke-width="0.6"/>
<polygon points="405.2,384.0 411.9,385.9 428.9,359.7 422.2,357.9" fill="#adc9fd" stroke="#adc9fd" stroke-width="0.6"/>
<polygon points="411.9,385.9 418.7,387.8 435.7,361.5 428.9,359.7" fill="#aec9fc" stroke="#aec9fc" stroke-width="0.6"/>
<polygon points="398.4,382.1 418.7,387.8 435.7,361.5 415.4,356.2" fill="none" stroke="#fff" stroke-width="0.9"/>
<polygon points="418.7,387.8 425.4,389.8 442.4,363.3 435.7,361.5" fill="#aec9fc" stroke="#aec9fc" stroke-width="0.6"/>
<polygon points="425.4,389.8 432.2,391.7 449.2,365.1 442.4,363.3" fill="#afcafc" stroke="#afcafc" stroke-width="0.6"/>
<polygon points="432.2,391.7 438.9,393.6 455.9,366.9 449.2,365.1" fill="#afcafc" stroke="#afcafc" stroke-width="0.6"/>
<polygon points="418.7,387.8 438.9,393.6 455.9,366.9 435.7,361.5" fill="none" stroke="#fff" stroke-width="0.9"/>
<polygon points="438.9,393.6 445.7,395.6 462.7,368.7 455.9,366.9" fill="#b1cbfc" stroke="#b1cbfc" stroke-width="0.6"/>
<polygon points="445.7,395.6 452.4,397.5 469.4,370.5 462.7,368.7" fill="#b1cbfc" stroke="#b1cbfc" stroke-width="0.6"/>
<polygon points="452.4,397.5 459.2,399.5 476.2,372.4 469.4,370.5" fill="#b2ccfb" stroke="#b2ccfb" stroke-width="0.6"/>
<polygon points="438.9,393.6 459.2,399.5 476.2,372.4 455.9,366.9" fill="none" stroke="#fff" stroke-width="0.9"/>
<polygon points="459.2,399.5 465.9,401.5 482.9,374.2 476.2,372.4" fill="#b2ccfb" stroke="#b2ccfb" stroke-width="0.6"/>
<polygon points="465.9,401.5 472.7,403.4 489.7,376.0 482.9,374.2" fill="#b3cdfb" stroke="#b3cdfb" stroke-width="0.6"/>
<polygon points="472.7,403.4 479.4,405.4 496.4,377.9 489.7,376.0" fill="#b3cdfb" stroke="#b3cdfb" stroke-width="0.6"/>
<polygon points="459.2,399.5 479.4,405.4 496.4,377.9 476.2,372.4" fill="none" stroke="#fff" stroke-width="0.9"/>
</g>
<g id="ax3d" stroke="#000" stroke-width="1.1" fill="none" stroke-linecap="butt">
<line x1="94.7" y1="330.0" x2="479.4" y2="465.4"/>
<line x1="479.4" y1="465.4" x2="802.6" y2="303.9"/>
<line x1="94.7" y1="330.0" x2="94.7" y2="68.5"/>
<line x1="479.4" y1="465.4" x2="479.4" y2="405.4"/>
<line x1="802.6" y1="303.9" x2="802.6" y2="115.6"/>
</g>
<g stroke="#000" stroke-width="1.0" fill="none"><line x1="94.7" y1="330.0" x2="97.7" y2="327.8"/><line x1="102.4" y1="332.7" x2="103.9" y2="331.6"/><line x1="110.1" y1="335.4" x2="111.6" y2="334.3"/><line x1="117.8" y1="338.1" x2="119.3" y2="337.0"/><line x1="125.5" y1="340.8" x2="127.0" y2="339.7"/><line x1="133.2" y1="343.5" x2="136.1" y2="341.3"/><line x1="140.9" y1="346.2" x2="142.4" y2="345.1"/><line x1="148.6" y1="349.0" x2="150.1" y2="347.8"/><line x1="156.3" y1="351.7" x2="157.8" y2="350.5"/><line x1="163.9" y1="354.4" x2="165.5" y2="353.2"/><line x1="171.6" y1="357.1" x2="174.6" y2="354.9"/><line x1="179.3" y1="359.8" x2="180.9" y2="358.6"/><line x1="187.0" y1="362.5" x2="188.5" y2="361.4"/><line x1="194.7" y1="365.2" x2="196.2" y2="364.1"/><line x1="202.4" y1="367.9" x2="203.9" y2="366.8"/><line x1="210.1" y1="370.6" x2="213.1" y2="368.4"/><line x1="217.8" y1="373.3" x2="219.3" y2="372.2"/><line x1="225.5" y1="376.0" x2="227.0" y2="374.9"/><line x1="233.2" y1="378.7" x2="234.7" y2="377.6"/><line x1="240.9" y1="381.5" x2="242.4" y2="380.3"/><line x1="248.6" y1="384.2" x2="251.5" y2="381.9"/><line x1="256.3" y1="386.9" x2="257.8" y2="385.7"/><line x1="264.0" y1="389.6" x2="265.5" y2="388.4"/><line x1="271.7" y1="392.3" x2="273.2" y2="391.1"/><line x1="279.4" y1="395.0" x2="280.9" y2="393.9"/><line x1="287.1" y1="397.7" x2="290.0" y2="395.5"/><line x1="294.7" y1="400.4" x2="296.3" y2="399.3"/><line x1="302.4" y1="403.1" x2="304.0" y2="402.0"/><line x1="310.1" y1="405.8" x2="311.7" y2="404.7"/><line x1="317.8" y1="408.5" x2="319.3" y2="407.4"/><line x1="325.5" y1="411.2" x2="328.5" y2="409.0"/><line x1="333.2" y1="413.9" x2="334.7" y2="412.8"/><line x1="340.9" y1="416.7" x2="342.4" y2="415.5"/><line x1="348.6" y1="419.4" x2="350.1" y2="418.2"/><line x1="356.3" y1="422.1" x2="357.8" y2="420.9"/><line x1="364.0" y1="424.8" x2="366.9" y2="422.6"/><line x1="371.7" y1="427.5" x2="373.2" y2="426.3"/><line x1="379.4" y1="430.2" x2="380.9" y2="429.1"/><line x1="387.1" y1="432.9" x2="388.6" y2="431.8"/><line x1="394.8" y1="435.6" x2="396.3" y2="434.5"/><line x1="402.5" y1="438.3" x2="405.4" y2="436.1"/><line x1="410.2" y1="441.0" x2="411.7" y2="439.9"/><line x1="417.8" y1="443.7" x2="419.4" y2="442.6"/><line x1="425.5" y1="446.4" x2="427.1" y2="445.3"/><line x1="433.2" y1="449.2" x2="434.8" y2="448.0"/><line x1="440.9" y1="451.9" x2="443.9" y2="449.6"/><line x1="448.6" y1="454.6" x2="450.1" y2="453.4"/><line x1="456.3" y1="457.3" x2="457.8" y2="456.1"/><line x1="464.0" y1="460.0" x2="465.5" y2="458.8"/><line x1="471.7" y1="462.7" x2="473.2" y2="461.6"/><line x1="479.4" y1="465.4" x2="482.4" y2="463.2"/><line x1="482.5" y1="463.9" x2="481.0" y2="463.2"/><line x1="488.6" y1="460.8" x2="487.2" y2="460.2"/><line x1="494.8" y1="457.7" x2="491.8" y2="456.4"/><line x1="500.9" y1="454.6" x2="499.5" y2="454.0"/><line x1="507.1" y1="451.6" x2="505.6" y2="450.9"/><line x1="513.3" y1="448.5" x2="511.8" y2="447.8"/><line x1="519.4" y1="445.4" x2="517.9" y2="444.8"/><line x1="525.6" y1="442.3" x2="522.5" y2="441.0"/><line x1="531.7" y1="439.3" x2="530.3" y2="438.6"/><line x1="537.9" y1="436.2" x2="536.4" y2="435.5"/><line x1="544.0" y1="433.1" x2="542.6" y2="432.5"/><line x1="550.2" y1="430.0" x2="548.7" y2="429.4"/><line x1="556.4" y1="426.9" x2="553.3" y2="425.6"/><line x1="562.5" y1="423.9" x2="561.0" y2="423.2"/><line x1="568.7" y1="420.8" x2="567.2" y2="420.2"/><line x1="574.8" y1="417.7" x2="573.4" y2="417.1"/><line x1="581.0" y1="414.6" x2="579.5" y2="414.0"/><line x1="587.1" y1="411.6" x2="584.1" y2="410.3"/><line x1="593.3" y1="408.5" x2="591.8" y2="407.9"/><line x1="599.4" y1="405.4" x2="598.0" y2="404.8"/><line x1="605.6" y1="402.3" x2="604.1" y2="401.7"/><line x1="611.8" y1="399.3" x2="610.3" y2="398.6"/><line x1="617.9" y1="396.2" x2="614.9" y2="394.9"/><line x1="624.1" y1="393.1" x2="622.6" y2="392.5"/><line x1="630.2" y1="390.0" x2="628.8" y2="389.4"/><line x1="636.4" y1="387.0" x2="634.9" y2="386.3"/><line x1="642.5" y1="383.9" x2="641.1" y2="383.2"/><line x1="648.7" y1="380.8" x2="645.7" y2="379.5"/><line x1="654.9" y1="377.7" x2="653.4" y2="377.1"/><line x1="661.0" y1="374.7" x2="659.5" y2="374.0"/><line x1="667.2" y1="371.6" x2="665.7" y2="370.9"/><line x1="673.3" y1="368.5" x2="671.9" y2="367.9"/><line x1="679.5" y1="365.4" x2="676.4" y2="364.1"/><line x1="685.6" y1="362.3" x2="684.2" y2="361.7"/><line x1="691.8" y1="359.3" x2="690.3" y2="358.6"/><line x1="697.9" y1="356.2" x2="696.5" y2="355.6"/><line x1="704.1" y1="353.1" x2="702.6" y2="352.5"/><line x1="710.3" y1="350.0" x2="707.2" y2="348.7"/><line x1="716.4" y1="347.0" x2="714.9" y2="346.3"/><line x1="722.6" y1="343.9" x2="721.1" y2="343.3"/><line x1="728.7" y1="340.8" x2="727.3" y2="340.2"/><line x1="734.9" y1="337.7" x2="733.4" y2="337.1"/><line x1="741.0" y1="334.7" x2="738.0" y2="333.4"/><line x1="747.2" y1="331.6" x2="745.7" y2="331.0"/><line x1="753.4" y1="328.5" x2="751.9" y2="327.9"/><line x1="759.5" y1="325.4" x2="758.0" y2="324.8"/><line x1="765.7" y1="322.4" x2="764.2" y2="321.7"/><line x1="771.8" y1="319.3" x2="768.8" y2="318.0"/><line x1="778.0" y1="316.2" x2="776.5" y2="315.6"/><line x1="784.1" y1="313.1" x2="782.7" y2="312.5"/><line x1="790.3" y1="310.1" x2="788.8" y2="309.4"/><line x1="796.4" y1="307.0" x2="795.0" y2="306.3"/><line x1="802.6" y1="303.9" x2="799.6" y2="302.6"/><line x1="94.7" y1="330.0" x2="98.6" y2="330.0"/><line x1="94.7" y1="325.0" x2="96.9" y2="325.0"/><line x1="94.7" y1="319.9" x2="96.9" y2="319.9"/><line x1="94.7" y1="314.9" x2="96.9" y2="314.9"/><line x1="94.7" y1="309.9" x2="96.9" y2="309.9"/><line x1="94.7" y1="304.8" x2="98.6" y2="304.8"/><line x1="94.7" y1="299.8" x2="96.9" y2="299.8"/><line x1="94.7" y1="294.7" x2="96.9" y2="294.7"/><line x1="94.7" y1="289.7" x2="96.9" y2="289.7"/><line x1="94.7" y1="284.7" x2="96.9" y2="284.7"/><line x1="94.7" y1="279.6" x2="98.6" y2="279.6"/><line x1="94.7" y1="274.6" x2="96.9" y2="274.6"/><line x1="94.7" y1="269.6" x2="96.9" y2="269.6"/><line x1="94.7" y1="264.5" x2="96.9" y2="264.5"/><line x1="94.7" y1="259.5" x2="96.9" y2="259.5"/><line x1="94.7" y1="254.5" x2="98.6" y2="254.5"/><line x1="94.7" y1="249.4" x2="96.9" y2="249.4"/><line x1="94.7" y1="244.4" x2="96.9" y2="244.4"/><line x1="94.7" y1="239.4" x2="96.9" y2="239.4"/><line x1="94.7" y1="234.3" x2="96.9" y2="234.3"/><line x1="94.7" y1="229.3" x2="98.6" y2="229.3"/><line x1="94.7" y1="224.2" x2="96.9" y2="224.2"/><line x1="94.7" y1="219.2" x2="96.9" y2="219.2"/><line x1="94.7" y1="214.2" x2="96.9" y2="214.2"/><line x1="94.7" y1="209.1" x2="96.9" y2="209.1"/><line x1="94.7" y1="204.1" x2="98.6" y2="204.1"/><line x1="94.7" y1="199.1" x2="96.9" y2="199.1"/><line x1="94.7" y1="194.0" x2="96.9" y2="194.0"/><line x1="94.7" y1="189.0" x2="96.9" y2="189.0"/><line x1="94.7" y1="184.0" x2="96.9" y2="184.0"/><line x1="94.7" y1="178.9" x2="98.6" y2="178.9"/><line x1="94.7" y1="173.9" x2="96.9" y2="173.9"/><line x1="94.7" y1="168.8" x2="96.9" y2="168.8"/><line x1="94.7" y1="163.8" x2="96.9" y2="163.8"/><line x1="94.7" y1="158.8" x2="96.9" y2="158.8"/><line x1="94.7" y1="153.7" x2="98.6" y2="153.7"/><line x1="94.7" y1="148.7" x2="96.9" y2="148.7"/><line x1="94.7" y1="143.7" x2="96.9" y2="143.7"/><line x1="94.7" y1="138.6" x2="96.9" y2="138.6"/><line x1="94.7" y1="133.6" x2="96.9" y2="133.6"/><line x1="94.7" y1="128.6" x2="98.6" y2="128.6"/><line x1="94.7" y1="123.5" x2="96.9" y2="123.5"/><line x1="94.7" y1="118.5" x2="96.9" y2="118.5"/><line x1="94.7" y1="113.5" x2="96.9" y2="113.5"/><line x1="94.7" y1="108.4" x2="96.9" y2="108.4"/><line x1="94.7" y1="103.4" x2="98.6" y2="103.4"/><line x1="94.7" y1="98.3" x2="96.9" y2="98.3"/><line x1="94.7" y1="93.3" x2="96.9" y2="93.3"/><line x1="94.7" y1="88.3" x2="96.9" y2="88.3"/><line x1="94.7" y1="83.2" x2="96.9" y2="83.2"/><line x1="94.7" y1="78.2" x2="98.6" y2="78.2"/></g>
<polygon points="94.5,64.6 89.1,70.4 94.5,68.9 99.9,70.4" fill="#000"/>
<text x="85.9" y="336.2" font-size="16.50" text-anchor="end">0</text>
<text x="85.9" y="311.0" font-size="16.50" text-anchor="end">0.2</text>
<text x="85.9" y="285.8" font-size="16.50" text-anchor="end">0.4</text>
<text x="85.9" y="260.7" font-size="16.50" text-anchor="end">0.6</text>
<text x="85.9" y="235.5" font-size="16.50" text-anchor="end">0.8</text>
<text x="84.1" y="210.3" font-size="16.50" text-anchor="end">1</text>
<text x="85.9" y="185.1" font-size="16.50" text-anchor="end">1.2</text>
<text x="85.9" y="159.9" font-size="16.50" text-anchor="end">1.4</text>
<text x="85.9" y="134.8" font-size="16.50" text-anchor="end">1.6</text>
<text x="85.9" y="109.6" font-size="16.50" text-anchor="end">1.8</text>
<text x="85.9" y="84.4" font-size="16.50" text-anchor="end">2</text>
<text x="82.5" y="346.8" font-size="16.50" text-anchor="end">0</text>
<text x="121.0" y="360.3" font-size="16.50" text-anchor="end">0.1</text>
<text x="159.4" y="373.9" font-size="16.50" text-anchor="end">0.2</text>
<text x="197.9" y="387.4" font-size="16.50" text-anchor="end">0.3</text>
<text x="236.4" y="401.0" font-size="16.50" text-anchor="end">0.4</text>
<text x="274.9" y="414.5" font-size="16.50" text-anchor="end">0.5</text>
<text x="313.3" y="428.0" font-size="16.50" text-anchor="end">0.6</text>
<text x="351.8" y="441.6" font-size="16.50" text-anchor="end">0.7</text>
<text x="390.3" y="455.1" font-size="16.50" text-anchor="end">0.8</text>
<text x="428.7" y="468.7" font-size="16.50" text-anchor="end">0.9</text>
<text x="467.2" y="482.2" font-size="16.50" text-anchor="end">1</text>
<text x="511.8" y="470.1" font-size="16.50" text-anchor="middle">1</text>
<text x="542.6" y="454.7" font-size="16.50" text-anchor="middle">2</text>
<text x="573.4" y="439.3" font-size="16.50" text-anchor="middle">3</text>
<text x="604.1" y="424.0" font-size="16.50" text-anchor="middle">4</text>
<text x="634.9" y="408.6" font-size="16.50" text-anchor="middle">5</text>
<text x="665.7" y="393.2" font-size="16.50" text-anchor="middle">6</text>
<text x="696.5" y="377.8" font-size="16.50" text-anchor="middle">7</text>
<text x="727.3" y="362.4" font-size="16.50" text-anchor="middle">8</text>
<text x="758.0" y="347.1" font-size="16.50" text-anchor="middle">9</text>
<text x="788.8" y="331.7" font-size="16.50" text-anchor="middle">10</text>
<text x="819.6" y="316.3" font-size="16.50" text-anchor="middle">11</text>
<g id="mk">
<rect x="420.8" y="242.0" width="9.1" height="15.9" fill="#626262"/>
<rect x="423.1" y="245.6" width="4.6" height="0.6" fill="#7c7c7c"/>
<rect x="423.1" y="249.8" width="4.6" height="0.6" fill="#7c7c7c"/>
<rect x="423.1" y="254.0" width="4.6" height="0.6" fill="#7c7c7c"/>
<rect x="459.1" y="208.9" width="9.1" height="15.8" fill="#626262"/>
<rect x="461.3" y="212.5" width="4.6" height="0.6" fill="#7c7c7c"/>
<rect x="461.3" y="216.7" width="4.6" height="0.6" fill="#7c7c7c"/>
<rect x="461.3" y="220.9" width="4.6" height="0.6" fill="#7c7c7c"/>
<rect x="382.3" y="272.5" width="9.1" height="15.8" fill="#626262"/>
<rect x="384.6" y="276.1" width="4.6" height="0.6" fill="#7c7c7c"/>
<rect x="384.6" y="280.3" width="4.6" height="0.6" fill="#7c7c7c"/>
<rect x="384.6" y="284.5" width="4.6" height="0.6" fill="#7c7c7c"/>
<rect x="343.8" y="316.0" width="9.1" height="13.0" fill="#626262"/>
<rect x="346.1" y="319.6" width="4.6" height="0.6" fill="#7c7c7c"/>
<rect x="346.1" y="323.8" width="4.6" height="0.6" fill="#7c7c7c"/>
<rect x="497.6" y="222.3" width="9.1" height="7.7" fill="#626262"/>
<rect x="499.9" y="225.9" width="4.6" height="0.6" fill="#7c7c7c"/>
<rect x="536.2" y="218.4" width="9.1" height="21.2" fill="#626262"/>
<rect x="538.4" y="222.0" width="4.6" height="0.6" fill="#7c7c7c"/>
<rect x="538.4" y="226.2" width="4.6" height="0.6" fill="#7c7c7c"/>
<rect x="538.4" y="230.4" width="4.6" height="0.6" fill="#7c7c7c"/>
<rect x="538.4" y="234.6" width="4.6" height="0.6" fill="#7c7c7c"/>
<rect x="574.8" y="233.5" width="9.1" height="11.5" fill="#626262"/>
<rect x="577.0" y="237.1" width="4.6" height="0.6" fill="#7c7c7c"/>
<rect x="577.0" y="241.3" width="4.6" height="0.6" fill="#7c7c7c"/>
<rect x="317.1" y="172.1" width="8" height="8" fill="none" stroke="#5c5c5c" stroke-width="1.1"/>
<rect x="317.1" y="172.8" width="8" height="8" fill="none" stroke="#5c5c5c" stroke-width="1.1"/>
<rect x="317.1" y="173.4" width="8" height="8" fill="none" stroke="#5c5c5c" stroke-width="1.1"/>
<rect x="317.1" y="174.1" width="8" height="8" fill="none" stroke="#5c5c5c" stroke-width="1.1"/>
<rect x="320.6" y="175.8" width="1" height="2.6" fill="#444"/>
<rect x="402.3" y="114.5" width="8" height="8" fill="none" stroke="#5c5c5c" stroke-width="1.1"/>
<rect x="402.3" y="115.2" width="8" height="8" fill="none" stroke="#5c5c5c" stroke-width="1.1"/>
<rect x="402.3" y="115.8" width="8" height="8" fill="none" stroke="#5c5c5c" stroke-width="1.1"/>
<rect x="402.3" y="116.4" width="8" height="8" fill="none" stroke="#5c5c5c" stroke-width="1.1"/>
<rect x="402.3" y="117.0" width="8" height="8" fill="none" stroke="#5c5c5c" stroke-width="1.1"/>
<rect x="405.8" y="118.5" width="1" height="2.6" fill="#444"/>
<rect x="113.3" y="281.9" width="8.0" height="8.0" fill="none" stroke="#5c5c5c" stroke-width="1.1"/>
<rect x="113.3" y="282.6" width="8.0" height="8.0" fill="none" stroke="#5c5c5c" stroke-width="1.1"/>
<rect x="113.3" y="283.3" width="8.0" height="8.0" fill="none" stroke="#5c5c5c" stroke-width="1.1"/>
<rect x="116.8" y="285.4" width="1" height="2.4" fill="#444"/>
<rect x="132.6" y="292.0" width="8.0" height="8.0" fill="none" stroke="#5c5c5c" stroke-width="1.1"/>
<rect x="132.6" y="292.7" width="8.0" height="8.0" fill="none" stroke="#5c5c5c" stroke-width="1.1"/>
<rect x="132.6" y="293.4" width="8.0" height="8.0" fill="none" stroke="#5c5c5c" stroke-width="1.1"/>
<rect x="136.1" y="295.5" width="1" height="2.4" fill="#444"/>
<rect x="151.9" y="257.6" width="8.0" height="8.0" fill="none" stroke="#5c5c5c" stroke-width="1.1"/>
<rect x="151.9" y="258.3" width="8.0" height="8.0" fill="none" stroke="#5c5c5c" stroke-width="1.1"/>
<rect x="151.9" y="259.0" width="8.0" height="8.0" fill="none" stroke="#5c5c5c" stroke-width="1.1"/>
<rect x="155.4" y="261.1" width="1" height="2.4" fill="#444"/>
<rect x="190.2" y="238.3" width="8.0" height="8.0" fill="none" stroke="#5c5c5c" stroke-width="1.1"/>
<rect x="190.2" y="239.0" width="8.0" height="8.0" fill="none" stroke="#5c5c5c" stroke-width="1.1"/>
<rect x="190.2" y="239.7" width="8.0" height="8.0" fill="none" stroke="#5c5c5c" stroke-width="1.1"/>
<rect x="193.7" y="241.8" width="1" height="2.4" fill="#444"/>
<rect x="229.2" y="215.3" width="8.0" height="8.0" fill="none" stroke="#5c5c5c" stroke-width="1.1"/>
<rect x="229.2" y="216.0" width="8.0" height="8.0" fill="none" stroke="#5c5c5c" stroke-width="1.1"/>
<rect x="229.2" y="216.7" width="8.0" height="8.0" fill="none" stroke="#5c5c5c" stroke-width="1.1"/>
<rect x="232.7" y="218.8" width="1" height="2.4" fill="#444"/>
<rect x="230.1" y="215.6" width="8.0" height="8.0" fill="none" stroke="#5c5c5c" stroke-width="1.1"/>
<rect x="230.1" y="216.3" width="8.0" height="8.0" fill="none" stroke="#5c5c5c" stroke-width="1.1"/>
<rect x="230.1" y="217.0" width="8.0" height="8.0" fill="none" stroke="#5c5c5c" stroke-width="1.1"/>
<rect x="233.6" y="219.1" width="1" height="2.4" fill="#444"/>
<rect x="231.0" y="215.9" width="8.0" height="8.0" fill="none" stroke="#5c5c5c" stroke-width="1.1"/>
<rect x="231.0" y="216.6" width="8.0" height="8.0" fill="none" stroke="#5c5c5c" stroke-width="1.1"/>
<rect x="231.0" y="217.3" width="8.0" height="8.0" fill="none" stroke="#5c5c5c" stroke-width="1.1"/>
<rect x="234.5" y="219.4" width="1" height="2.4" fill="#444"/>
<rect x="298.2" y="176.3" width="8.0" height="8.0" fill="none" stroke="#5c5c5c" stroke-width="1.1"/>
<rect x="298.2" y="177.0" width="8.0" height="8.0" fill="none" stroke="#5c5c5c" stroke-width="1.1"/>
<rect x="298.2" y="177.7" width="8.0" height="8.0" fill="none" stroke="#5c5c5c" stroke-width="1.1"/>
<rect x="301.7" y="179.8" width="1" height="2.4" fill="#444"/>
<rect x="305.5" y="230.1" width="8.0" height="8.0" fill="none" stroke="#5c5c5c" stroke-width="1.1"/>
<rect x="305.5" y="230.8" width="8.0" height="8.0" fill="none" stroke="#5c5c5c" stroke-width="1.1"/>
<rect x="305.5" y="231.5" width="8.0" height="8.0" fill="none" stroke="#5c5c5c" stroke-width="1.1"/>
<rect x="309.0" y="233.6" width="1" height="2.4" fill="#444"/>
<rect x="344.4" y="200.6" width="8.0" height="8.0" fill="none" stroke="#5c5c5c" stroke-width="1.1"/>
<rect x="344.4" y="201.3" width="8.0" height="8.0" fill="none" stroke="#5c5c5c" stroke-width="1.1"/>
<rect x="344.4" y="202.0" width="8.0" height="8.0" fill="none" stroke="#5c5c5c" stroke-width="1.1"/>
<rect x="347.9" y="204.1" width="1" height="2.4" fill="#444"/>
<rect x="382.6" y="114.0" width="8.0" height="8.0" fill="none" stroke="#5c5c5c" stroke-width="1.1"/>
<rect x="382.6" y="114.7" width="8.0" height="8.0" fill="none" stroke="#5c5c5c" stroke-width="1.1"/>
<rect x="382.6" y="115.4" width="8.0" height="8.0" fill="none" stroke="#5c5c5c" stroke-width="1.1"/>
<rect x="386.1" y="117.5" width="1" height="2.4" fill="#444"/>
<rect x="413.8" y="158.5" width="8.0" height="8.0" fill="none" stroke="#5c5c5c" stroke-width="1.1"/>
<rect x="413.8" y="159.2" width="8.0" height="8.0" fill="none" stroke="#5c5c5c" stroke-width="1.1"/>
<rect x="413.8" y="159.9" width="8.0" height="8.0" fill="none" stroke="#5c5c5c" stroke-width="1.1"/>
<rect x="417.3" y="162.0" width="1" height="2.4" fill="#444"/>
<rect x="267.3" y="208.8" width="8.0" height="8.0" fill="none" stroke="#5c5c5c" stroke-width="1.1"/>
<rect x="267.3" y="209.5" width="8.0" height="8.0" fill="none" stroke="#5c5c5c" stroke-width="1.1"/>
<rect x="267.3" y="210.2" width="8.0" height="8.0" fill="none" stroke="#5c5c5c" stroke-width="1.1"/>
<rect x="270.8" y="212.3" width="1" height="2.4" fill="#444"/>
<rect x="529.2" y="168.3" width="8.0" height="8.0" fill="none" stroke="#5c5c5c" stroke-width="1.1"/>
<rect x="529.2" y="169.0" width="8.0" height="8.0" fill="none" stroke="#5c5c5c" stroke-width="1.1"/>
<rect x="529.2" y="169.7" width="8.0" height="8.0" fill="none" stroke="#5c5c5c" stroke-width="1.1"/>
<rect x="532.7" y="171.8" width="1" height="2.4" fill="#444"/>
<path d="M228.9 306.8L236.7 314.6M228.9 314.6L236.7 306.8" stroke="#000" stroke-width="1.25" fill="none"/>
<path d="M498.3 113.3L506.1 121.1M498.3 121.1L506.1 113.3" stroke="#000" stroke-width="1.25" fill="none"/>
<path d="M171.3 268.1L179.1 275.9M171.3 275.9L179.1 268.1" stroke="#000" stroke-width="1.50" fill="none"/>
<path d="M171.3 269.9L179.1 277.7M171.3 277.7L179.1 269.9" stroke="#000" stroke-width="1.50" fill="none"/>
<path d="M209.6 244.0L217.4 251.8M209.6 251.8L217.4 244.0" stroke="#000" stroke-width="1.50" fill="none"/>
<path d="M209.6 245.8L217.4 253.6M209.6 253.6L217.4 245.8" stroke="#000" stroke-width="1.50" fill="none"/>
<path d="M247.9 220.6L255.7 228.4M247.9 228.4L255.7 220.6" stroke="#000" stroke-width="1.50" fill="none"/>
<path d="M247.9 222.4L255.7 230.2M247.9 230.2L255.7 222.4" stroke="#000" stroke-width="1.50" fill="none"/>
<path d="M267.4 212.4L275.2 220.2M267.4 220.2L275.2 212.4" stroke="#000" stroke-width="1.50" fill="none"/>
<path d="M267.4 214.1L275.2 221.9M267.4 221.9L275.2 214.1" stroke="#000" stroke-width="1.50" fill="none"/>
<path d="M267.4 274.1L275.2 281.9M267.4 281.9L275.2 274.1" stroke="#000" stroke-width="1.50" fill="none"/>
<path d="M267.4 275.2L275.2 283.0M267.4 283.0L275.2 275.2" stroke="#000" stroke-width="1.50" fill="none"/>
<path d="M267.4 276.4L275.2 284.2M267.4 284.2L275.2 276.4" stroke="#000" stroke-width="1.50" fill="none"/>
<path d="M267.4 277.5L275.2 285.3M267.4 285.3L275.2 277.5" stroke="#000" stroke-width="1.50" fill="none"/>
<path d="M305.6 207.1L313.4 214.9M305.6 214.9L313.4 207.1" stroke="#000" stroke-width="1.50" fill="none"/>
<path d="M305.6 208.3L313.4 216.2M305.6 216.2L313.4 208.3" stroke="#000" stroke-width="1.50" fill="none"/>
<path d="M305.6 209.6L313.4 217.4M305.6 217.4L313.4 209.6" stroke="#000" stroke-width="1.50" fill="none"/>
<path d="M305.6 210.8L313.4 218.7M305.6 218.7L313.4 210.8" stroke="#000" stroke-width="1.50" fill="none"/>
<path d="M305.6 212.1L313.4 219.9M305.6 219.9L313.4 212.1" stroke="#000" stroke-width="1.50" fill="none"/>
<path d="M383.0 214.2L390.8 222.0M383.0 222.0L390.8 214.2" stroke="#000" stroke-width="1.50" fill="none"/>
<path d="M383.0 215.6L390.8 223.4M383.0 223.4L390.8 215.6" stroke="#000" stroke-width="1.50" fill="none"/>
<path d="M383.0 216.9L390.8 224.8M383.0 224.8L390.8 216.9" stroke="#000" stroke-width="1.50" fill="none"/>
<path d="M383.0 218.3L390.8 226.1M383.0 226.1L390.8 218.3" stroke="#000" stroke-width="1.50" fill="none"/>
<path d="M383.0 219.7L390.8 227.5M383.0 227.5L390.8 219.7" stroke="#000" stroke-width="1.50" fill="none"/>
<path d="M421.5 229.6L429.3 237.4M421.5 237.4L429.3 229.6" stroke="#000" stroke-width="1.50" fill="none"/>
<path d="M421.5 230.9L429.3 238.7M421.5 238.7L429.3 230.9" stroke="#000" stroke-width="1.50" fill="none"/>
<path d="M421.5 232.2L429.3 240.0M421.5 240.0L429.3 232.2" stroke="#000" stroke-width="1.50" fill="none"/>
<path d="M421.5 233.5L429.3 241.3M421.5 241.3L429.3 233.5" stroke="#000" stroke-width="1.50" fill="none"/>
<path d="M421.5 234.8L429.3 242.6M421.5 242.6L429.3 234.8" stroke="#000" stroke-width="1.50" fill="none"/>
<path d="M421.5 236.1L429.3 243.9M421.5 243.9L429.3 236.1" stroke="#000" stroke-width="1.50" fill="none"/>
<path d="M459.7 221.9L467.5 229.7M459.7 229.7L467.5 221.9" stroke="#000" stroke-width="1.50" fill="none"/>
<path d="M459.7 223.0L467.5 230.8M459.7 230.8L467.5 223.0" stroke="#000" stroke-width="1.50" fill="none"/>
<path d="M459.7 224.1L467.5 231.9M459.7 231.9L467.5 224.1" stroke="#000" stroke-width="1.50" fill="none"/>
<path d="M383.0 287.4L390.8 295.2M383.0 295.2L390.8 287.4" stroke="#000" stroke-width="1.50" fill="none"/>
<path d="M383.0 288.8L390.8 296.6M383.0 296.6L390.8 288.8" stroke="#000" stroke-width="1.50" fill="none"/>
<path d="M383.0 290.2L390.8 298.0M383.0 298.0L390.8 290.2" stroke="#000" stroke-width="1.50" fill="none"/>
<path d="M383.0 291.6L390.8 299.4M383.0 299.4L390.8 291.6" stroke="#000" stroke-width="1.50" fill="none"/>
<path d="M383.0 293.0L390.8 300.8M383.0 300.8L390.8 293.0" stroke="#000" stroke-width="1.50" fill="none"/>
<path d="M383.0 294.4L390.8 302.2M383.0 302.2L390.8 294.4" stroke="#000" stroke-width="1.50" fill="none"/>
<path d="M383.0 295.8L390.8 303.6M383.0 303.6L390.8 295.8" stroke="#000" stroke-width="1.50" fill="none"/>
<path d="M344.5 327.0L352.3 334.8M344.5 334.8L352.3 327.0" stroke="#000" stroke-width="1.50" fill="none"/>
<path d="M344.5 328.3L352.3 336.1M344.5 336.1L352.3 328.3" stroke="#000" stroke-width="1.50" fill="none"/>
<path d="M344.5 329.6L352.3 337.4M344.5 337.4L352.3 329.6" stroke="#000" stroke-width="1.50" fill="none"/>
<path d="M344.5 330.9L352.3 338.7M344.5 338.7L352.3 330.9" stroke="#000" stroke-width="1.50" fill="none"/>
<path d="M344.5 332.1L352.3 339.9M344.5 339.9L352.3 332.1" stroke="#000" stroke-width="1.50" fill="none"/>
<path d="M344.5 333.4L352.3 341.2M344.5 341.2L352.3 333.4" stroke="#000" stroke-width="1.50" fill="none"/>
<path d="M344.5 334.7L352.3 342.5M344.5 342.5L352.3 334.7" stroke="#000" stroke-width="1.50" fill="none"/>
<path d="M344.5 336.0L352.3 343.8M344.5 343.8L352.3 336.0" stroke="#000" stroke-width="1.50" fill="none"/>
<path d="M344.5 337.3L352.3 345.1M344.5 345.1L352.3 337.3" stroke="#000" stroke-width="1.50" fill="none"/>
<path d="M344.5 338.6L352.3 346.4M344.5 346.4L352.3 338.6" stroke="#000" stroke-width="1.50" fill="none"/>
<path d="M344.5 339.9L352.3 347.7M344.5 347.7L352.3 339.9" stroke="#000" stroke-width="1.50" fill="none"/>
<path d="M344.5 341.1L352.3 348.9M344.5 348.9L352.3 341.1" stroke="#000" stroke-width="1.50" fill="none"/>
<path d="M344.5 342.4L352.3 350.2M344.5 350.2L352.3 342.4" stroke="#000" stroke-width="1.50" fill="none"/>
<path d="M344.5 343.7L352.3 351.5M344.5 351.5L352.3 343.7" stroke="#000" stroke-width="1.50" fill="none"/>
<path d="M344.5 345.0L352.3 352.8M344.5 352.8L352.3 345.0" stroke="#000" stroke-width="1.50" fill="none"/>
<path d="M344.5 353.1L352.3 360.9M344.5 360.9L352.3 353.1" stroke="#000" stroke-width="1.30" fill="none"/>
<path d="M344.5 356.1L352.3 363.9M344.5 363.9L352.3 356.1" stroke="#000" stroke-width="1.30" fill="none"/>
<path d="M344.5 357.1L352.3 364.9M344.5 364.9L352.3 357.1" stroke="#000" stroke-width="1.30" fill="none"/>
<path d="M529.3 169.4L537.1 177.2M529.3 177.2L537.1 169.4" stroke="#000" stroke-width="1.50" fill="none"/>
<path d="M529.3 170.7L537.1 178.5M529.3 178.5L537.1 170.7" stroke="#000" stroke-width="1.50" fill="none"/>
<path d="M529.3 172.0L537.1 179.8M529.3 179.8L537.1 172.0" stroke="#000" stroke-width="1.50" fill="none"/>
<path d="M529.3 173.2L537.1 181.0M529.3 181.0L537.1 173.2" stroke="#000" stroke-width="1.50" fill="none"/>
<path d="M529.3 174.5L537.1 182.3M529.3 182.3L537.1 174.5" stroke="#000" stroke-width="1.50" fill="none"/>
<path d="M529.3 175.8L537.1 183.6M529.3 183.6L537.1 175.8" stroke="#000" stroke-width="1.50" fill="none"/>
<path d="M498.3 228.1L506.1 235.9M498.3 235.9L506.1 228.1" stroke="#000" stroke-width="1.50" fill="none"/>
<path d="M498.3 229.2L506.1 237.1M498.3 237.1L506.1 229.2" stroke="#000" stroke-width="1.50" fill="none"/>
<path d="M498.3 230.4L506.1 238.2M498.3 238.2L506.1 230.4" stroke="#000" stroke-width="1.50" fill="none"/>
<path d="M498.3 231.5L506.1 239.3M498.3 239.3L506.1 231.5" stroke="#000" stroke-width="1.50" fill="none"/>
<path d="M498.3 232.7L506.1 240.5M498.3 240.5L506.1 232.7" stroke="#000" stroke-width="1.50" fill="none"/>
<path d="M575.4 242.6L583.2 250.4M575.4 250.4L583.2 242.6" stroke="#000" stroke-width="1.50" fill="none"/>
<path d="M575.4 243.9L583.2 251.7M575.4 251.7L583.2 243.9" stroke="#000" stroke-width="1.50" fill="none"/>
<path d="M575.4 245.3L583.2 253.1M575.4 253.1L583.2 245.3" stroke="#000" stroke-width="1.50" fill="none"/>
<path d="M575.4 246.6L583.2 254.4M575.4 254.4L583.2 246.6" stroke="#000" stroke-width="1.50" fill="none"/>
<path d="M575.4 248.0L583.2 255.8M575.4 255.8L583.2 248.0" stroke="#000" stroke-width="1.50" fill="none"/>
<path d="M575.4 249.3L583.2 257.1M575.4 257.1L583.2 249.3" stroke="#000" stroke-width="1.50" fill="none"/>
<path d="M575.4 250.7L583.2 258.5M575.4 258.5L583.2 250.7" stroke="#000" stroke-width="1.50" fill="none"/>
<path d="M575.4 252.0L583.2 259.8M575.4 259.8L583.2 252.0" stroke="#000" stroke-width="1.50" fill="none"/>
<path d="M613.7 112.1L621.5 119.9M613.7 119.9L621.5 112.1" stroke="#000" stroke-width="1.50" fill="none"/>
<path d="M613.7 113.4L621.5 121.2M613.7 121.2L621.5 113.4" stroke="#000" stroke-width="1.50" fill="none"/>
<path d="M613.7 114.7L621.5 122.5M613.7 122.5L621.5 114.7" stroke="#000" stroke-width="1.50" fill="none"/>
<path d="M613.7 115.9L621.5 123.7M613.7 123.7L621.5 115.9" stroke="#000" stroke-width="1.50" fill="none"/>
<path d="M613.7 117.2L621.5 125.0M613.7 125.0L621.5 117.2" stroke="#000" stroke-width="1.50" fill="none"/>
<path d="M613.7 118.5L621.5 126.3M613.7 126.3L621.5 118.5" stroke="#000" stroke-width="1.50" fill="none"/>
<rect x="357.4" y="91.4" width="8.3" height="8.3" fill="none" stroke="#888" stroke-width="0.75"/>
<rect x="361.1" y="95.1" width="0.9" height="0.9" fill="#777"/>
<path d="M357.4 110.9L366.0 119.5M357.4 119.5L366.0 110.9" stroke="#000" stroke-width="0.95" fill="none"/>
</g>
<text x="129.4" y="46.9" font-size="16.50" textLength="17.0" lengthAdjust="spacingAndGlyphs">δa</text>
<text x="148.0" y="52.2" font-size="13.20" textLength="22.6" lengthAdjust="spacingAndGlyphs">cav</text>
<text x="173.4" y="46.9" font-size="16.50" textLength="147.2" lengthAdjust="spacingAndGlyphs">(q, e &lt; 0.05) = 2.35</text>
<text x="327.8" y="46.9" font-size="16.50" textLength="10.4" lengthAdjust="spacingAndGlyphs">q</text>
<text x="345.3" y="37.0" font-size="13.20" textLength="27.6" lengthAdjust="spacingAndGlyphs">0.36</text>
<text x="129.4" y="72.1" font-size="16.50" textLength="17.0" lengthAdjust="spacingAndGlyphs">δa</text>
<text x="148.0" y="77.4" font-size="13.20" textLength="22.6" lengthAdjust="spacingAndGlyphs">cav</text>
<text x="173.4" y="72.1" font-size="16.50" textLength="208.2" lengthAdjust="spacingAndGlyphs" xml:space="preserve">(q,  0.05 ≤ e ≤ 0.9) = 7.87 q</text>
<text x="383.5" y="62.1" font-size="13.20" textLength="26.8" lengthAdjust="spacingAndGlyphs">0.37</text>
<text x="418.5" y="72.1" font-size="16.50" textLength="9.8" lengthAdjust="spacingAndGlyphs">e</text>
<text x="428.0" y="77.0" font-size="13.20" textLength="12.2" lengthAdjust="spacingAndGlyphs">pl</text>
<text x="440.8" y="62.1" font-size="13.20" textLength="27.0" lengthAdjust="spacingAndGlyphs">0.38</text>
<text x="123.6" y="99.7" font-size="16.50" textLength="89.0" lengthAdjust="spacingAndGlyphs">data above</text>
<text x="218.5" y="99.7" font-size="16.50" textLength="17.0" lengthAdjust="spacingAndGlyphs">δa</text>
<text x="236.6" y="105.4" font-size="13.20" textLength="25.0" lengthAdjust="spacingAndGlyphs">gap</text>
<text x="266.8" y="99.7" font-size="16.50" textLength="57.0" lengthAdjust="spacingAndGlyphs">surface</text>
<text x="123.6" y="119.0" font-size="16.50" textLength="89.0" lengthAdjust="spacingAndGlyphs">data below</text>
<text x="218.5" y="119.0" font-size="16.50" textLength="17.0" lengthAdjust="spacingAndGlyphs">δa</text>
<text x="236.6" y="124.6" font-size="13.20" textLength="25.0" lengthAdjust="spacingAndGlyphs">gap</text>
<text x="266.8" y="119.0" font-size="16.50" textLength="57.0" lengthAdjust="spacingAndGlyphs">surface</text>
<text x="746.0" y="29.5" font-size="32.40">(</text>
<text x="756.6" y="32.3" font-size="37.10" textLength="17.3" lengthAdjust="spacingAndGlyphs">a</text>
<text x="774.2" y="29.5" font-size="32.40">)</text>
<text x="183.6" y="443.1" font-size="17.70" textLength="9.8" lengthAdjust="spacingAndGlyphs">e</text>
<text x="193.3" y="448.8" font-size="14.30" textLength="12.4" lengthAdjust="spacingAndGlyphs">pl</text>
<text x="684.6" y="422.8" font-size="17.70" textLength="15.2" lengthAdjust="spacingAndGlyphs">M</text>
<text x="699.8" y="428.5" font-size="14.30" textLength="12.4" lengthAdjust="spacingAndGlyphs">pl</text>
<text x="716.6" y="422.8" font-size="17.70">(</text>
<text x="721.8" y="422.8" font-size="17.70" textLength="15.9" lengthAdjust="spacingAndGlyphs">M</text>
<text x="737.6" y="428.5" font-size="14.30" textLength="23.2" lengthAdjust="spacingAndGlyphs">Jup</text>
<text x="761.0" y="422.8" font-size="17.70">)</text>
<g transform="translate(16.9,224.8) rotate(-90)">
<text x="-0.3" y="0.0" font-size="17.70" textLength="17.2" lengthAdjust="spacingAndGlyphs">δa</text>
<text x="18.4" y="5.5" font-size="14.30" textLength="21.6" lengthAdjust="spacingAndGlyphs">cav</text>
</g>
<g id="b">
<path d="M104.5 1051.5v-5.8M104.5 591.5v5.8M117.7 1051.5v-2.8M117.7 591.5v2.8M130.9 1051.5v-2.8M130.9 591.5v2.8M144.1 1051.5v-2.8M144.1 591.5v2.8M157.3 1051.5v-2.8M157.3 591.5v2.8M170.5 1051.5v-5.8M170.5 591.5v5.8M183.7 1051.5v-2.8M183.7 591.5v2.8M196.9 1051.5v-2.8M196.9 591.5v2.8M210.1 1051.5v-2.8M210.1 591.5v2.8M223.3 1051.5v-2.8M223.3 591.5v2.8M236.5 1051.5v-5.8M236.5 591.5v5.8M249.7 1051.5v-2.8M249.7 591.5v2.8M262.9 1051.5v-2.8M262.9 591.5v2.8M276.1 1051.5v-2.8M276.1 591.5v2.8M289.3 1051.5v-2.8M289.3 591.5v2.8M302.5 1051.5v-5.8M302.5 591.5v5.8M315.7 1051.5v-2.8M315.7 591.5v2.8M328.9 1051.5v-2.8M328.9 591.5v2.8M342.1 1051.5v-2.8M342.1 591.5v2.8M355.3 1051.5v-2.8M355.3 591.5v2.8M368.5 1051.5v-5.8M368.5 591.5v5.8M381.7 1051.5v-2.8M381.7 591.5v2.8M394.9 1051.5v-2.8M394.9 591.5v2.8M408.1 1051.5v-2.8M408.1 591.5v2.8M421.3 1051.5v-2.8M421.3 591.5v2.8M434.5 1051.5v-5.8M434.5 591.5v5.8M447.7 1051.5v-2.8M447.7 591.5v2.8M460.9 1051.5v-2.8M460.9 591.5v2.8M474.1 1051.5v-2.8M474.1 591.5v2.8M487.3 1051.5v-2.8M487.3 591.5v2.8M500.5 1051.5v-5.8M500.5 591.5v5.8M513.7 1051.5v-2.8M513.7 591.5v2.8M526.9 1051.5v-2.8M526.9 591.5v2.8M540.1 1051.5v-2.8M540.1 591.5v2.8M553.3 1051.5v-2.8M553.3 591.5v2.8M566.5 1051.5v-5.8M566.5 591.5v5.8M579.7 1051.5v-2.8M579.7 591.5v2.8M592.9 1051.5v-2.8M592.9 591.5v2.8M606.1 1051.5v-2.8M606.1 591.5v2.8M619.3 1051.5v-2.8M619.3 591.5v2.8M632.5 1051.5v-5.8M632.5 591.5v5.8M645.7 1051.5v-2.8M645.7 591.5v2.8M658.9 1051.5v-2.8M658.9 591.5v2.8M672.1 1051.5v-2.8M672.1 591.5v2.8M685.3 1051.5v-2.8M685.3 591.5v2.8M698.5 1051.5v-5.8M698.5 591.5v5.8M711.7 1051.5v-2.8M711.7 591.5v2.8M724.9 1051.5v-2.8M724.9 591.5v2.8M738.1 1051.5v-2.8M738.1 591.5v2.8M751.3 1051.5v-2.8M751.3 591.5v2.8M764.5 1051.5v-5.8M764.5 591.5v5.8M104.5 1047.5h2.8M764.5 1047.5h-2.8M104.5 1031.5h5.8M764.5 1031.5h-5.8M104.5 1015.5h2.8M764.5 1015.5h-2.8M104.5 999.5h2.8M764.5 999.5h-2.8M104.5 983.5h2.8M764.5 983.5h-2.8M104.5 967.5h2.8M764.5 967.5h-2.8M104.5 951.5h5.8M764.5 951.5h-5.8M104.5 935.5h2.8M764.5 935.5h-2.8M104.5 919.5h2.8M764.5 919.5h-2.8M104.5 903.5h2.8M764.5 903.5h-2.8M104.5 887.5h2.8M764.5 887.5h-2.8M104.5 871.5h5.8M764.5 871.5h-5.8M104.5 855.5h2.8M764.5 855.5h-2.8M104.5 839.5h2.8M764.5 839.5h-2.8M104.5 823.5h2.8M764.5 823.5h-2.8M104.5 807.5h2.8M764.5 807.5h-2.8M104.5 791.5h5.8M764.5 791.5h-5.8M104.5 775.5h2.8M764.5 775.5h-2.8M104.5 759.5h2.8M764.5 759.5h-2.8M104.5 743.5h2.8M764.5 743.5h-2.8M104.5 727.5h2.8M764.5 727.5h-2.8M104.5 711.5h5.8M764.5 711.5h-5.8M104.5 695.5h2.8M764.5 695.5h-2.8M104.5 679.5h2.8M764.5 679.5h-2.8M104.5 663.5h2.8M764.5 663.5h-2.8M104.5 647.5h2.8M764.5 647.5h-2.8M104.5 631.5h5.8M764.5 631.5h-5.8M104.5 615.5h2.8M764.5 615.5h-2.8M104.5 599.5h2.8M764.5 599.5h-2.8" stroke="#000" stroke-width="0.9" fill="none"/>
<clipPath id="cb"><rect x="104.5" y="591.5" width="660.0" height="460.0"/></clipPath>
<g clip-path="url(#cb)">
<polyline points="104.5,1033.7 111.1,1031.0 117.7,1028.4 124.3,1026.0 130.9,1023.6 137.5,1021.4 144.1,1019.3 150.7,1017.3 157.3,1015.3 163.9,1013.4 170.5,1011.6 177.1,1009.8 183.7,1008.1 190.3,1006.4 196.9,1004.7 203.5,1003.2 210.1,1001.6 216.7,1000.1 223.3,998.6 229.9,997.2 236.5,995.8 243.1,994.4 249.7,993.1 256.3,991.7 262.9,990.4 269.5,989.2 276.1,987.9 282.7,986.7 289.3,985.5 295.9,984.3 302.5,983.1 309.1,982.0 315.7,980.8 322.3,979.7 328.9,978.6 335.5,977.5 342.1,976.5 348.7,975.4 355.3,974.4 361.9,973.4 368.5,972.3 375.1,971.3 381.7,970.4 388.3,969.4 394.9,968.4 401.5,967.5 408.1,966.5 414.7,965.6 421.3,964.7 427.9,963.8 434.5,962.9 441.1,962.0 447.7,961.1 454.3,960.2 460.9,959.4 467.5,958.5 474.1,957.7 480.7,956.8 487.3,956.0 493.9,955.2 500.5,954.4 507.1,953.6 513.7,952.8 520.3,952.0 526.9,951.2 533.5,950.4 540.1,949.6 546.7,948.9 553.3,948.1 559.9,947.4 566.5,946.6 573.1,945.9 579.7,945.1 586.3,944.4 592.9,943.7 599.5,943.0 606.1,942.3 612.7,941.5 619.3,940.8 625.9,940.1 632.5,939.5 639.1,938.8 645.7,938.1 652.3,937.4 658.9,936.7 665.5,936.1 672.1,935.4 678.7,934.7 685.3,934.1 691.9,933.4 698.5,932.8 705.1,932.1 711.7,931.5 718.3,930.9 724.9,930.2 731.5,929.6 738.1,929.0 744.7,928.4 751.3,927.8 757.9,927.1 764.5,926.5" fill="none" stroke="#ff0000" stroke-width="3.4" stroke-linejoin="round"/>
<polyline points="104.5,1032.4 111.1,1029.6 117.7,1027.0 124.3,1024.4 130.9,1022.0 137.5,1019.8 144.1,1017.6 150.7,1015.4 157.3,1013.4 163.9,1011.4 170.5,1009.5 177.1,1007.7 183.7,1005.9 190.3,1004.2 196.9,1002.5 203.5,1000.8 210.1,999.2 216.7,997.7 223.3,996.1 229.9,994.6 236.5,993.2 243.1,991.7 249.7,990.3 256.3,988.9 262.9,987.6 269.5,986.3 276.1,985.0 282.7,983.7 289.3,982.4 295.9,981.2 302.5,980.0 309.1,978.8 315.7,977.6 322.3,976.4 328.9,975.3 335.5,974.1 342.1,973.0 348.7,971.9 355.3,970.8 361.9,969.8 368.5,968.7 375.1,967.7 381.7,966.6 388.3,965.6 394.9,964.6 401.5,963.6 408.1,962.6 414.7,961.7 421.3,960.7 427.9,959.7 434.5,958.8 441.1,957.9 447.7,956.9 454.3,956.0 460.9,955.1 467.5,954.2 474.1,953.3 480.7,952.5 487.3,951.6 493.9,950.7 500.5,949.9 507.1,949.0 513.7,948.2 520.3,947.4 526.9,946.5 533.5,945.7 540.1,944.9 546.7,944.1 553.3,943.3 559.9,942.5 566.5,941.7 573.1,941.0 579.7,940.2 586.3,939.4 592.9,938.7 599.5,937.9 606.1,937.2 612.7,936.4 619.3,935.7 625.9,934.9 632.5,934.2 639.1,933.5 645.7,932.8 652.3,932.1 658.9,931.4 665.5,930.6 672.1,929.9 678.7,929.3 685.3,928.6 691.9,927.9 698.5,927.2 705.1,926.5 711.7,925.8 718.3,925.2 724.9,924.5 731.5,923.9 738.1,923.2 744.7,922.5 751.3,921.9 757.9,921.3 764.5,920.6" fill="none" stroke="#00f800" stroke-width="3.4" stroke-linejoin="round"/>
<polyline points="104.5,955.1 111.1,949.5 117.7,944.3 124.3,939.3 130.9,934.5 137.5,930.0 144.1,925.6 150.7,921.4 157.3,917.4 163.9,913.5 170.5,909.7 177.1,906.1 183.7,902.5 190.3,899.1 196.9,895.8 203.5,892.5 210.1,889.3 216.7,886.2 223.3,883.2 229.9,880.2 236.5,877.3 243.1,874.5 249.7,871.7 256.3,869.0 262.9,866.3 269.5,863.7 276.1,861.1 282.7,858.6 289.3,856.1 295.9,853.6 302.5,851.2 309.1,848.9 315.7,846.5 322.3,844.2 328.9,841.9 335.5,839.7 342.1,837.5 348.7,835.3 355.3,833.2 361.9,831.1 368.5,829.0 375.1,826.9 381.7,824.9 388.3,822.9 394.9,820.9 401.5,818.9 408.1,817.0 414.7,815.1 421.3,813.2 427.9,811.3 434.5,809.4 441.1,807.6 447.7,805.8 454.3,804.0 460.9,802.2 467.5,800.4 474.1,798.6 480.7,796.9 487.3,795.2 493.9,793.5 500.5,791.8 507.1,790.1 513.7,788.5 520.3,786.8 526.9,785.2 533.5,783.6 540.1,782.0 546.7,780.4 553.3,778.8 559.9,777.3 566.5,775.7 573.1,774.2 579.7,772.7 586.3,771.2 592.9,769.7 599.5,768.2 606.1,766.7 612.7,765.2 619.3,763.8 625.9,762.3 632.5,760.9 639.1,759.5 645.7,758.0 652.3,756.6 658.9,755.2 665.5,753.9 672.1,752.5 678.7,751.1 685.3,749.7 691.9,748.4 698.5,747.1 705.1,745.7 711.7,744.4 718.3,743.1 724.9,741.8 731.5,740.5 738.1,739.2 744.7,737.9 751.3,736.6 757.9,735.3 764.5,734.1" fill="none" stroke="#0000f8" stroke-width="3.4" stroke-linejoin="round"/>
<polyline points="104.5,907.1 111.1,899.8 117.7,893.0 124.3,886.5 130.9,880.3 137.5,874.3 144.1,868.7 150.7,863.2 157.3,857.9 163.9,852.9 170.5,847.9 177.1,843.2 183.7,838.6 190.3,834.1 196.9,829.7 203.5,825.5 210.1,821.3 216.7,817.3 223.3,813.3 229.9,809.5 236.5,805.7 243.1,802.0 249.7,798.4 256.3,794.8 262.9,791.3 269.5,787.9 276.1,784.6 282.7,781.3 289.3,778.0 295.9,774.8 302.5,771.7 309.1,768.6 315.7,765.5 322.3,762.5 328.9,759.6 335.5,756.7 342.1,753.8 348.7,751.0 355.3,748.2 361.9,745.4 368.5,742.7 375.1,740.0 381.7,737.4 388.3,734.7 394.9,732.1 401.5,729.6 408.1,727.0 414.7,724.5 421.3,722.1 427.9,719.6 434.5,717.2 441.1,714.8 447.7,712.4 454.3,710.1 460.9,707.8 467.5,705.5 474.1,703.2 480.7,700.9 487.3,698.7 493.9,696.5 500.5,694.3 507.1,692.1 513.7,689.9 520.3,687.8 526.9,685.7 533.5,683.6 540.1,681.5 546.7,679.4 553.3,677.4 559.9,675.3 566.5,673.3 573.1,671.3 579.7,669.3 586.3,667.4 592.9,665.4 599.5,663.5 606.1,661.6 612.7,659.6 619.3,657.7 625.9,655.9 632.5,654.0 639.1,652.1 645.7,650.3 652.3,648.5 658.9,646.6 665.5,644.8 672.1,643.0 678.7,641.2 685.3,639.5 691.9,637.7 698.5,636.0 705.1,634.2 711.7,632.5 718.3,630.8 724.9,629.1 731.5,627.4 738.1,625.7 744.7,624.0 751.3,622.4 757.9,620.7 764.5,619.1" fill="none" stroke="#c080ff" stroke-width="3.4" stroke-linejoin="round"/>
</g>
<circle cx="121.2" cy="1010.5" r="4" fill="#ff0000"/>
<circle cx="203.5" cy="994.6" r="4" fill="#ff0000"/>
<circle cx="286.0" cy="995.6" r="4" fill="#ff0000"/>
<circle cx="368.5" cy="980.7" r="4" fill="#ff0000"/>
<circle cx="517.0" cy="969.5" r="4" fill="#ff0000"/>
<line x1="698.0" y1="902.6" x2="698.0" y2="909.9" stroke="#ff0000" stroke-width="3.3"/>
<line x1="695.4" y1="903.6" x2="700.6" y2="903.6" stroke="#ff0000" stroke-width="2"/>
<line x1="695.4" y1="908.9" x2="700.6" y2="908.9" stroke="#ff0000" stroke-width="2"/>
<circle cx="698.0" cy="906.3" r="4" fill="#ff0000"/>
<line x1="121.2" y1="1018.5" x2="121.2" y2="1026.0" stroke="#00f800" stroke-width="3.3"/>
<line x1="118.6" y1="1019.5" x2="123.8" y2="1019.5" stroke="#00f800" stroke-width="2"/>
<line x1="118.6" y1="1025.0" x2="123.8" y2="1025.0" stroke="#00f800" stroke-width="2"/>
<circle cx="121.2" cy="1022.3" r="4" fill="#00f800"/>
<line x1="203.5" y1="1001.7" x2="203.5" y2="1013.8" stroke="#00f800" stroke-width="3.3"/>
<line x1="200.9" y1="1002.7" x2="206.1" y2="1002.7" stroke="#00f800" stroke-width="2"/>
<line x1="200.9" y1="1012.8" x2="206.1" y2="1012.8" stroke="#00f800" stroke-width="2"/>
<circle cx="203.5" cy="1007.5" r="4" fill="#00f800"/>
<line x1="286.0" y1="988.5" x2="286.0" y2="997.5" stroke="#00f800" stroke-width="3.3"/>
<line x1="283.4" y1="989.5" x2="288.6" y2="989.5" stroke="#00f800" stroke-width="2"/>
<line x1="283.4" y1="996.5" x2="288.6" y2="996.5" stroke="#00f800" stroke-width="2"/>
<circle cx="286.0" cy="992.8" r="4" fill="#00f800"/>
<line x1="368.5" y1="974.0" x2="368.5" y2="981.5" stroke="#00f800" stroke-width="3.3"/>
<line x1="365.9" y1="975.0" x2="371.1" y2="975.0" stroke="#00f800" stroke-width="2"/>
<line x1="365.9" y1="980.5" x2="371.1" y2="980.5" stroke="#00f800" stroke-width="2"/>
<circle cx="368.5" cy="977.8" r="4" fill="#00f800"/>
<line x1="533.4" y1="931.2" x2="533.4" y2="941.7" stroke="#00f800" stroke-width="3.3"/>
<line x1="530.8" y1="932.2" x2="536.0" y2="932.2" stroke="#00f800" stroke-width="2"/>
<line x1="530.8" y1="940.7" x2="536.0" y2="940.7" stroke="#00f800" stroke-width="2"/>
<circle cx="533.4" cy="936.3" r="4" fill="#00f800"/>
<line x1="698.0" y1="883.5" x2="698.0" y2="894.0" stroke="#00f800" stroke-width="3.3"/>
<line x1="695.4" y1="884.5" x2="700.6" y2="884.5" stroke="#00f800" stroke-width="2"/>
<line x1="695.4" y1="893.0" x2="700.6" y2="893.0" stroke="#00f800" stroke-width="2"/>
<circle cx="698.0" cy="888.6" r="4" fill="#00f800"/>
<circle cx="121.2" cy="957.1" r="4" fill="#0000f8"/>
<line x1="203.5" y1="912.2" x2="203.5" y2="926.1" stroke="#0000f8" stroke-width="3.3"/>
<line x1="200.9" y1="913.2" x2="206.1" y2="913.2" stroke="#0000f8" stroke-width="2"/>
<line x1="200.9" y1="925.1" x2="206.1" y2="925.1" stroke="#0000f8" stroke-width="2"/>
<circle cx="203.5" cy="919.3" r="4" fill="#0000f8"/>
<line x1="286.0" y1="833.6" x2="286.0" y2="845.0" stroke="#0000f8" stroke-width="3.3"/>
<line x1="283.4" y1="834.6" x2="288.6" y2="834.6" stroke="#0000f8" stroke-width="2"/>
<line x1="283.4" y1="844.0" x2="288.6" y2="844.0" stroke="#0000f8" stroke-width="2"/>
<circle cx="286.0" cy="839.4" r="4" fill="#0000f8"/>
<circle cx="368.5" cy="807.8" r="4" fill="#0000f8"/>
<circle cx="517.0" cy="784.3" r="4" fill="#0000f8"/>
<circle cx="698.0" cy="772.4" r="4" fill="#0000f8"/>
<line x1="121.2" y1="823.6" x2="121.2" y2="982.0" stroke="#c080ff" stroke-width="3.3"/>
<line x1="118.6" y1="824.6" x2="123.8" y2="824.6" stroke="#c080ff" stroke-width="2"/>
<line x1="118.6" y1="981.0" x2="123.8" y2="981.0" stroke="#c080ff" stroke-width="2"/>
<circle cx="121.2" cy="902.7" r="4" fill="#c080ff"/>
<line x1="203.5" y1="769.9" x2="203.5" y2="868.2" stroke="#c080ff" stroke-width="3.3"/>
<line x1="200.9" y1="770.9" x2="206.1" y2="770.9" stroke="#c080ff" stroke-width="2"/>
<line x1="200.9" y1="867.2" x2="206.1" y2="867.2" stroke="#c080ff" stroke-width="2"/>
<circle cx="203.5" cy="819.0" r="4" fill="#c080ff"/>
<line x1="286.0" y1="737.7" x2="286.0" y2="778.0" stroke="#c080ff" stroke-width="3.3"/>
<line x1="283.4" y1="738.7" x2="288.6" y2="738.7" stroke="#c080ff" stroke-width="2"/>
<line x1="283.4" y1="777.0" x2="288.6" y2="777.0" stroke="#c080ff" stroke-width="2"/>
<circle cx="286.0" cy="757.6" r="4" fill="#c080ff"/>
<line x1="368.5" y1="701.7" x2="368.5" y2="764.7" stroke="#c080ff" stroke-width="3.3"/>
<line x1="365.9" y1="702.7" x2="371.1" y2="702.7" stroke="#c080ff" stroke-width="2"/>
<line x1="365.9" y1="763.7" x2="371.1" y2="763.7" stroke="#c080ff" stroke-width="2"/>
<circle cx="368.5" cy="733.7" r="4" fill="#c080ff"/>
<line x1="517.0" y1="684.9" x2="517.0" y2="710.2" stroke="#c080ff" stroke-width="3.3"/>
<line x1="514.4" y1="685.9" x2="519.6" y2="685.9" stroke="#c080ff" stroke-width="2"/>
<line x1="514.4" y1="709.2" x2="519.6" y2="709.2" stroke="#c080ff" stroke-width="2"/>
<circle cx="517.0" cy="697.6" r="4" fill="#c080ff"/>
<line x1="698.0" y1="638.0" x2="698.0" y2="665.0" stroke="#c080ff" stroke-width="3.3"/>
<line x1="695.4" y1="639.0" x2="700.6" y2="639.0" stroke="#c080ff" stroke-width="2"/>
<line x1="695.4" y1="664.0" x2="700.6" y2="664.0" stroke="#c080ff" stroke-width="2"/>
<circle cx="698.0" cy="652.4" r="4" fill="#c080ff"/>
<rect x="104.5" y="591.5" width="660.0" height="460.0" stroke="#000" stroke-width="1.1" fill="none"/>
<text x="106.4" y="1077.0" font-size="16.50" text-anchor="middle">1</text>
<text x="172.4" y="1077.0" font-size="16.50" text-anchor="middle">2</text>
<text x="238.4" y="1077.0" font-size="16.50" text-anchor="middle">3</text>
<text x="304.4" y="1077.0" font-size="16.50" text-anchor="middle">4</text>
<text x="370.4" y="1077.0" font-size="16.50" text-anchor="middle">5</text>
<text x="436.4" y="1077.0" font-size="16.50" text-anchor="middle">6</text>
<text x="502.4" y="1077.0" font-size="16.50" text-anchor="middle">7</text>
<text x="568.4" y="1077.0" font-size="16.50" text-anchor="middle">8</text>
<text x="634.4" y="1077.0" font-size="16.50" text-anchor="middle">9</text>
<text x="700.4" y="1077.0" font-size="16.50" text-anchor="middle">10</text>
<text x="766.4" y="1077.0" font-size="16.50" text-anchor="middle">11</text>
<text x="93.3" y="1037.7" font-size="16.50" text-anchor="end">0.2</text>
<text x="93.3" y="957.7" font-size="16.50" text-anchor="end">0.4</text>
<text x="93.3" y="877.7" font-size="16.50" text-anchor="end">0.6</text>
<text x="93.3" y="797.7" font-size="16.50" text-anchor="end">0.8</text>
<text x="93.3" y="717.7" font-size="16.50" text-anchor="end">1</text>
<text x="93.3" y="637.7" font-size="16.50" text-anchor="end">1.2</text>
<text x="116.2" y="614.7" font-size="16.50" textLength="16.6" lengthAdjust="spacingAndGlyphs">δa</text>
<text x="133.7" y="620.0" font-size="13.20" textLength="21.8" lengthAdjust="spacingAndGlyphs">cav</text>
<text x="158.8" y="614.7" font-size="16.50" textLength="33.6" lengthAdjust="spacingAndGlyphs">(q, e</text>
<text x="192.3" y="620.1" font-size="13.60" textLength="11.0" lengthAdjust="spacingAndGlyphs">pl</text>
<text x="203.7" y="614.7" font-size="16.50" textLength="91.3" lengthAdjust="spacingAndGlyphs">=0) = 2.35 q</text>
<text x="296.2" y="605.7" font-size="13.20" textLength="26.0" lengthAdjust="spacingAndGlyphs">0.36</text>
<text x="116.2" y="639.1" font-size="16.50" textLength="16.6" lengthAdjust="spacingAndGlyphs">δa</text>
<text x="133.7" y="644.4" font-size="13.20" textLength="21.8" lengthAdjust="spacingAndGlyphs">cav</text>
<text x="158.8" y="639.1" font-size="16.50" textLength="33.6" lengthAdjust="spacingAndGlyphs">(q, e</text>
<text x="192.3" y="644.5" font-size="13.60" textLength="11.0" lengthAdjust="spacingAndGlyphs">pl</text>
<text x="203.7" y="639.1" font-size="16.50" textLength="113.8" lengthAdjust="spacingAndGlyphs">=0.05) = 2.35 q</text>
<text x="318.7" y="630.1" font-size="13.20" textLength="26.0" lengthAdjust="spacingAndGlyphs">0.36</text>
<text x="116.2" y="663.5" font-size="16.50" textLength="16.6" lengthAdjust="spacingAndGlyphs">δa</text>
<text x="133.7" y="668.8" font-size="13.20" textLength="21.8" lengthAdjust="spacingAndGlyphs">cav</text>
<text x="158.8" y="663.5" font-size="16.50" textLength="33.6" lengthAdjust="spacingAndGlyphs">(q, e</text>
<text x="192.3" y="668.9" font-size="13.60" textLength="11.0" lengthAdjust="spacingAndGlyphs">pl</text>
<text x="203.7" y="663.5" font-size="16.50" textLength="104.3" lengthAdjust="spacingAndGlyphs">=0.3) = 7.87 q</text>
<text x="308.8" y="654.5" font-size="13.20" textLength="26.0" lengthAdjust="spacingAndGlyphs">0.37</text>
<text x="335.2" y="663.5" font-size="16.50" textLength="9.0" lengthAdjust="spacingAndGlyphs">e</text>
<text x="344.3" y="668.9" font-size="13.60" textLength="11.8" lengthAdjust="spacingAndGlyphs">pl</text>
<text x="356.4" y="654.5" font-size="13.20" textLength="26.4" lengthAdjust="spacingAndGlyphs">0.38</text>
<text x="116.2" y="687.9" font-size="16.50" textLength="16.6" lengthAdjust="spacingAndGlyphs">δa</text>
<text x="133.7" y="693.2" font-size="13.20" textLength="21.8" lengthAdjust="spacingAndGlyphs">cav</text>
<text x="158.8" y="687.9" font-size="16.50" textLength="33.6" lengthAdjust="spacingAndGlyphs">(q, e</text>
<text x="192.3" y="693.3" font-size="13.60" textLength="11.0" lengthAdjust="spacingAndGlyphs">pl</text>
<text x="203.7" y="687.9" font-size="16.50" textLength="104.3" lengthAdjust="spacingAndGlyphs">=0.6) = 7.87 q</text>
<text x="308.8" y="678.9" font-size="13.20" textLength="26.0" lengthAdjust="spacingAndGlyphs">0.37</text>
<text x="335.2" y="687.9" font-size="16.50" textLength="9.0" lengthAdjust="spacingAndGlyphs">e</text>
<text x="344.3" y="693.3" font-size="13.60" textLength="11.8" lengthAdjust="spacingAndGlyphs">pl</text>
<text x="356.4" y="678.9" font-size="13.20" textLength="26.4" lengthAdjust="spacingAndGlyphs">0.38</text>
<line x1="452" y1="608.6" x2="480" y2="608.6" stroke="#ff0000" stroke-width="3.2"/>
<line x1="452" y1="633.0" x2="480" y2="633.0" stroke="#00f800" stroke-width="3.2"/>
<line x1="452" y1="657.4" x2="480" y2="657.4" stroke="#0000f8" stroke-width="3.2"/>
<line x1="452" y1="681.8" x2="480" y2="681.8" stroke="#c080ff" stroke-width="3.2"/>
</g>
<text x="395.0" y="1102.6" font-size="17.70" textLength="15.2" lengthAdjust="spacingAndGlyphs">M</text>
<text x="410.2" y="1108.3" font-size="14.30" textLength="11.4" lengthAdjust="spacingAndGlyphs">pl</text>
<text x="426.0" y="1102.6" font-size="17.70">(</text>
<text x="430.6" y="1102.6" font-size="17.70" textLength="15.6" lengthAdjust="spacingAndGlyphs">M</text>
<text x="445.6" y="1108.3" font-size="14.30" textLength="23.4" lengthAdjust="spacingAndGlyphs">Jup</text>
<text x="468.4" y="1102.6" font-size="17.70">)</text>
<g transform="translate(31.2,842.3) rotate(-90)">
<text x="-0.3" y="0.0" font-size="17.70" textLength="17.2" lengthAdjust="spacingAndGlyphs">δa</text>
<text x="18.4" y="6.1" font-size="14.30" textLength="20.6" lengthAdjust="spacingAndGlyphs">cav</text>
</g>
<text x="746.0" y="567.0" font-size="32.40">(</text>
<text x="757.0" y="569.8" font-size="36.80">b</text>
<text x="777.8" y="567.0" font-size="32.40">)</text>
</svg>
</body></html>
